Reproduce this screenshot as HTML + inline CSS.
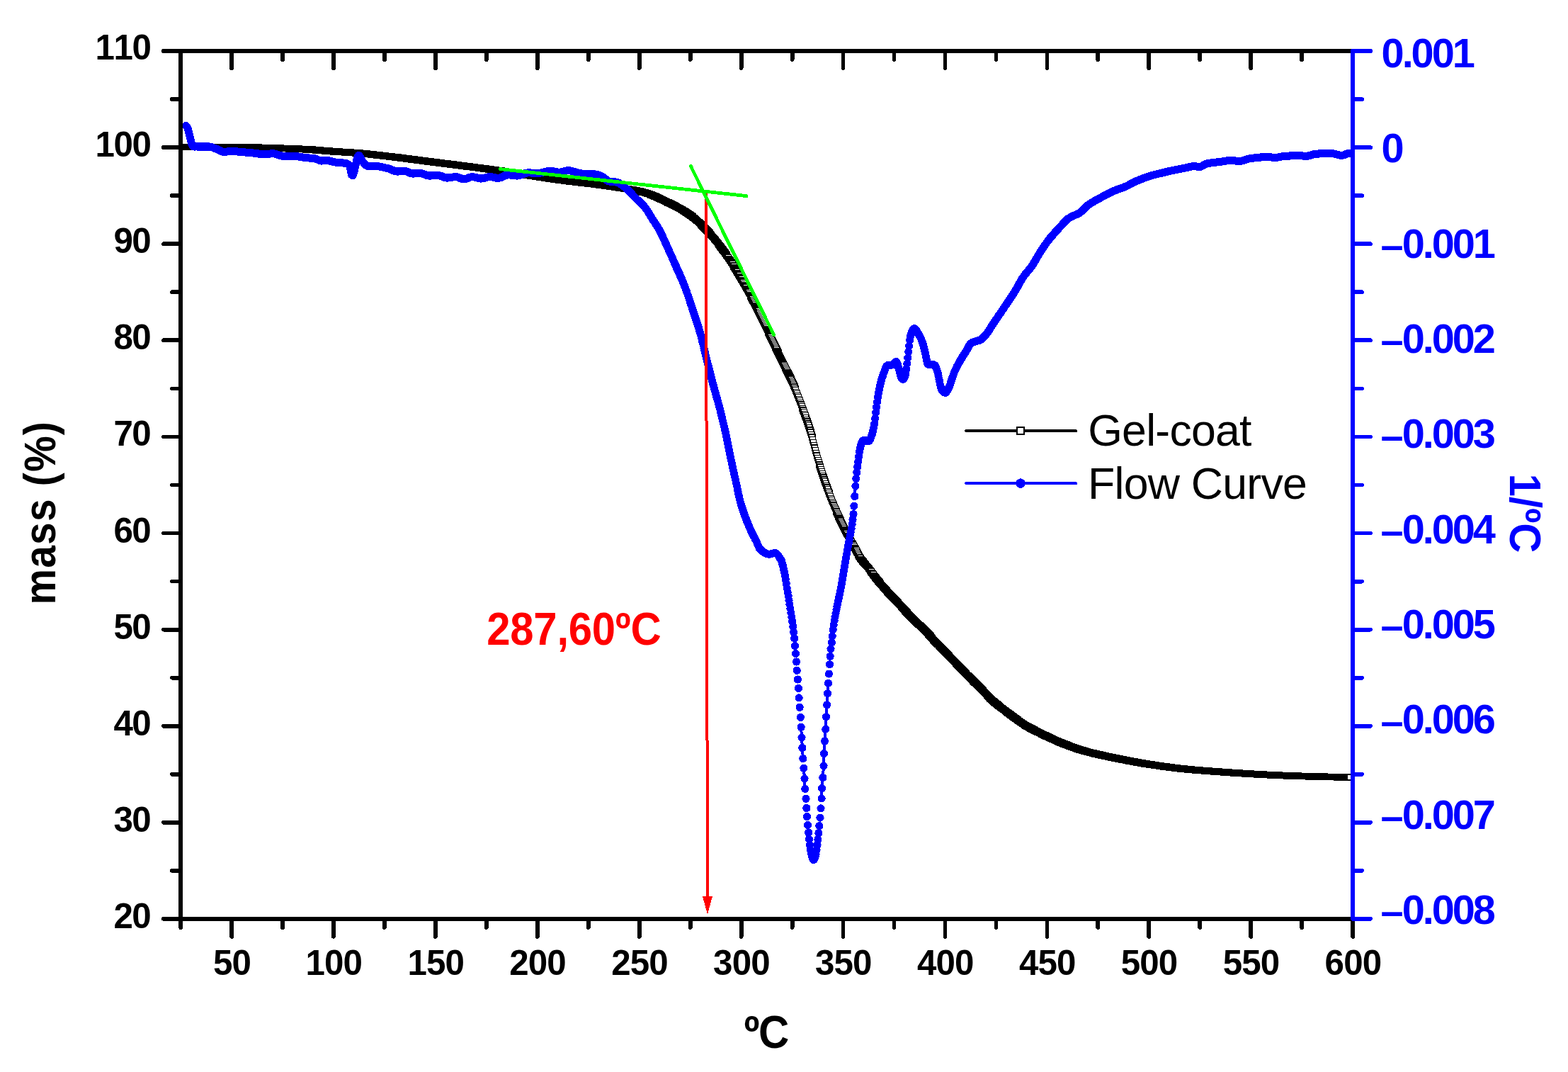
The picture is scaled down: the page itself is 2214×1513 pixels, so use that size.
<!DOCTYPE html>
<html lang="en"><head><meta charset="utf-8"><title>TGA / DTG - Gel-coat</title>
<style>html,body{margin:0;padding:0;background:#fff}svg{display:block}text{font-family:"Liberation Sans",sans-serif;font-kerning:none}.b{font-weight:bold}</style></head><body>
<svg width="2214" height="1513" viewBox="0 0 2214 1513" role="img" aria-label="TGA mass loss and DTG flow curve of gel-coat versus temperature">
<rect width="2214" height="1513" fill="#fff"/>
<g fill="#fff" stroke="#000000" stroke-width="1.4" shape-rendering="crispEdges">
<rect x="253.5" y="203.2" width="8.2" height="8.2"/><rect x="254.5" y="203.2" width="8.2" height="8.2"/><rect x="255.4" y="203.2" width="8.2" height="8.2"/><rect x="256.4" y="203.2" width="8.2" height="8.2"/><rect x="257.3" y="203.2" width="8.2" height="8.2"/><rect x="258.3" y="203.2" width="8.2" height="8.2"/><rect x="259.3" y="203.2" width="8.2" height="8.2"/><rect x="260.2" y="203.2" width="8.2" height="8.2"/><rect x="261.2" y="203.2" width="8.2" height="8.2"/><rect x="262.1" y="203.2" width="8.2" height="8.2"/><rect x="263.1" y="203.2" width="8.2" height="8.2"/><rect x="264.1" y="203.2" width="8.2" height="8.2"/><rect x="265" y="203.2" width="8.2" height="8.2"/><rect x="266" y="203.2" width="8.2" height="8.2"/><rect x="266.9" y="203.2" width="8.2" height="8.2"/><rect x="267.9" y="203.2" width="8.2" height="8.2"/><rect x="268.9" y="203.2" width="8.2" height="8.2"/><rect x="269.8" y="203.2" width="8.2" height="8.2"/><rect x="270.8" y="203.2" width="8.2" height="8.2"/><rect x="271.7" y="203.2" width="8.2" height="8.2"/><rect x="272.7" y="203.2" width="8.2" height="8.2"/><rect x="273.7" y="203.2" width="8.2" height="8.2"/><rect x="274.6" y="203.2" width="8.2" height="8.2"/><rect x="275.6" y="203.2" width="8.2" height="8.2"/><rect x="276.5" y="203.2" width="8.2" height="8.2"/><rect x="277.5" y="203.2" width="8.2" height="8.2"/><rect x="278.5" y="203.2" width="8.2" height="8.2"/><rect x="279.4" y="203.2" width="8.2" height="8.2"/><rect x="280.4" y="203.2" width="8.2" height="8.2"/><rect x="281.3" y="203.2" width="8.2" height="8.2"/><rect x="282.3" y="203.3" width="8.2" height="8.2"/><rect x="283.3" y="203.3" width="8.2" height="8.2"/><rect x="284.2" y="203.3" width="8.2" height="8.2"/><rect x="285.2" y="203.3" width="8.2" height="8.2"/><rect x="286.1" y="203.3" width="8.2" height="8.2"/><rect x="287.1" y="203.3" width="8.2" height="8.2"/><rect x="288.1" y="203.3" width="8.2" height="8.2"/><rect x="289" y="203.3" width="8.2" height="8.2"/><rect x="290" y="203.3" width="8.2" height="8.2"/><rect x="290.9" y="203.3" width="8.2" height="8.2"/><rect x="291.9" y="203.3" width="8.2" height="8.2"/><rect x="292.9" y="203.3" width="8.2" height="8.2"/><rect x="293.8" y="203.3" width="8.2" height="8.2"/><rect x="294.8" y="203.3" width="8.2" height="8.2"/><rect x="295.7" y="203.3" width="8.2" height="8.2"/><rect x="296.7" y="203.3" width="8.2" height="8.2"/><rect x="297.7" y="203.3" width="8.2" height="8.2"/><rect x="298.6" y="203.3" width="8.2" height="8.2"/><rect x="299.6" y="203.3" width="8.2" height="8.2"/><rect x="300.6" y="203.3" width="8.2" height="8.2"/><rect x="301.5" y="203.3" width="8.2" height="8.2"/><rect x="302.5" y="203.3" width="8.2" height="8.2"/><rect x="303.4" y="203.3" width="8.2" height="8.2"/><rect x="304.4" y="203.3" width="8.2" height="8.2"/><rect x="305.4" y="203.3" width="8.2" height="8.2"/><rect x="306.3" y="203.4" width="8.2" height="8.2"/><rect x="307.3" y="203.4" width="8.2" height="8.2"/><rect x="308.2" y="203.4" width="8.2" height="8.2"/><rect x="309.2" y="203.4" width="8.2" height="8.2"/><rect x="310.2" y="203.4" width="8.2" height="8.2"/><rect x="311.1" y="203.4" width="8.2" height="8.2"/><rect x="312.1" y="203.4" width="8.2" height="8.2"/><rect x="313" y="203.4" width="8.2" height="8.2"/><rect x="314" y="203.4" width="8.2" height="8.2"/><rect x="315" y="203.4" width="8.2" height="8.2"/><rect x="315.9" y="203.4" width="8.2" height="8.2"/><rect x="316.9" y="203.4" width="8.2" height="8.2"/><rect x="317.8" y="203.4" width="8.2" height="8.2"/><rect x="318.8" y="203.5" width="8.2" height="8.2"/><rect x="319.8" y="203.5" width="8.2" height="8.2"/><rect x="320.7" y="203.5" width="8.2" height="8.2"/><rect x="321.7" y="203.5" width="8.2" height="8.2"/><rect x="322.6" y="203.5" width="8.2" height="8.2"/><rect x="323.6" y="203.5" width="8.2" height="8.2"/><rect x="324.6" y="203.5" width="8.2" height="8.2"/><rect x="325.5" y="203.5" width="8.2" height="8.2"/><rect x="326.5" y="203.5" width="8.2" height="8.2"/><rect x="327.4" y="203.6" width="8.2" height="8.2"/><rect x="328.4" y="203.6" width="8.2" height="8.2"/><rect x="329.4" y="203.6" width="8.2" height="8.2"/><rect x="330.3" y="203.6" width="8.2" height="8.2"/><rect x="331.3" y="203.6" width="8.2" height="8.2"/><rect x="332.2" y="203.6" width="8.2" height="8.2"/><rect x="333.2" y="203.6" width="8.2" height="8.2"/><rect x="334.2" y="203.6" width="8.2" height="8.2"/><rect x="335.1" y="203.6" width="8.2" height="8.2"/><rect x="336.1" y="203.7" width="8.2" height="8.2"/><rect x="337" y="203.7" width="8.2" height="8.2"/><rect x="338" y="203.7" width="8.2" height="8.2"/><rect x="339" y="203.7" width="8.2" height="8.2"/><rect x="339.9" y="203.7" width="8.2" height="8.2"/><rect x="340.9" y="203.7" width="8.2" height="8.2"/><rect x="341.8" y="203.7" width="8.2" height="8.2"/><rect x="342.8" y="203.8" width="8.2" height="8.2"/><rect x="343.8" y="203.8" width="8.2" height="8.2"/><rect x="344.7" y="203.8" width="8.2" height="8.2"/><rect x="345.7" y="203.8" width="8.2" height="8.2"/><rect x="346.6" y="203.8" width="8.2" height="8.2"/><rect x="347.6" y="203.8" width="8.2" height="8.2"/><rect x="348.6" y="203.8" width="8.2" height="8.2"/><rect x="349.5" y="203.9" width="8.2" height="8.2"/><rect x="350.5" y="203.9" width="8.2" height="8.2"/><rect x="351.4" y="203.9" width="8.2" height="8.2"/><rect x="352.4" y="203.9" width="8.2" height="8.2"/><rect x="353.4" y="203.9" width="8.2" height="8.2"/><rect x="354.3" y="204" width="8.2" height="8.2"/><rect x="355.3" y="204" width="8.2" height="8.2"/><rect x="356.2" y="204" width="8.2" height="8.2"/><rect x="357.2" y="204" width="8.2" height="8.2"/><rect x="358.2" y="204.1" width="8.2" height="8.2"/><rect x="359.1" y="204.1" width="8.2" height="8.2"/><rect x="360.1" y="204.1" width="8.2" height="8.2"/><rect x="361" y="204.1" width="8.2" height="8.2"/><rect x="362" y="204.2" width="8.2" height="8.2"/><rect x="363" y="204.2" width="8.2" height="8.2"/><rect x="363.9" y="204.2" width="8.2" height="8.2"/><rect x="364.9" y="204.3" width="8.2" height="8.2"/><rect x="365.8" y="204.3" width="8.2" height="8.2"/><rect x="366.8" y="204.3" width="8.2" height="8.2"/><rect x="367.8" y="204.3" width="8.2" height="8.2"/><rect x="368.7" y="204.4" width="8.2" height="8.2"/><rect x="369.7" y="204.4" width="8.2" height="8.2"/><rect x="370.6" y="204.4" width="8.2" height="8.2"/><rect x="371.6" y="204.5" width="8.2" height="8.2"/><rect x="372.6" y="204.5" width="8.2" height="8.2"/><rect x="373.5" y="204.5" width="8.2" height="8.2"/><rect x="374.5" y="204.6" width="8.2" height="8.2"/><rect x="375.4" y="204.6" width="8.2" height="8.2"/><rect x="376.4" y="204.6" width="8.2" height="8.2"/><rect x="377.4" y="204.7" width="8.2" height="8.2"/><rect x="378.3" y="204.7" width="8.2" height="8.2"/><rect x="379.3" y="204.7" width="8.2" height="8.2"/><rect x="380.2" y="204.7" width="8.2" height="8.2"/><rect x="381.2" y="204.8" width="8.2" height="8.2"/><rect x="382.2" y="204.8" width="8.2" height="8.2"/><rect x="383.1" y="204.8" width="8.2" height="8.2"/><rect x="384.1" y="204.9" width="8.2" height="8.2"/><rect x="385.1" y="204.9" width="8.2" height="8.2"/><rect x="386" y="204.9" width="8.2" height="8.2"/><rect x="387" y="205" width="8.2" height="8.2"/><rect x="387.9" y="205" width="8.2" height="8.2"/><rect x="388.9" y="205" width="8.2" height="8.2"/><rect x="389.9" y="205.1" width="8.2" height="8.2"/><rect x="390.8" y="205.1" width="8.2" height="8.2"/><rect x="391.8" y="205.1" width="8.2" height="8.2"/><rect x="392.7" y="205.2" width="8.2" height="8.2"/><rect x="393.7" y="205.2" width="8.2" height="8.2"/><rect x="394.7" y="205.2" width="8.2" height="8.2"/><rect x="395.6" y="205.3" width="8.2" height="8.2"/><rect x="396.6" y="205.3" width="8.2" height="8.2"/><rect x="397.5" y="205.4" width="8.2" height="8.2"/><rect x="398.5" y="205.4" width="8.2" height="8.2"/><rect x="399.5" y="205.4" width="8.2" height="8.2"/><rect x="400.4" y="205.5" width="8.2" height="8.2"/><rect x="401.4" y="205.5" width="8.2" height="8.2"/><rect x="402.3" y="205.5" width="8.2" height="8.2"/><rect x="403.3" y="205.6" width="8.2" height="8.2"/><rect x="404.3" y="205.6" width="8.2" height="8.2"/><rect x="405.2" y="205.7" width="8.2" height="8.2"/><rect x="406.2" y="205.7" width="8.2" height="8.2"/><rect x="407.1" y="205.7" width="8.2" height="8.2"/><rect x="408.1" y="205.8" width="8.2" height="8.2"/><rect x="409.1" y="205.8" width="8.2" height="8.2"/><rect x="410" y="205.8" width="8.2" height="8.2"/><rect x="411" y="205.9" width="8.2" height="8.2"/><rect x="411.9" y="205.9" width="8.2" height="8.2"/><rect x="412.9" y="206" width="8.2" height="8.2"/><rect x="413.9" y="206" width="8.2" height="8.2"/><rect x="414.8" y="206" width="8.2" height="8.2"/><rect x="415.8" y="206.1" width="8.2" height="8.2"/><rect x="416.7" y="206.1" width="8.2" height="8.2"/><rect x="417.7" y="206.1" width="8.2" height="8.2"/><rect x="418.7" y="206.2" width="8.2" height="8.2"/><rect x="419.6" y="206.2" width="8.2" height="8.2"/><rect x="420.6" y="206.3" width="8.2" height="8.2"/><rect x="421.5" y="206.3" width="8.2" height="8.2"/><rect x="422.5" y="206.3" width="8.2" height="8.2"/><rect x="423.5" y="206.4" width="8.2" height="8.2"/><rect x="424.4" y="206.4" width="8.2" height="8.2"/><rect x="425.4" y="206.5" width="8.2" height="8.2"/><rect x="426.3" y="206.5" width="8.2" height="8.2"/><rect x="427.3" y="206.6" width="8.2" height="8.2"/><rect x="428.3" y="206.6" width="8.2" height="8.2"/><rect x="429.2" y="206.7" width="8.2" height="8.2"/><rect x="430.2" y="206.7" width="8.2" height="8.2"/><rect x="431.1" y="206.8" width="8.2" height="8.2"/><rect x="432.1" y="206.8" width="8.2" height="8.2"/><rect x="433.1" y="206.9" width="8.2" height="8.2"/><rect x="434" y="206.9" width="8.2" height="8.2"/><rect x="435" y="207" width="8.2" height="8.2"/><rect x="435.9" y="207.1" width="8.2" height="8.2"/><rect x="436.9" y="207.1" width="8.2" height="8.2"/><rect x="437.9" y="207.2" width="8.2" height="8.2"/><rect x="438.8" y="207.3" width="8.2" height="8.2"/><rect x="439.8" y="207.4" width="8.2" height="8.2"/><rect x="440.7" y="207.5" width="8.2" height="8.2"/><rect x="441.7" y="207.6" width="8.2" height="8.2"/><rect x="442.7" y="207.6" width="8.2" height="8.2"/><rect x="443.6" y="207.7" width="8.2" height="8.2"/><rect x="444.6" y="207.8" width="8.2" height="8.2"/><rect x="445.5" y="207.9" width="8.2" height="8.2"/><rect x="446.5" y="207.9" width="8.2" height="8.2"/><rect x="447.5" y="208" width="8.2" height="8.2"/><rect x="448.4" y="208.1" width="8.2" height="8.2"/><rect x="449.4" y="208.2" width="8.2" height="8.2"/><rect x="450.3" y="208.3" width="8.2" height="8.2"/><rect x="451.3" y="208.3" width="8.2" height="8.2"/><rect x="452.3" y="208.4" width="8.2" height="8.2"/><rect x="453.2" y="208.5" width="8.2" height="8.2"/><rect x="454.2" y="208.6" width="8.2" height="8.2"/><rect x="455.1" y="208.7" width="8.2" height="8.2"/><rect x="456.1" y="208.7" width="8.2" height="8.2"/><rect x="457.1" y="208.8" width="8.2" height="8.2"/><rect x="458" y="208.9" width="8.2" height="8.2"/><rect x="459" y="209" width="8.2" height="8.2"/><rect x="459.9" y="209" width="8.2" height="8.2"/><rect x="460.9" y="209.1" width="8.2" height="8.2"/><rect x="461.9" y="209.2" width="8.2" height="8.2"/><rect x="462.8" y="209.3" width="8.2" height="8.2"/><rect x="463.8" y="209.3" width="8.2" height="8.2"/><rect x="464.7" y="209.4" width="8.2" height="8.2"/><rect x="465.7" y="209.5" width="8.2" height="8.2"/><rect x="466.7" y="209.6" width="8.2" height="8.2"/><rect x="467.6" y="209.6" width="8.2" height="8.2"/><rect x="468.6" y="209.7" width="8.2" height="8.2"/><rect x="469.5" y="209.8" width="8.2" height="8.2"/><rect x="470.5" y="209.8" width="8.2" height="8.2"/><rect x="471.5" y="209.9" width="8.2" height="8.2"/><rect x="472.4" y="209.9" width="8.2" height="8.2"/><rect x="473.4" y="210" width="8.2" height="8.2"/><rect x="474.4" y="210.1" width="8.2" height="8.2"/><rect x="475.3" y="210.1" width="8.2" height="8.2"/><rect x="476.3" y="210.2" width="8.2" height="8.2"/><rect x="477.2" y="210.3" width="8.2" height="8.2"/><rect x="478.2" y="210.3" width="8.2" height="8.2"/><rect x="479.2" y="210.4" width="8.2" height="8.2"/><rect x="480.1" y="210.4" width="8.2" height="8.2"/><rect x="481.1" y="210.5" width="8.2" height="8.2"/><rect x="482" y="210.5" width="8.2" height="8.2"/><rect x="483" y="210.6" width="8.2" height="8.2"/><rect x="484" y="210.7" width="8.2" height="8.2"/><rect x="484.9" y="210.7" width="8.2" height="8.2"/><rect x="485.9" y="210.8" width="8.2" height="8.2"/><rect x="486.8" y="210.8" width="8.2" height="8.2"/><rect x="487.8" y="210.9" width="8.2" height="8.2"/><rect x="488.8" y="211" width="8.2" height="8.2"/><rect x="489.7" y="211" width="8.2" height="8.2"/><rect x="490.7" y="211.1" width="8.2" height="8.2"/><rect x="491.6" y="211.2" width="8.2" height="8.2"/><rect x="492.6" y="211.2" width="8.2" height="8.2"/><rect x="493.6" y="211.3" width="8.2" height="8.2"/><rect x="494.5" y="211.4" width="8.2" height="8.2"/><rect x="495.5" y="211.4" width="8.2" height="8.2"/><rect x="496.4" y="211.5" width="8.2" height="8.2"/><rect x="497.4" y="211.6" width="8.2" height="8.2"/><rect x="498.4" y="211.7" width="8.2" height="8.2"/><rect x="499.3" y="211.7" width="8.2" height="8.2"/><rect x="500.3" y="211.8" width="8.2" height="8.2"/><rect x="501.2" y="211.9" width="8.2" height="8.2"/><rect x="502.2" y="212" width="8.2" height="8.2"/><rect x="503.2" y="212.1" width="8.2" height="8.2"/><rect x="504.1" y="212.1" width="8.2" height="8.2"/><rect x="505.1" y="212.2" width="8.2" height="8.2"/><rect x="506" y="212.3" width="8.2" height="8.2"/><rect x="507" y="212.4" width="8.2" height="8.2"/><rect x="508" y="212.5" width="8.2" height="8.2"/><rect x="508.9" y="212.6" width="8.2" height="8.2"/><rect x="509.9" y="212.7" width="8.2" height="8.2"/><rect x="510.8" y="212.8" width="8.2" height="8.2"/><rect x="511.8" y="212.9" width="8.2" height="8.2"/><rect x="512.8" y="213" width="8.2" height="8.2"/><rect x="513.7" y="213.1" width="8.2" height="8.2"/><rect x="514.7" y="213.2" width="8.2" height="8.2"/><rect x="515.6" y="213.2" width="8.2" height="8.2"/><rect x="516.6" y="213.3" width="8.2" height="8.2"/><rect x="517.6" y="213.4" width="8.2" height="8.2"/><rect x="518.5" y="213.5" width="8.2" height="8.2"/><rect x="519.5" y="213.7" width="8.2" height="8.2"/><rect x="520.4" y="213.8" width="8.2" height="8.2"/><rect x="521.4" y="213.9" width="8.2" height="8.2"/><rect x="522.4" y="214" width="8.2" height="8.2"/><rect x="523.3" y="214.1" width="8.2" height="8.2"/><rect x="524.3" y="214.2" width="8.2" height="8.2"/><rect x="525.2" y="214.3" width="8.2" height="8.2"/><rect x="526.2" y="214.4" width="8.2" height="8.2"/><rect x="527.2" y="214.5" width="8.2" height="8.2"/><rect x="528.1" y="214.6" width="8.2" height="8.2"/><rect x="529.1" y="214.7" width="8.2" height="8.2"/><rect x="530" y="214.8" width="8.2" height="8.2"/><rect x="531" y="214.9" width="8.2" height="8.2"/><rect x="532" y="215" width="8.2" height="8.2"/><rect x="532.9" y="215.2" width="8.2" height="8.2"/><rect x="533.9" y="215.3" width="8.2" height="8.2"/><rect x="534.8" y="215.4" width="8.2" height="8.2"/><rect x="535.8" y="215.5" width="8.2" height="8.2"/><rect x="536.8" y="215.6" width="8.2" height="8.2"/><rect x="537.7" y="215.7" width="8.2" height="8.2"/><rect x="538.7" y="215.8" width="8.2" height="8.2"/><rect x="539.6" y="215.9" width="8.2" height="8.2"/><rect x="540.6" y="216" width="8.2" height="8.2"/><rect x="541.6" y="216.2" width="8.2" height="8.2"/><rect x="542.5" y="216.3" width="8.2" height="8.2"/><rect x="543.5" y="216.4" width="8.2" height="8.2"/><rect x="544.4" y="216.5" width="8.2" height="8.2"/><rect x="545.4" y="216.6" width="8.2" height="8.2"/><rect x="546.4" y="216.7" width="8.2" height="8.2"/><rect x="547.3" y="216.8" width="8.2" height="8.2"/><rect x="548.3" y="217" width="8.2" height="8.2"/><rect x="549.2" y="217.1" width="8.2" height="8.2"/><rect x="550.2" y="217.2" width="8.2" height="8.2"/><rect x="551.2" y="217.3" width="8.2" height="8.2"/><rect x="552.1" y="217.4" width="8.2" height="8.2"/><rect x="553.1" y="217.5" width="8.2" height="8.2"/><rect x="554" y="217.6" width="8.2" height="8.2"/><rect x="555" y="217.7" width="8.2" height="8.2"/><rect x="556" y="217.9" width="8.2" height="8.2"/><rect x="556.9" y="218" width="8.2" height="8.2"/><rect x="557.9" y="218.1" width="8.2" height="8.2"/><rect x="558.9" y="218.2" width="8.2" height="8.2"/><rect x="559.8" y="218.3" width="8.2" height="8.2"/><rect x="560.8" y="218.5" width="8.2" height="8.2"/><rect x="561.7" y="218.6" width="8.2" height="8.2"/><rect x="562.7" y="218.7" width="8.2" height="8.2"/><rect x="563.7" y="218.8" width="8.2" height="8.2"/><rect x="564.6" y="218.9" width="8.2" height="8.2"/><rect x="565.6" y="219.1" width="8.2" height="8.2"/><rect x="566.5" y="219.2" width="8.2" height="8.2"/><rect x="567.5" y="219.3" width="8.2" height="8.2"/><rect x="568.5" y="219.4" width="8.2" height="8.2"/><rect x="569.4" y="219.6" width="8.2" height="8.2"/><rect x="570.4" y="219.7" width="8.2" height="8.2"/><rect x="571.3" y="219.8" width="8.2" height="8.2"/><rect x="572.3" y="219.9" width="8.2" height="8.2"/><rect x="573.3" y="220.1" width="8.2" height="8.2"/><rect x="574.2" y="220.2" width="8.2" height="8.2"/><rect x="575.2" y="220.3" width="8.2" height="8.2"/><rect x="576.1" y="220.4" width="8.2" height="8.2"/><rect x="577.1" y="220.6" width="8.2" height="8.2"/><rect x="578.1" y="220.7" width="8.2" height="8.2"/><rect x="579" y="220.8" width="8.2" height="8.2"/><rect x="580" y="220.9" width="8.2" height="8.2"/><rect x="580.9" y="221.1" width="8.2" height="8.2"/><rect x="581.9" y="221.2" width="8.2" height="8.2"/><rect x="582.9" y="221.3" width="8.2" height="8.2"/><rect x="583.8" y="221.5" width="8.2" height="8.2"/><rect x="584.8" y="221.6" width="8.2" height="8.2"/><rect x="585.7" y="221.7" width="8.2" height="8.2"/><rect x="586.7" y="221.8" width="8.2" height="8.2"/><rect x="587.7" y="222" width="8.2" height="8.2"/><rect x="588.6" y="222.1" width="8.2" height="8.2"/><rect x="589.6" y="222.2" width="8.2" height="8.2"/><rect x="590.5" y="222.4" width="8.2" height="8.2"/><rect x="591.5" y="222.5" width="8.2" height="8.2"/><rect x="592.5" y="222.6" width="8.2" height="8.2"/><rect x="593.4" y="222.7" width="8.2" height="8.2"/><rect x="594.4" y="222.9" width="8.2" height="8.2"/><rect x="595.3" y="223" width="8.2" height="8.2"/><rect x="596.3" y="223.1" width="8.2" height="8.2"/><rect x="597.3" y="223.2" width="8.2" height="8.2"/><rect x="598.2" y="223.4" width="8.2" height="8.2"/><rect x="599.2" y="223.5" width="8.2" height="8.2"/><rect x="600.1" y="223.6" width="8.2" height="8.2"/><rect x="601.1" y="223.8" width="8.2" height="8.2"/><rect x="602.1" y="223.9" width="8.2" height="8.2"/><rect x="603" y="224" width="8.2" height="8.2"/><rect x="604" y="224.1" width="8.2" height="8.2"/><rect x="604.9" y="224.2" width="8.2" height="8.2"/><rect x="605.9" y="224.4" width="8.2" height="8.2"/><rect x="606.9" y="224.5" width="8.2" height="8.2"/><rect x="607.8" y="224.6" width="8.2" height="8.2"/><rect x="608.8" y="224.7" width="8.2" height="8.2"/><rect x="609.7" y="224.9" width="8.2" height="8.2"/><rect x="610.7" y="225" width="8.2" height="8.2"/><rect x="611.7" y="225.1" width="8.2" height="8.2"/><rect x="612.6" y="225.2" width="8.2" height="8.2"/><rect x="613.6" y="225.3" width="8.2" height="8.2"/><rect x="614.5" y="225.5" width="8.2" height="8.2"/><rect x="615.5" y="225.6" width="8.2" height="8.2"/><rect x="616.5" y="225.7" width="8.2" height="8.2"/><rect x="617.4" y="225.8" width="8.2" height="8.2"/><rect x="618.4" y="225.9" width="8.2" height="8.2"/><rect x="619.3" y="226.1" width="8.2" height="8.2"/><rect x="620.3" y="226.2" width="8.2" height="8.2"/><rect x="621.3" y="226.3" width="8.2" height="8.2"/><rect x="622.2" y="226.4" width="8.2" height="8.2"/><rect x="623.2" y="226.5" width="8.2" height="8.2"/><rect x="624.1" y="226.7" width="8.2" height="8.2"/><rect x="625.1" y="226.8" width="8.2" height="8.2"/><rect x="626.1" y="226.9" width="8.2" height="8.2"/><rect x="627" y="227" width="8.2" height="8.2"/><rect x="628" y="227.1" width="8.2" height="8.2"/><rect x="628.9" y="227.3" width="8.2" height="8.2"/><rect x="629.9" y="227.4" width="8.2" height="8.2"/><rect x="630.9" y="227.5" width="8.2" height="8.2"/><rect x="631.8" y="227.6" width="8.2" height="8.2"/><rect x="632.8" y="227.7" width="8.2" height="8.2"/><rect x="633.7" y="227.9" width="8.2" height="8.2"/><rect x="634.7" y="228" width="8.2" height="8.2"/><rect x="635.7" y="228.1" width="8.2" height="8.2"/><rect x="636.6" y="228.2" width="8.2" height="8.2"/><rect x="637.6" y="228.3" width="8.2" height="8.2"/><rect x="638.5" y="228.5" width="8.2" height="8.2"/><rect x="639.5" y="228.6" width="8.2" height="8.2"/><rect x="640.5" y="228.7" width="8.2" height="8.2"/><rect x="641.4" y="228.8" width="8.2" height="8.2"/><rect x="642.4" y="229" width="8.2" height="8.2"/><rect x="643.3" y="229.1" width="8.2" height="8.2"/><rect x="644.3" y="229.2" width="8.2" height="8.2"/><rect x="645.3" y="229.3" width="8.2" height="8.2"/><rect x="646.2" y="229.4" width="8.2" height="8.2"/><rect x="647.2" y="229.6" width="8.2" height="8.2"/><rect x="648.2" y="229.7" width="8.2" height="8.2"/><rect x="649.1" y="229.8" width="8.2" height="8.2"/><rect x="650.1" y="229.9" width="8.2" height="8.2"/><rect x="651" y="230.1" width="8.2" height="8.2"/><rect x="652" y="230.2" width="8.2" height="8.2"/><rect x="653" y="230.3" width="8.2" height="8.2"/><rect x="653.9" y="230.4" width="8.2" height="8.2"/><rect x="654.9" y="230.6" width="8.2" height="8.2"/><rect x="655.8" y="230.7" width="8.2" height="8.2"/><rect x="656.8" y="230.8" width="8.2" height="8.2"/><rect x="657.8" y="230.9" width="8.2" height="8.2"/><rect x="658.7" y="231" width="8.2" height="8.2"/><rect x="659.7" y="231.2" width="8.2" height="8.2"/><rect x="660.6" y="231.3" width="8.2" height="8.2"/><rect x="661.6" y="231.4" width="8.2" height="8.2"/><rect x="662.6" y="231.5" width="8.2" height="8.2"/><rect x="663.5" y="231.7" width="8.2" height="8.2"/><rect x="664.5" y="231.8" width="8.2" height="8.2"/><rect x="665.4" y="231.9" width="8.2" height="8.2"/><rect x="666.4" y="232" width="8.2" height="8.2"/><rect x="667.4" y="232.2" width="8.2" height="8.2"/><rect x="668.3" y="232.3" width="8.2" height="8.2"/><rect x="669.3" y="232.4" width="8.2" height="8.2"/><rect x="670.2" y="232.5" width="8.2" height="8.2"/><rect x="671.2" y="232.7" width="8.2" height="8.2"/><rect x="672.2" y="232.8" width="8.2" height="8.2"/><rect x="673.1" y="232.9" width="8.2" height="8.2"/><rect x="674.1" y="233" width="8.2" height="8.2"/><rect x="675" y="233.2" width="8.2" height="8.2"/><rect x="676" y="233.3" width="8.2" height="8.2"/><rect x="677" y="233.4" width="8.2" height="8.2"/><rect x="677.9" y="233.5" width="8.2" height="8.2"/><rect x="678.9" y="233.7" width="8.2" height="8.2"/><rect x="679.8" y="233.8" width="8.2" height="8.2"/><rect x="680.8" y="233.9" width="8.2" height="8.2"/><rect x="681.8" y="234.1" width="8.2" height="8.2"/><rect x="682.7" y="234.2" width="8.2" height="8.2"/><rect x="683.7" y="234.3" width="8.2" height="8.2"/><rect x="684.6" y="234.4" width="8.2" height="8.2"/><rect x="685.6" y="234.6" width="8.2" height="8.2"/><rect x="686.6" y="234.7" width="8.2" height="8.2"/><rect x="687.5" y="234.8" width="8.2" height="8.2"/><rect x="688.5" y="235" width="8.2" height="8.2"/><rect x="689.4" y="235.1" width="8.2" height="8.2"/><rect x="690.4" y="235.2" width="8.2" height="8.2"/><rect x="691.4" y="235.4" width="8.2" height="8.2"/><rect x="692.3" y="235.5" width="8.2" height="8.2"/><rect x="693.3" y="235.6" width="8.2" height="8.2"/><rect x="694.2" y="235.7" width="8.2" height="8.2"/><rect x="695.2" y="235.9" width="8.2" height="8.2"/><rect x="696.2" y="236" width="8.2" height="8.2"/><rect x="697.1" y="236.2" width="8.2" height="8.2"/><rect x="698.1" y="236.3" width="8.2" height="8.2"/><rect x="699" y="236.4" width="8.2" height="8.2"/><rect x="700" y="236.6" width="8.2" height="8.2"/><rect x="701" y="236.7" width="8.2" height="8.2"/><rect x="701.9" y="236.8" width="8.2" height="8.2"/><rect x="702.9" y="237" width="8.2" height="8.2"/><rect x="703.8" y="237.1" width="8.2" height="8.2"/><rect x="704.8" y="237.2" width="8.2" height="8.2"/><rect x="705.8" y="237.4" width="8.2" height="8.2"/><rect x="706.7" y="237.5" width="8.2" height="8.2"/><rect x="707.7" y="237.7" width="8.2" height="8.2"/><rect x="708.6" y="237.8" width="8.2" height="8.2"/><rect x="709.6" y="238" width="8.2" height="8.2"/><rect x="710.6" y="238.1" width="8.2" height="8.2"/><rect x="711.5" y="238.2" width="8.2" height="8.2"/><rect x="712.5" y="238.4" width="8.2" height="8.2"/><rect x="713.4" y="238.5" width="8.2" height="8.2"/><rect x="714.4" y="238.7" width="8.2" height="8.2"/><rect x="715.4" y="238.8" width="8.2" height="8.2"/><rect x="716.3" y="239" width="8.2" height="8.2"/><rect x="717.3" y="239.1" width="8.2" height="8.2"/><rect x="718.2" y="239.3" width="8.2" height="8.2"/><rect x="719.2" y="239.4" width="8.2" height="8.2"/><rect x="720.2" y="239.6" width="8.2" height="8.2"/><rect x="721.1" y="239.7" width="8.2" height="8.2"/><rect x="722.1" y="239.9" width="8.2" height="8.2"/><rect x="723" y="240" width="8.2" height="8.2"/><rect x="724" y="240.2" width="8.2" height="8.2"/><rect x="725" y="240.3" width="8.2" height="8.2"/><rect x="725.9" y="240.5" width="8.2" height="8.2"/><rect x="726.9" y="240.6" width="8.2" height="8.2"/><rect x="727.8" y="240.8" width="8.2" height="8.2"/><rect x="728.8" y="240.9" width="8.2" height="8.2"/><rect x="729.8" y="241.1" width="8.2" height="8.2"/><rect x="730.7" y="241.2" width="8.2" height="8.2"/><rect x="731.7" y="241.4" width="8.2" height="8.2"/><rect x="732.7" y="241.6" width="8.2" height="8.2"/><rect x="733.6" y="241.7" width="8.2" height="8.2"/><rect x="734.6" y="241.9" width="8.2" height="8.2"/><rect x="735.5" y="242" width="8.2" height="8.2"/><rect x="736.5" y="242.2" width="8.2" height="8.2"/><rect x="737.5" y="242.3" width="8.2" height="8.2"/><rect x="738.4" y="242.5" width="8.2" height="8.2"/><rect x="739.4" y="242.6" width="8.2" height="8.2"/><rect x="740.3" y="242.8" width="8.2" height="8.2"/><rect x="741.3" y="242.9" width="8.2" height="8.2"/><rect x="742.3" y="243.1" width="8.2" height="8.2"/><rect x="743.2" y="243.3" width="8.2" height="8.2"/><rect x="744.2" y="243.4" width="8.2" height="8.2"/><rect x="745.1" y="243.6" width="8.2" height="8.2"/><rect x="746.1" y="243.7" width="8.2" height="8.2"/><rect x="747.1" y="243.9" width="8.2" height="8.2"/><rect x="748" y="244" width="8.2" height="8.2"/><rect x="749" y="244.2" width="8.2" height="8.2"/><rect x="749.9" y="244.3" width="8.2" height="8.2"/><rect x="750.9" y="244.5" width="8.2" height="8.2"/><rect x="751.9" y="244.6" width="8.2" height="8.2"/><rect x="752.8" y="244.8" width="8.2" height="8.2"/><rect x="753.8" y="244.9" width="8.2" height="8.2"/><rect x="754.7" y="245.1" width="8.2" height="8.2"/><rect x="755.7" y="245.3" width="8.2" height="8.2"/><rect x="756.7" y="245.4" width="8.2" height="8.2"/><rect x="757.6" y="245.6" width="8.2" height="8.2"/><rect x="758.6" y="245.7" width="8.2" height="8.2"/><rect x="759.5" y="245.9" width="8.2" height="8.2"/><rect x="760.5" y="246" width="8.2" height="8.2"/><rect x="761.5" y="246.2" width="8.2" height="8.2"/><rect x="762.4" y="246.3" width="8.2" height="8.2"/><rect x="763.4" y="246.5" width="8.2" height="8.2"/><rect x="764.3" y="246.6" width="8.2" height="8.2"/><rect x="765.3" y="246.8" width="8.2" height="8.2"/><rect x="766.3" y="246.9" width="8.2" height="8.2"/><rect x="767.2" y="247.1" width="8.2" height="8.2"/><rect x="768.2" y="247.2" width="8.2" height="8.2"/><rect x="769.1" y="247.3" width="8.2" height="8.2"/><rect x="770.1" y="247.5" width="8.2" height="8.2"/><rect x="771.1" y="247.6" width="8.2" height="8.2"/><rect x="772" y="247.8" width="8.2" height="8.2"/><rect x="773" y="247.9" width="8.2" height="8.2"/><rect x="773.9" y="248.1" width="8.2" height="8.2"/><rect x="774.9" y="248.2" width="8.2" height="8.2"/><rect x="775.9" y="248.4" width="8.2" height="8.2"/><rect x="776.8" y="248.5" width="8.2" height="8.2"/><rect x="777.8" y="248.6" width="8.2" height="8.2"/><rect x="778.7" y="248.8" width="8.2" height="8.2"/><rect x="779.7" y="248.9" width="8.2" height="8.2"/><rect x="780.7" y="249.1" width="8.2" height="8.2"/><rect x="781.6" y="249.2" width="8.2" height="8.2"/><rect x="782.6" y="249.3" width="8.2" height="8.2"/><rect x="783.5" y="249.5" width="8.2" height="8.2"/><rect x="784.5" y="249.6" width="8.2" height="8.2"/><rect x="785.5" y="249.7" width="8.2" height="8.2"/><rect x="786.4" y="249.9" width="8.2" height="8.2"/><rect x="787.4" y="250" width="8.2" height="8.2"/><rect x="788.3" y="250.1" width="8.2" height="8.2"/><rect x="789.3" y="250.3" width="8.2" height="8.2"/><rect x="790.3" y="250.4" width="8.2" height="8.2"/><rect x="791.2" y="250.5" width="8.2" height="8.2"/><rect x="792.2" y="250.7" width="8.2" height="8.2"/><rect x="793.1" y="250.8" width="8.2" height="8.2"/><rect x="794.1" y="250.9" width="8.2" height="8.2"/><rect x="795.1" y="251" width="8.2" height="8.2"/><rect x="796" y="251.2" width="8.2" height="8.2"/><rect x="797" y="251.3" width="8.2" height="8.2"/><rect x="797.9" y="251.4" width="8.2" height="8.2"/><rect x="798.9" y="251.5" width="8.2" height="8.2"/><rect x="799.9" y="251.6" width="8.2" height="8.2"/><rect x="800.8" y="251.7" width="8.2" height="8.2"/><rect x="801.8" y="251.9" width="8.2" height="8.2"/><rect x="802.7" y="252" width="8.2" height="8.2"/><rect x="803.7" y="252.1" width="8.2" height="8.2"/><rect x="804.7" y="252.2" width="8.2" height="8.2"/><rect x="805.6" y="252.3" width="8.2" height="8.2"/><rect x="806.6" y="252.4" width="8.2" height="8.2"/><rect x="807.5" y="252.5" width="8.2" height="8.2"/><rect x="808.5" y="252.7" width="8.2" height="8.2"/><rect x="809.5" y="252.8" width="8.2" height="8.2"/><rect x="810.4" y="252.9" width="8.2" height="8.2"/><rect x="811.4" y="253" width="8.2" height="8.2"/><rect x="812.3" y="253.1" width="8.2" height="8.2"/><rect x="813.3" y="253.2" width="8.2" height="8.2"/><rect x="814.3" y="253.3" width="8.2" height="8.2"/><rect x="815.2" y="253.4" width="8.2" height="8.2"/><rect x="816.2" y="253.5" width="8.2" height="8.2"/><rect x="817.1" y="253.6" width="8.2" height="8.2"/><rect x="818.1" y="253.8" width="8.2" height="8.2"/><rect x="819.1" y="253.9" width="8.2" height="8.2"/><rect x="820" y="254" width="8.2" height="8.2"/><rect x="821" y="254.1" width="8.2" height="8.2"/><rect x="822" y="254.2" width="8.2" height="8.2"/><rect x="822.9" y="254.3" width="8.2" height="8.2"/><rect x="823.9" y="254.4" width="8.2" height="8.2"/><rect x="824.8" y="254.5" width="8.2" height="8.2"/><rect x="825.8" y="254.6" width="8.2" height="8.2"/><rect x="826.8" y="254.7" width="8.2" height="8.2"/><rect x="827.7" y="254.9" width="8.2" height="8.2"/><rect x="828.7" y="255" width="8.2" height="8.2"/><rect x="829.6" y="255.1" width="8.2" height="8.2"/><rect x="830.6" y="255.2" width="8.2" height="8.2"/><rect x="831.6" y="255.3" width="8.2" height="8.2"/><rect x="832.5" y="255.4" width="8.2" height="8.2"/><rect x="833.5" y="255.5" width="8.2" height="8.2"/><rect x="834.4" y="255.7" width="8.2" height="8.2"/><rect x="835.4" y="255.8" width="8.2" height="8.2"/><rect x="836.4" y="255.9" width="8.2" height="8.2"/><rect x="837.3" y="256" width="8.2" height="8.2"/><rect x="838.3" y="256.1" width="8.2" height="8.2"/><rect x="839.2" y="256.2" width="8.2" height="8.2"/><rect x="840.2" y="256.4" width="8.2" height="8.2"/><rect x="841.2" y="256.5" width="8.2" height="8.2"/><rect x="842.1" y="256.6" width="8.2" height="8.2"/><rect x="843.1" y="256.7" width="8.2" height="8.2"/><rect x="844" y="256.9" width="8.2" height="8.2"/><rect x="845" y="257" width="8.2" height="8.2"/><rect x="846" y="257.1" width="8.2" height="8.2"/><rect x="846.9" y="257.3" width="8.2" height="8.2"/><rect x="847.9" y="257.4" width="8.2" height="8.2"/><rect x="848.8" y="257.5" width="8.2" height="8.2"/><rect x="849.8" y="257.7" width="8.2" height="8.2"/><rect x="850.8" y="257.8" width="8.2" height="8.2"/><rect x="851.7" y="257.9" width="8.2" height="8.2"/><rect x="852.7" y="258.1" width="8.2" height="8.2"/><rect x="853.6" y="258.2" width="8.2" height="8.2"/><rect x="854.6" y="258.3" width="8.2" height="8.2"/><rect x="855.6" y="258.5" width="8.2" height="8.2"/><rect x="856.5" y="258.6" width="8.2" height="8.2"/><rect x="857.5" y="258.8" width="8.2" height="8.2"/><rect x="858.4" y="258.9" width="8.2" height="8.2"/><rect x="859.4" y="259.1" width="8.2" height="8.2"/><rect x="860.4" y="259.2" width="8.2" height="8.2"/><rect x="861.3" y="259.3" width="8.2" height="8.2"/><rect x="862.3" y="259.5" width="8.2" height="8.2"/><rect x="863.2" y="259.6" width="8.2" height="8.2"/><rect x="864.2" y="259.8" width="8.2" height="8.2"/><rect x="865.2" y="259.9" width="8.2" height="8.2"/><rect x="866.1" y="260" width="8.2" height="8.2"/><rect x="867.1" y="260.2" width="8.2" height="8.2"/><rect x="868" y="260.3" width="8.2" height="8.2"/><rect x="869" y="260.5" width="8.2" height="8.2"/><rect x="870" y="260.6" width="8.2" height="8.2"/><rect x="870.9" y="260.8" width="8.2" height="8.2"/><rect x="871.9" y="260.9" width="8.2" height="8.2"/><rect x="872.8" y="261.1" width="8.2" height="8.2"/><rect x="873.8" y="261.2" width="8.2" height="8.2"/><rect x="874.8" y="261.4" width="8.2" height="8.2"/><rect x="875.7" y="261.5" width="8.2" height="8.2"/><rect x="876.7" y="261.7" width="8.2" height="8.2"/><rect x="877.6" y="261.8" width="8.2" height="8.2"/><rect x="878.6" y="262" width="8.2" height="8.2"/><rect x="879.6" y="262.2" width="8.2" height="8.2"/><rect x="880.5" y="262.3" width="8.2" height="8.2"/><rect x="881.5" y="262.5" width="8.2" height="8.2"/><rect x="882.4" y="262.7" width="8.2" height="8.2"/><rect x="883.4" y="262.8" width="8.2" height="8.2"/><rect x="884.4" y="263" width="8.2" height="8.2"/><rect x="885.3" y="263.2" width="8.2" height="8.2"/><rect x="886.3" y="263.3" width="8.2" height="8.2"/><rect x="887.2" y="263.5" width="8.2" height="8.2"/><rect x="888.2" y="263.7" width="8.2" height="8.2"/><rect x="889.2" y="263.9" width="8.2" height="8.2"/><rect x="890.1" y="264.1" width="8.2" height="8.2"/><rect x="891.1" y="264.3" width="8.2" height="8.2"/><rect x="892" y="264.5" width="8.2" height="8.2"/><rect x="893" y="264.7" width="8.2" height="8.2"/><rect x="894" y="264.9" width="8.2" height="8.2"/><rect x="894.9" y="265.1" width="8.2" height="8.2"/><rect x="895.9" y="265.3" width="8.2" height="8.2"/><rect x="896.8" y="265.5" width="8.2" height="8.2"/><rect x="897.8" y="265.7" width="8.2" height="8.2"/><rect x="898.8" y="265.9" width="8.2" height="8.2"/><rect x="899.7" y="266.1" width="8.2" height="8.2"/><rect x="900.7" y="266.3" width="8.2" height="8.2"/><rect x="901.6" y="266.6" width="8.2" height="8.2"/><rect x="902.6" y="266.8" width="8.2" height="8.2"/><rect x="903.6" y="267" width="8.2" height="8.2"/><rect x="904.5" y="267.3" width="8.2" height="8.2"/><rect x="905.5" y="267.5" width="8.2" height="8.2"/><rect x="906.5" y="267.8" width="8.2" height="8.2"/><rect x="907.4" y="268" width="8.2" height="8.2"/><rect x="908.4" y="268.3" width="8.2" height="8.2"/><rect x="909.3" y="268.6" width="8.2" height="8.2"/><rect x="910.3" y="268.9" width="8.2" height="8.2"/><rect x="911.3" y="269.2" width="8.2" height="8.2"/><rect x="912.2" y="269.5" width="8.2" height="8.2"/><rect x="913.2" y="269.9" width="8.2" height="8.2"/><rect x="914.1" y="270.2" width="8.2" height="8.2"/><rect x="915.1" y="270.6" width="8.2" height="8.2"/><rect x="916.1" y="271" width="8.2" height="8.2"/><rect x="917" y="271.4" width="8.2" height="8.2"/><rect x="918" y="271.8" width="8.2" height="8.2"/><rect x="918.9" y="272.2" width="8.2" height="8.2"/><rect x="919.9" y="272.6" width="8.2" height="8.2"/><rect x="920.9" y="273" width="8.2" height="8.2"/><rect x="921.8" y="273.4" width="8.2" height="8.2"/><rect x="922.8" y="273.9" width="8.2" height="8.2"/><rect x="923.7" y="274.3" width="8.2" height="8.2"/><rect x="924.7" y="274.7" width="8.2" height="8.2"/><rect x="925.7" y="275.2" width="8.2" height="8.2"/><rect x="926.6" y="275.6" width="8.2" height="8.2"/><rect x="927.6" y="276.1" width="8.2" height="8.2"/><rect x="928.5" y="276.6" width="8.2" height="8.2"/><rect x="929.5" y="277" width="8.2" height="8.2"/><rect x="930.5" y="277.5" width="8.2" height="8.2"/><rect x="931.4" y="277.9" width="8.2" height="8.2"/><rect x="932.4" y="278.4" width="8.2" height="8.2"/><rect x="933.3" y="278.9" width="8.2" height="8.2"/><rect x="934.3" y="279.3" width="8.2" height="8.2"/><rect x="935.3" y="279.8" width="8.2" height="8.2"/><rect x="936.2" y="280.3" width="8.2" height="8.2"/><rect x="937.2" y="280.7" width="8.2" height="8.2"/><rect x="938.1" y="281.2" width="8.2" height="8.2"/><rect x="939.1" y="281.6" width="8.2" height="8.2"/><rect x="940.1" y="282.1" width="8.2" height="8.2"/><rect x="941" y="282.5" width="8.2" height="8.2"/><rect x="942" y="283" width="8.2" height="8.2"/><rect x="942.9" y="283.5" width="8.2" height="8.2"/><rect x="943.9" y="283.9" width="8.2" height="8.2"/><rect x="944.9" y="284.4" width="8.2" height="8.2"/><rect x="945.8" y="284.9" width="8.2" height="8.2"/><rect x="946.8" y="285.4" width="8.2" height="8.2"/><rect x="947.7" y="285.9" width="8.2" height="8.2"/><rect x="948.7" y="286.4" width="8.2" height="8.2"/><rect x="949.7" y="286.8" width="8.2" height="8.2"/><rect x="950.6" y="287.3" width="8.2" height="8.2"/><rect x="951.6" y="287.8" width="8.2" height="8.2"/><rect x="952.5" y="288.4" width="8.2" height="8.2"/><rect x="953.5" y="288.9" width="8.2" height="8.2"/><rect x="954.5" y="289.4" width="8.2" height="8.2"/><rect x="955.4" y="289.9" width="8.2" height="8.2"/><rect x="956.4" y="290.5" width="8.2" height="8.2"/><rect x="957.3" y="291" width="8.2" height="8.2"/><rect x="958.3" y="291.6" width="8.2" height="8.2"/><rect x="959.3" y="292.1" width="8.2" height="8.2"/><rect x="960.2" y="292.7" width="8.2" height="8.2"/><rect x="961.2" y="293.3" width="8.2" height="8.2"/><rect x="962.1" y="293.8" width="8.2" height="8.2"/><rect x="963.1" y="294.4" width="8.2" height="8.2"/><rect x="964.1" y="295" width="8.2" height="8.2"/><rect x="965" y="295.7" width="8.2" height="8.2"/><rect x="966" y="296.3" width="8.2" height="8.2"/><rect x="966.9" y="296.9" width="8.2" height="8.2"/><rect x="967.9" y="297.6" width="8.2" height="8.2"/><rect x="968.9" y="298.2" width="8.2" height="8.2"/><rect x="969.8" y="298.9" width="8.2" height="8.2"/><rect x="970.8" y="299.6" width="8.2" height="8.2"/><rect x="971.7" y="300.3" width="8.2" height="8.2"/><rect x="972.7" y="301" width="8.2" height="8.2"/><rect x="973.7" y="301.8" width="8.2" height="8.2"/><rect x="974.6" y="302.6" width="8.2" height="8.2"/><rect x="975.6" y="303.3" width="8.2" height="8.2"/><rect x="976.5" y="304.1" width="8.2" height="8.2"/><rect x="977.5" y="304.9" width="8.2" height="8.2"/><rect x="978.5" y="305.8" width="8.2" height="8.2"/><rect x="979.4" y="306.6" width="8.2" height="8.2"/><rect x="980.4" y="307.5" width="8.2" height="8.2"/><rect x="981.3" y="308.3" width="8.2" height="8.2"/><rect x="982.3" y="309.2" width="8.2" height="8.2"/><rect x="983.3" y="310.1" width="8.2" height="8.2"/><rect x="984.2" y="311" width="8.2" height="8.2"/><rect x="985.2" y="311.9" width="8.2" height="8.2"/><rect x="986.1" y="312.9" width="8.2" height="8.2"/><rect x="987.1" y="313.8" width="8.2" height="8.2"/><rect x="988.1" y="314.8" width="8.2" height="8.2"/><rect x="989" y="315.7" width="8.2" height="8.2"/><rect x="990" y="316.7" width="8.2" height="8.2"/><rect x="990.9" y="317.6" width="8.2" height="8.2"/><rect x="991.9" y="318.6" width="8.2" height="8.2"/><rect x="992.9" y="319.6" width="8.2" height="8.2"/><rect x="993.8" y="320.6" width="8.2" height="8.2"/><rect x="994.8" y="321.7" width="8.2" height="8.2"/><rect x="995.8" y="322.7" width="8.2" height="8.2"/><rect x="996.7" y="323.8" width="8.2" height="8.2"/><rect x="997.7" y="324.8" width="8.2" height="8.2"/><rect x="998.6" y="325.9" width="8.2" height="8.2"/><rect x="999.6" y="327" width="8.2" height="8.2"/><rect x="1000.6" y="328.1" width="8.2" height="8.2"/><rect x="1001.5" y="329.2" width="8.2" height="8.2"/><rect x="1002.5" y="330.4" width="8.2" height="8.2"/><rect x="1003.4" y="331.5" width="8.2" height="8.2"/><rect x="1004.4" y="332.7" width="8.2" height="8.2"/><rect x="1005.4" y="333.9" width="8.2" height="8.2"/><rect x="1006.3" y="335.1" width="8.2" height="8.2"/><rect x="1007.3" y="336.3" width="8.2" height="8.2"/><rect x="1008.2" y="337.5" width="8.2" height="8.2"/><rect x="1009.2" y="338.7" width="8.2" height="8.2"/><rect x="1010.2" y="339.9" width="8.2" height="8.2"/><rect x="1011.1" y="341.2" width="8.2" height="8.2"/><rect x="1012.1" y="342.4" width="8.2" height="8.2"/><rect x="1013" y="343.7" width="8.2" height="8.2"/><rect x="1014" y="345" width="8.2" height="8.2"/><rect x="1015" y="346.3" width="8.2" height="8.2"/><rect x="1015.9" y="347.6" width="8.2" height="8.2"/><rect x="1016.9" y="348.9" width="8.2" height="8.2"/><rect x="1017.8" y="350.2" width="8.2" height="8.2"/><rect x="1018.8" y="351.5" width="8.2" height="8.2"/><rect x="1019.8" y="352.9" width="8.2" height="8.2"/><rect x="1020.7" y="354.2" width="8.2" height="8.2"/><rect x="1021.7" y="355.6" width="8.2" height="8.2"/><rect x="1022.6" y="357" width="8.2" height="8.2"/><rect x="1023.6" y="358.3" width="8.2" height="8.2"/><rect x="1024.6" y="359.8" width="8.2" height="8.2"/><rect x="1025.5" y="361.2" width="8.2" height="8.2"/><rect x="1026.5" y="362.6" width="8.2" height="8.2"/><rect x="1027.4" y="364.1" width="8.2" height="8.2"/><rect x="1028.4" y="365.6" width="8.2" height="8.2"/><rect x="1029.4" y="367.1" width="8.2" height="8.2"/><rect x="1030.3" y="368.7" width="8.2" height="8.2"/><rect x="1031.3" y="370.2" width="8.2" height="8.2"/><rect x="1032.2" y="371.8" width="8.2" height="8.2"/><rect x="1033.2" y="373.3" width="8.2" height="8.2"/><rect x="1034.2" y="374.9" width="8.2" height="8.2"/><rect x="1035.1" y="376.5" width="8.2" height="8.2"/><rect x="1036.1" y="378.1" width="8.2" height="8.2"/><rect x="1037" y="379.8" width="8.2" height="8.2"/><rect x="1038" y="381.4" width="8.2" height="8.2"/><rect x="1039" y="383" width="8.2" height="8.2"/><rect x="1039.9" y="384.7" width="8.2" height="8.2"/><rect x="1040.9" y="386.4" width="8.2" height="8.2"/><rect x="1041.8" y="388" width="8.2" height="8.2"/><rect x="1042.8" y="389.7" width="8.2" height="8.2"/><rect x="1043.8" y="391.4" width="8.2" height="8.2"/><rect x="1044.7" y="393.1" width="8.2" height="8.2"/><rect x="1045.7" y="394.8" width="8.2" height="8.2"/><rect x="1046.6" y="396.5" width="8.2" height="8.2"/><rect x="1047.6" y="398.2" width="8.2" height="8.2"/><rect x="1048.6" y="399.9" width="8.2" height="8.2"/><rect x="1049.5" y="401.6" width="8.2" height="8.2"/><rect x="1050.5" y="403.4" width="8.2" height="8.2"/><rect x="1051.4" y="405.1" width="8.2" height="8.2"/><rect x="1052.4" y="406.9" width="8.2" height="8.2"/><rect x="1053.4" y="408.7" width="8.2" height="8.2"/><rect x="1054.3" y="410.5" width="8.2" height="8.2"/><rect x="1055.3" y="412.3" width="8.2" height="8.2"/><rect x="1056.2" y="414.1" width="8.2" height="8.2"/><rect x="1057.2" y="415.9" width="8.2" height="8.2"/><rect x="1058.2" y="417.8" width="8.2" height="8.2"/><rect x="1059.1" y="419.7" width="8.2" height="8.2"/><rect x="1060.1" y="421.5" width="8.2" height="8.2"/><rect x="1061" y="423.4" width="8.2" height="8.2"/><rect x="1062" y="425.3" width="8.2" height="8.2"/><rect x="1063" y="427.2" width="8.2" height="8.2"/><rect x="1063.9" y="429.1" width="8.2" height="8.2"/><rect x="1064.9" y="431" width="8.2" height="8.2"/><rect x="1065.8" y="432.9" width="8.2" height="8.2"/><rect x="1066.8" y="434.8" width="8.2" height="8.2"/><rect x="1067.8" y="436.8" width="8.2" height="8.2"/><rect x="1068.7" y="438.7" width="8.2" height="8.2"/><rect x="1069.7" y="440.7" width="8.2" height="8.2"/><rect x="1070.6" y="442.7" width="8.2" height="8.2"/><rect x="1071.6" y="444.7" width="8.2" height="8.2"/><rect x="1072.6" y="446.7" width="8.2" height="8.2"/><rect x="1073.5" y="448.7" width="8.2" height="8.2"/><rect x="1074.5" y="450.7" width="8.2" height="8.2"/><rect x="1075.4" y="452.7" width="8.2" height="8.2"/><rect x="1076.4" y="454.8" width="8.2" height="8.2"/><rect x="1077.4" y="456.8" width="8.2" height="8.2"/><rect x="1078.3" y="458.8" width="8.2" height="8.2"/><rect x="1079.3" y="460.9" width="8.2" height="8.2"/><rect x="1080.3" y="462.9" width="8.2" height="8.2"/><rect x="1081.2" y="465" width="8.2" height="8.2"/><rect x="1082.2" y="467" width="8.2" height="8.2"/><rect x="1083.1" y="469" width="8.2" height="8.2"/><rect x="1084.1" y="471.1" width="8.2" height="8.2"/><rect x="1085.1" y="473.2" width="8.2" height="8.2"/><rect x="1086" y="475.2" width="8.2" height="8.2"/><rect x="1087" y="477.3" width="8.2" height="8.2"/><rect x="1087.9" y="479.4" width="8.2" height="8.2"/><rect x="1088.9" y="481.5" width="8.2" height="8.2"/><rect x="1089.9" y="483.5" width="8.2" height="8.2"/><rect x="1090.8" y="485.6" width="8.2" height="8.2"/><rect x="1091.8" y="487.7" width="8.2" height="8.2"/><rect x="1092.7" y="489.8" width="8.2" height="8.2"/><rect x="1093.7" y="491.9" width="8.2" height="8.2"/><rect x="1094.7" y="493.9" width="8.2" height="8.2"/><rect x="1095.6" y="496" width="8.2" height="8.2"/><rect x="1096.6" y="498" width="8.2" height="8.2"/><rect x="1097.5" y="500.1" width="8.2" height="8.2"/><rect x="1098.5" y="502.1" width="8.2" height="8.2"/><rect x="1099.5" y="504.1" width="8.2" height="8.2"/><rect x="1100.4" y="506" width="8.2" height="8.2"/><rect x="1101.4" y="508" width="8.2" height="8.2"/><rect x="1102.3" y="509.9" width="8.2" height="8.2"/><rect x="1103.3" y="511.8" width="8.2" height="8.2"/><rect x="1104.3" y="513.7" width="8.2" height="8.2"/><rect x="1105.2" y="515.5" width="8.2" height="8.2"/><rect x="1106.2" y="517.4" width="8.2" height="8.2"/><rect x="1107.1" y="519.3" width="8.2" height="8.2"/><rect x="1108.1" y="521.2" width="8.2" height="8.2"/><rect x="1109.1" y="523.1" width="8.2" height="8.2"/><rect x="1110" y="525.1" width="8.2" height="8.2"/><rect x="1111" y="527" width="8.2" height="8.2"/><rect x="1111.9" y="529" width="8.2" height="8.2"/><rect x="1112.9" y="531.1" width="8.2" height="8.2"/><rect x="1113.9" y="533.2" width="8.2" height="8.2"/><rect x="1114.8" y="535.3" width="8.2" height="8.2"/><rect x="1115.8" y="537.5" width="8.2" height="8.2"/><rect x="1116.7" y="539.7" width="8.2" height="8.2"/><rect x="1117.7" y="542" width="8.2" height="8.2"/><rect x="1118.7" y="544.4" width="8.2" height="8.2"/><rect x="1119.6" y="546.8" width="8.2" height="8.2"/><rect x="1120.6" y="549.2" width="8.2" height="8.2"/><rect x="1121.5" y="551.7" width="8.2" height="8.2"/><rect x="1122.5" y="554.2" width="8.2" height="8.2"/><rect x="1123.5" y="556.7" width="8.2" height="8.2"/><rect x="1124.4" y="559.3" width="8.2" height="8.2"/><rect x="1125.4" y="561.8" width="8.2" height="8.2"/><rect x="1126.3" y="564.4" width="8.2" height="8.2"/><rect x="1127.3" y="567" width="8.2" height="8.2"/><rect x="1128.3" y="569.6" width="8.2" height="8.2"/><rect x="1129.2" y="572.3" width="8.2" height="8.2"/><rect x="1130.2" y="574.9" width="8.2" height="8.2"/><rect x="1131.1" y="577.5" width="8.2" height="8.2"/><rect x="1132.1" y="580.2" width="8.2" height="8.2"/><rect x="1133.1" y="582.8" width="8.2" height="8.2"/><rect x="1134" y="585.5" width="8.2" height="8.2"/><rect x="1135" y="588.3" width="8.2" height="8.2"/><rect x="1135.9" y="591.1" width="8.2" height="8.2"/><rect x="1136.9" y="593.9" width="8.2" height="8.2"/><rect x="1137.9" y="596.8" width="8.2" height="8.2"/><rect x="1138.8" y="599.8" width="8.2" height="8.2"/><rect x="1139.8" y="602.9" width="8.2" height="8.2"/><rect x="1140.7" y="606.1" width="8.2" height="8.2"/><rect x="1141.7" y="609.5" width="8.2" height="8.2"/><rect x="1142.7" y="613" width="8.2" height="8.2"/><rect x="1143.6" y="616.7" width="8.2" height="8.2"/><rect x="1144.6" y="620.5" width="8.2" height="8.2"/><rect x="1145.5" y="624.3" width="8.2" height="8.2"/><rect x="1146.5" y="628.1" width="8.2" height="8.2"/><rect x="1147.5" y="631.8" width="8.2" height="8.2"/><rect x="1148.4" y="635.4" width="8.2" height="8.2"/><rect x="1149.4" y="638.9" width="8.2" height="8.2"/><rect x="1150.3" y="642.2" width="8.2" height="8.2"/><rect x="1151.3" y="645.5" width="8.2" height="8.2"/><rect x="1152.3" y="648.7" width="8.2" height="8.2"/><rect x="1153.2" y="651.9" width="8.2" height="8.2"/><rect x="1154.2" y="655.1" width="8.2" height="8.2"/><rect x="1155.1" y="658.2" width="8.2" height="8.2"/><rect x="1156.1" y="661.2" width="8.2" height="8.2"/><rect x="1157.1" y="664.2" width="8.2" height="8.2"/><rect x="1158" y="667.2" width="8.2" height="8.2"/><rect x="1159" y="670.1" width="8.2" height="8.2"/><rect x="1159.9" y="673" width="8.2" height="8.2"/><rect x="1160.9" y="675.8" width="8.2" height="8.2"/><rect x="1161.9" y="678.5" width="8.2" height="8.2"/><rect x="1162.8" y="681.2" width="8.2" height="8.2"/><rect x="1163.8" y="683.9" width="8.2" height="8.2"/><rect x="1164.8" y="686.6" width="8.2" height="8.2"/><rect x="1165.7" y="689.2" width="8.2" height="8.2"/><rect x="1166.7" y="691.8" width="8.2" height="8.2"/><rect x="1167.6" y="694.3" width="8.2" height="8.2"/><rect x="1168.6" y="696.8" width="8.2" height="8.2"/><rect x="1169.6" y="699.3" width="8.2" height="8.2"/><rect x="1170.5" y="701.8" width="8.2" height="8.2"/><rect x="1171.5" y="704.2" width="8.2" height="8.2"/><rect x="1172.4" y="706.5" width="8.2" height="8.2"/><rect x="1173.4" y="708.9" width="8.2" height="8.2"/><rect x="1174.4" y="711.2" width="8.2" height="8.2"/><rect x="1175.3" y="713.5" width="8.2" height="8.2"/><rect x="1176.3" y="715.8" width="8.2" height="8.2"/><rect x="1177.2" y="718.1" width="8.2" height="8.2"/><rect x="1178.2" y="720.3" width="8.2" height="8.2"/><rect x="1179.2" y="722.5" width="8.2" height="8.2"/><rect x="1180.1" y="724.7" width="8.2" height="8.2"/><rect x="1181.1" y="726.9" width="8.2" height="8.2"/><rect x="1182" y="729" width="8.2" height="8.2"/><rect x="1183" y="731.1" width="8.2" height="8.2"/><rect x="1184" y="733.2" width="8.2" height="8.2"/><rect x="1184.9" y="735.3" width="8.2" height="8.2"/><rect x="1185.9" y="737.3" width="8.2" height="8.2"/><rect x="1186.8" y="739.3" width="8.2" height="8.2"/><rect x="1187.8" y="741.3" width="8.2" height="8.2"/><rect x="1188.8" y="743.2" width="8.2" height="8.2"/><rect x="1189.7" y="745.1" width="8.2" height="8.2"/><rect x="1190.7" y="746.9" width="8.2" height="8.2"/><rect x="1191.6" y="748.7" width="8.2" height="8.2"/><rect x="1192.6" y="750.5" width="8.2" height="8.2"/><rect x="1193.6" y="752.2" width="8.2" height="8.2"/><rect x="1194.5" y="754" width="8.2" height="8.2"/><rect x="1195.5" y="755.6" width="8.2" height="8.2"/><rect x="1196.4" y="757.3" width="8.2" height="8.2"/><rect x="1197.4" y="759" width="8.2" height="8.2"/><rect x="1198.4" y="760.7" width="8.2" height="8.2"/><rect x="1199.3" y="762.4" width="8.2" height="8.2"/><rect x="1200.3" y="764" width="8.2" height="8.2"/><rect x="1201.2" y="765.7" width="8.2" height="8.2"/><rect x="1202.2" y="767.5" width="8.2" height="8.2"/><rect x="1203.2" y="769.2" width="8.2" height="8.2"/><rect x="1204.1" y="771" width="8.2" height="8.2"/><rect x="1205.1" y="772.8" width="8.2" height="8.2"/><rect x="1206" y="774.7" width="8.2" height="8.2"/><rect x="1207" y="776.6" width="8.2" height="8.2"/><rect x="1208" y="778.8" width="8.2" height="8.2"/><rect x="1208.9" y="780.8" width="8.2" height="8.2"/><rect x="1209.9" y="782.4" width="8.2" height="8.2"/><rect x="1210.8" y="783.8" width="8.2" height="8.2"/><rect x="1211.8" y="785.2" width="8.2" height="8.2"/><rect x="1212.8" y="786.5" width="8.2" height="8.2"/><rect x="1213.7" y="787.7" width="8.2" height="8.2"/><rect x="1214.7" y="788.8" width="8.2" height="8.2"/><rect x="1215.6" y="789.9" width="8.2" height="8.2"/><rect x="1216.6" y="791" width="8.2" height="8.2"/><rect x="1217.6" y="792.1" width="8.2" height="8.2"/><rect x="1218.5" y="793.1" width="8.2" height="8.2"/><rect x="1219.5" y="794.2" width="8.2" height="8.2"/><rect x="1220.4" y="795.3" width="8.2" height="8.2"/><rect x="1221.4" y="796.5" width="8.2" height="8.2"/><rect x="1222.4" y="797.7" width="8.2" height="8.2"/><rect x="1223.3" y="798.9" width="8.2" height="8.2"/><rect x="1224.3" y="800.2" width="8.2" height="8.2"/><rect x="1225.2" y="801.5" width="8.2" height="8.2"/><rect x="1226.2" y="802.8" width="8.2" height="8.2"/><rect x="1227.2" y="804.2" width="8.2" height="8.2"/><rect x="1228.1" y="805.5" width="8.2" height="8.2"/><rect x="1229.1" y="806.8" width="8.2" height="8.2"/><rect x="1230" y="808.2" width="8.2" height="8.2"/><rect x="1231" y="809.5" width="8.2" height="8.2"/><rect x="1232" y="810.8" width="8.2" height="8.2"/><rect x="1232.9" y="812.1" width="8.2" height="8.2"/><rect x="1233.9" y="813.3" width="8.2" height="8.2"/><rect x="1234.8" y="814.6" width="8.2" height="8.2"/><rect x="1235.8" y="815.8" width="8.2" height="8.2"/><rect x="1236.8" y="816.9" width="8.2" height="8.2"/><rect x="1237.7" y="818.1" width="8.2" height="8.2"/><rect x="1238.7" y="819.2" width="8.2" height="8.2"/><rect x="1239.6" y="820.4" width="8.2" height="8.2"/><rect x="1240.6" y="821.5" width="8.2" height="8.2"/><rect x="1241.6" y="822.6" width="8.2" height="8.2"/><rect x="1242.5" y="823.7" width="8.2" height="8.2"/><rect x="1243.5" y="824.8" width="8.2" height="8.2"/><rect x="1244.4" y="825.9" width="8.2" height="8.2"/><rect x="1245.4" y="826.9" width="8.2" height="8.2"/><rect x="1246.4" y="828" width="8.2" height="8.2"/><rect x="1247.3" y="829.1" width="8.2" height="8.2"/><rect x="1248.3" y="830.1" width="8.2" height="8.2"/><rect x="1249.2" y="831.2" width="8.2" height="8.2"/><rect x="1250.2" y="832.2" width="8.2" height="8.2"/><rect x="1251.2" y="833.3" width="8.2" height="8.2"/><rect x="1252.1" y="834.3" width="8.2" height="8.2"/><rect x="1253.1" y="835.3" width="8.2" height="8.2"/><rect x="1254.1" y="836.3" width="8.2" height="8.2"/><rect x="1255" y="837.3" width="8.2" height="8.2"/><rect x="1256" y="838.3" width="8.2" height="8.2"/><rect x="1256.9" y="839.3" width="8.2" height="8.2"/><rect x="1257.9" y="840.3" width="8.2" height="8.2"/><rect x="1258.9" y="841.3" width="8.2" height="8.2"/><rect x="1259.8" y="842.3" width="8.2" height="8.2"/><rect x="1260.8" y="843.3" width="8.2" height="8.2"/><rect x="1261.7" y="844.3" width="8.2" height="8.2"/><rect x="1262.7" y="845.3" width="8.2" height="8.2"/><rect x="1263.7" y="846.4" width="8.2" height="8.2"/><rect x="1264.6" y="847.4" width="8.2" height="8.2"/><rect x="1265.6" y="848.5" width="8.2" height="8.2"/><rect x="1266.5" y="849.6" width="8.2" height="8.2"/><rect x="1267.5" y="850.6" width="8.2" height="8.2"/><rect x="1268.5" y="851.7" width="8.2" height="8.2"/><rect x="1269.4" y="852.8" width="8.2" height="8.2"/><rect x="1270.4" y="853.8" width="8.2" height="8.2"/><rect x="1271.3" y="854.9" width="8.2" height="8.2"/><rect x="1272.3" y="855.9" width="8.2" height="8.2"/><rect x="1273.3" y="857" width="8.2" height="8.2"/><rect x="1274.2" y="858" width="8.2" height="8.2"/><rect x="1275.2" y="859.1" width="8.2" height="8.2"/><rect x="1276.1" y="860.1" width="8.2" height="8.2"/><rect x="1277.1" y="861.1" width="8.2" height="8.2"/><rect x="1278.1" y="862.2" width="8.2" height="8.2"/><rect x="1279" y="863.2" width="8.2" height="8.2"/><rect x="1280" y="864.3" width="8.2" height="8.2"/><rect x="1280.9" y="865.3" width="8.2" height="8.2"/><rect x="1281.9" y="866.3" width="8.2" height="8.2"/><rect x="1282.9" y="867.4" width="8.2" height="8.2"/><rect x="1283.8" y="868.4" width="8.2" height="8.2"/><rect x="1284.8" y="869.4" width="8.2" height="8.2"/><rect x="1285.7" y="870.4" width="8.2" height="8.2"/><rect x="1286.7" y="871.3" width="8.2" height="8.2"/><rect x="1287.7" y="872.3" width="8.2" height="8.2"/><rect x="1288.6" y="873.2" width="8.2" height="8.2"/><rect x="1289.6" y="874.1" width="8.2" height="8.2"/><rect x="1290.5" y="875" width="8.2" height="8.2"/><rect x="1291.5" y="875.8" width="8.2" height="8.2"/><rect x="1292.5" y="876.7" width="8.2" height="8.2"/><rect x="1293.4" y="877.5" width="8.2" height="8.2"/><rect x="1294.4" y="878.3" width="8.2" height="8.2"/><rect x="1295.3" y="879.1" width="8.2" height="8.2"/><rect x="1296.3" y="879.9" width="8.2" height="8.2"/><rect x="1297.3" y="880.8" width="8.2" height="8.2"/><rect x="1298.2" y="881.6" width="8.2" height="8.2"/><rect x="1299.2" y="882.5" width="8.2" height="8.2"/><rect x="1300.1" y="883.4" width="8.2" height="8.2"/><rect x="1301.1" y="884.3" width="8.2" height="8.2"/><rect x="1302.1" y="885.3" width="8.2" height="8.2"/><rect x="1303" y="886.3" width="8.2" height="8.2"/><rect x="1304" y="887.3" width="8.2" height="8.2"/><rect x="1304.9" y="888.4" width="8.2" height="8.2"/><rect x="1305.9" y="889.5" width="8.2" height="8.2"/><rect x="1306.9" y="890.7" width="8.2" height="8.2"/><rect x="1307.8" y="891.8" width="8.2" height="8.2"/><rect x="1308.8" y="893" width="8.2" height="8.2"/><rect x="1309.7" y="894.1" width="8.2" height="8.2"/><rect x="1310.7" y="895.3" width="8.2" height="8.2"/><rect x="1311.7" y="896.4" width="8.2" height="8.2"/><rect x="1312.6" y="897.6" width="8.2" height="8.2"/><rect x="1313.6" y="898.7" width="8.2" height="8.2"/><rect x="1314.5" y="899.7" width="8.2" height="8.2"/><rect x="1315.5" y="900.7" width="8.2" height="8.2"/><rect x="1316.5" y="901.7" width="8.2" height="8.2"/><rect x="1317.4" y="902.7" width="8.2" height="8.2"/><rect x="1318.4" y="903.7" width="8.2" height="8.2"/><rect x="1319.3" y="904.7" width="8.2" height="8.2"/><rect x="1320.3" y="905.6" width="8.2" height="8.2"/><rect x="1321.3" y="906.5" width="8.2" height="8.2"/><rect x="1322.2" y="907.5" width="8.2" height="8.2"/><rect x="1323.2" y="908.4" width="8.2" height="8.2"/><rect x="1324.1" y="909.4" width="8.2" height="8.2"/><rect x="1325.1" y="910.3" width="8.2" height="8.2"/><rect x="1326.1" y="911.2" width="8.2" height="8.2"/><rect x="1327" y="912.2" width="8.2" height="8.2"/><rect x="1328" y="913.2" width="8.2" height="8.2"/><rect x="1328.9" y="914.2" width="8.2" height="8.2"/><rect x="1329.9" y="915.2" width="8.2" height="8.2"/><rect x="1330.9" y="916.2" width="8.2" height="8.2"/><rect x="1331.8" y="917.2" width="8.2" height="8.2"/><rect x="1332.8" y="918.2" width="8.2" height="8.2"/><rect x="1333.7" y="919.2" width="8.2" height="8.2"/><rect x="1334.7" y="920.2" width="8.2" height="8.2"/><rect x="1335.7" y="921.2" width="8.2" height="8.2"/><rect x="1336.6" y="922.3" width="8.2" height="8.2"/><rect x="1337.6" y="923.3" width="8.2" height="8.2"/><rect x="1338.6" y="924.3" width="8.2" height="8.2"/><rect x="1339.5" y="925.3" width="8.2" height="8.2"/><rect x="1340.5" y="926.3" width="8.2" height="8.2"/><rect x="1341.4" y="927.3" width="8.2" height="8.2"/><rect x="1342.4" y="928.4" width="8.2" height="8.2"/><rect x="1343.4" y="929.4" width="8.2" height="8.2"/><rect x="1344.3" y="930.4" width="8.2" height="8.2"/><rect x="1345.3" y="931.4" width="8.2" height="8.2"/><rect x="1346.2" y="932.4" width="8.2" height="8.2"/><rect x="1347.2" y="933.4" width="8.2" height="8.2"/><rect x="1348.2" y="934.5" width="8.2" height="8.2"/><rect x="1349.1" y="935.5" width="8.2" height="8.2"/><rect x="1350.1" y="936.5" width="8.2" height="8.2"/><rect x="1351" y="937.5" width="8.2" height="8.2"/><rect x="1352" y="938.5" width="8.2" height="8.2"/><rect x="1353" y="939.5" width="8.2" height="8.2"/><rect x="1353.9" y="940.5" width="8.2" height="8.2"/><rect x="1354.9" y="941.5" width="8.2" height="8.2"/><rect x="1355.8" y="942.5" width="8.2" height="8.2"/><rect x="1356.8" y="943.4" width="8.2" height="8.2"/><rect x="1357.8" y="944.4" width="8.2" height="8.2"/><rect x="1358.7" y="945.4" width="8.2" height="8.2"/><rect x="1359.7" y="946.3" width="8.2" height="8.2"/><rect x="1360.6" y="947.3" width="8.2" height="8.2"/><rect x="1361.6" y="948.2" width="8.2" height="8.2"/><rect x="1362.6" y="949.2" width="8.2" height="8.2"/><rect x="1363.5" y="950.1" width="8.2" height="8.2"/><rect x="1364.5" y="951.1" width="8.2" height="8.2"/><rect x="1365.4" y="952.1" width="8.2" height="8.2"/><rect x="1366.4" y="953" width="8.2" height="8.2"/><rect x="1367.4" y="954" width="8.2" height="8.2"/><rect x="1368.3" y="954.9" width="8.2" height="8.2"/><rect x="1369.3" y="955.9" width="8.2" height="8.2"/><rect x="1370.2" y="956.8" width="8.2" height="8.2"/><rect x="1371.2" y="957.8" width="8.2" height="8.2"/><rect x="1372.2" y="958.7" width="8.2" height="8.2"/><rect x="1373.1" y="959.6" width="8.2" height="8.2"/><rect x="1374.1" y="960.6" width="8.2" height="8.2"/><rect x="1375" y="961.5" width="8.2" height="8.2"/><rect x="1376" y="962.5" width="8.2" height="8.2"/><rect x="1377" y="963.4" width="8.2" height="8.2"/><rect x="1377.9" y="964.4" width="8.2" height="8.2"/><rect x="1378.9" y="965.3" width="8.2" height="8.2"/><rect x="1379.8" y="966.3" width="8.2" height="8.2"/><rect x="1380.8" y="967.3" width="8.2" height="8.2"/><rect x="1381.8" y="968.3" width="8.2" height="8.2"/><rect x="1382.7" y="969.3" width="8.2" height="8.2"/><rect x="1383.7" y="970.3" width="8.2" height="8.2"/><rect x="1384.6" y="971.4" width="8.2" height="8.2"/><rect x="1385.6" y="972.4" width="8.2" height="8.2"/><rect x="1386.6" y="973.5" width="8.2" height="8.2"/><rect x="1387.5" y="974.6" width="8.2" height="8.2"/><rect x="1388.5" y="975.6" width="8.2" height="8.2"/><rect x="1389.4" y="976.7" width="8.2" height="8.2"/><rect x="1390.4" y="977.7" width="8.2" height="8.2"/><rect x="1391.4" y="978.8" width="8.2" height="8.2"/><rect x="1392.3" y="979.8" width="8.2" height="8.2"/><rect x="1393.3" y="980.8" width="8.2" height="8.2"/><rect x="1394.2" y="981.7" width="8.2" height="8.2"/><rect x="1395.2" y="982.6" width="8.2" height="8.2"/><rect x="1396.2" y="983.5" width="8.2" height="8.2"/><rect x="1397.1" y="984.4" width="8.2" height="8.2"/><rect x="1398.1" y="985.3" width="8.2" height="8.2"/><rect x="1399" y="986.1" width="8.2" height="8.2"/><rect x="1400" y="986.9" width="8.2" height="8.2"/><rect x="1401" y="987.8" width="8.2" height="8.2"/><rect x="1401.9" y="988.6" width="8.2" height="8.2"/><rect x="1402.9" y="989.4" width="8.2" height="8.2"/><rect x="1403.8" y="990.1" width="8.2" height="8.2"/><rect x="1404.8" y="990.9" width="8.2" height="8.2"/><rect x="1405.8" y="991.7" width="8.2" height="8.2"/><rect x="1406.7" y="992.4" width="8.2" height="8.2"/><rect x="1407.7" y="993.2" width="8.2" height="8.2"/><rect x="1408.6" y="993.9" width="8.2" height="8.2"/><rect x="1409.6" y="994.7" width="8.2" height="8.2"/><rect x="1410.6" y="995.4" width="8.2" height="8.2"/><rect x="1411.5" y="996.1" width="8.2" height="8.2"/><rect x="1412.5" y="996.9" width="8.2" height="8.2"/><rect x="1413.4" y="997.6" width="8.2" height="8.2"/><rect x="1414.4" y="998.3" width="8.2" height="8.2"/><rect x="1415.4" y="999" width="8.2" height="8.2"/><rect x="1416.3" y="999.7" width="8.2" height="8.2"/><rect x="1417.3" y="1000.5" width="8.2" height="8.2"/><rect x="1418.2" y="1001.2" width="8.2" height="8.2"/><rect x="1419.2" y="1001.9" width="8.2" height="8.2"/><rect x="1420.2" y="1002.6" width="8.2" height="8.2"/><rect x="1421.1" y="1003.4" width="8.2" height="8.2"/><rect x="1422.1" y="1004.1" width="8.2" height="8.2"/><rect x="1423" y="1004.8" width="8.2" height="8.2"/><rect x="1424" y="1005.5" width="8.2" height="8.2"/><rect x="1425" y="1006.3" width="8.2" height="8.2"/><rect x="1425.9" y="1007" width="8.2" height="8.2"/><rect x="1426.9" y="1007.7" width="8.2" height="8.2"/><rect x="1427.9" y="1008.4" width="8.2" height="8.2"/><rect x="1428.8" y="1009.2" width="8.2" height="8.2"/><rect x="1429.8" y="1009.9" width="8.2" height="8.2"/><rect x="1430.7" y="1010.6" width="8.2" height="8.2"/><rect x="1431.7" y="1011.3" width="8.2" height="8.2"/><rect x="1432.7" y="1012" width="8.2" height="8.2"/><rect x="1433.6" y="1012.7" width="8.2" height="8.2"/><rect x="1434.6" y="1013.3" width="8.2" height="8.2"/><rect x="1435.5" y="1014" width="8.2" height="8.2"/><rect x="1436.5" y="1014.7" width="8.2" height="8.2"/><rect x="1437.5" y="1015.4" width="8.2" height="8.2"/><rect x="1438.4" y="1016" width="8.2" height="8.2"/><rect x="1439.4" y="1016.7" width="8.2" height="8.2"/><rect x="1440.3" y="1017.3" width="8.2" height="8.2"/><rect x="1441.3" y="1017.9" width="8.2" height="8.2"/><rect x="1442.3" y="1018.5" width="8.2" height="8.2"/><rect x="1443.2" y="1019.2" width="8.2" height="8.2"/><rect x="1444.2" y="1019.8" width="8.2" height="8.2"/><rect x="1445.1" y="1020.3" width="8.2" height="8.2"/><rect x="1446.1" y="1020.9" width="8.2" height="8.2"/><rect x="1447.1" y="1021.5" width="8.2" height="8.2"/><rect x="1448" y="1022" width="8.2" height="8.2"/><rect x="1449" y="1022.6" width="8.2" height="8.2"/><rect x="1449.9" y="1023.1" width="8.2" height="8.2"/><rect x="1450.9" y="1023.7" width="8.2" height="8.2"/><rect x="1451.9" y="1024.2" width="8.2" height="8.2"/><rect x="1452.8" y="1024.7" width="8.2" height="8.2"/><rect x="1453.8" y="1025.2" width="8.2" height="8.2"/><rect x="1454.7" y="1025.7" width="8.2" height="8.2"/><rect x="1455.7" y="1026.2" width="8.2" height="8.2"/><rect x="1456.7" y="1026.7" width="8.2" height="8.2"/><rect x="1457.6" y="1027.2" width="8.2" height="8.2"/><rect x="1458.6" y="1027.7" width="8.2" height="8.2"/><rect x="1459.5" y="1028.2" width="8.2" height="8.2"/><rect x="1460.5" y="1028.7" width="8.2" height="8.2"/><rect x="1461.5" y="1029.1" width="8.2" height="8.2"/><rect x="1462.4" y="1029.6" width="8.2" height="8.2"/><rect x="1463.4" y="1030.1" width="8.2" height="8.2"/><rect x="1464.3" y="1030.5" width="8.2" height="8.2"/><rect x="1465.3" y="1031" width="8.2" height="8.2"/><rect x="1466.3" y="1031.5" width="8.2" height="8.2"/><rect x="1467.2" y="1031.9" width="8.2" height="8.2"/><rect x="1468.2" y="1032.4" width="8.2" height="8.2"/><rect x="1469.1" y="1032.8" width="8.2" height="8.2"/><rect x="1470.1" y="1033.3" width="8.2" height="8.2"/><rect x="1471.1" y="1033.7" width="8.2" height="8.2"/><rect x="1472" y="1034.2" width="8.2" height="8.2"/><rect x="1473" y="1034.7" width="8.2" height="8.2"/><rect x="1473.9" y="1035.1" width="8.2" height="8.2"/><rect x="1474.9" y="1035.6" width="8.2" height="8.2"/><rect x="1475.9" y="1036" width="8.2" height="8.2"/><rect x="1476.8" y="1036.5" width="8.2" height="8.2"/><rect x="1477.8" y="1036.9" width="8.2" height="8.2"/><rect x="1478.7" y="1037.4" width="8.2" height="8.2"/><rect x="1479.7" y="1037.8" width="8.2" height="8.2"/><rect x="1480.7" y="1038.3" width="8.2" height="8.2"/><rect x="1481.6" y="1038.7" width="8.2" height="8.2"/><rect x="1482.6" y="1039.2" width="8.2" height="8.2"/><rect x="1483.5" y="1039.6" width="8.2" height="8.2"/><rect x="1484.5" y="1040" width="8.2" height="8.2"/><rect x="1485.5" y="1040.5" width="8.2" height="8.2"/><rect x="1486.4" y="1040.9" width="8.2" height="8.2"/><rect x="1487.4" y="1041.3" width="8.2" height="8.2"/><rect x="1488.3" y="1041.7" width="8.2" height="8.2"/><rect x="1489.3" y="1042.2" width="8.2" height="8.2"/><rect x="1490.3" y="1042.6" width="8.2" height="8.2"/><rect x="1491.2" y="1043" width="8.2" height="8.2"/><rect x="1492.2" y="1043.4" width="8.2" height="8.2"/><rect x="1493.1" y="1043.8" width="8.2" height="8.2"/><rect x="1494.1" y="1044.2" width="8.2" height="8.2"/><rect x="1495.1" y="1044.6" width="8.2" height="8.2"/><rect x="1496" y="1045" width="8.2" height="8.2"/><rect x="1497" y="1045.3" width="8.2" height="8.2"/><rect x="1497.9" y="1045.7" width="8.2" height="8.2"/><rect x="1498.9" y="1046.1" width="8.2" height="8.2"/><rect x="1499.9" y="1046.5" width="8.2" height="8.2"/><rect x="1500.8" y="1046.8" width="8.2" height="8.2"/><rect x="1501.8" y="1047.2" width="8.2" height="8.2"/><rect x="1502.7" y="1047.6" width="8.2" height="8.2"/><rect x="1503.7" y="1047.9" width="8.2" height="8.2"/><rect x="1504.7" y="1048.3" width="8.2" height="8.2"/><rect x="1505.6" y="1048.7" width="8.2" height="8.2"/><rect x="1506.6" y="1049" width="8.2" height="8.2"/><rect x="1507.5" y="1049.4" width="8.2" height="8.2"/><rect x="1508.5" y="1049.7" width="8.2" height="8.2"/><rect x="1509.5" y="1050.1" width="8.2" height="8.2"/><rect x="1510.4" y="1050.4" width="8.2" height="8.2"/><rect x="1511.4" y="1050.8" width="8.2" height="8.2"/><rect x="1512.4" y="1051.1" width="8.2" height="8.2"/><rect x="1513.3" y="1051.5" width="8.2" height="8.2"/><rect x="1514.3" y="1051.8" width="8.2" height="8.2"/><rect x="1515.2" y="1052.1" width="8.2" height="8.2"/><rect x="1516.2" y="1052.4" width="8.2" height="8.2"/><rect x="1517.2" y="1052.8" width="8.2" height="8.2"/><rect x="1518.1" y="1053.1" width="8.2" height="8.2"/><rect x="1519.1" y="1053.4" width="8.2" height="8.2"/><rect x="1520" y="1053.7" width="8.2" height="8.2"/><rect x="1521" y="1054" width="8.2" height="8.2"/><rect x="1522" y="1054.3" width="8.2" height="8.2"/><rect x="1522.9" y="1054.6" width="8.2" height="8.2"/><rect x="1523.9" y="1054.9" width="8.2" height="8.2"/><rect x="1524.8" y="1055.2" width="8.2" height="8.2"/><rect x="1525.8" y="1055.5" width="8.2" height="8.2"/><rect x="1526.8" y="1055.7" width="8.2" height="8.2"/><rect x="1527.7" y="1056" width="8.2" height="8.2"/><rect x="1528.7" y="1056.3" width="8.2" height="8.2"/><rect x="1529.6" y="1056.5" width="8.2" height="8.2"/><rect x="1530.6" y="1056.8" width="8.2" height="8.2"/><rect x="1531.6" y="1057.1" width="8.2" height="8.2"/><rect x="1532.5" y="1057.3" width="8.2" height="8.2"/><rect x="1533.5" y="1057.6" width="8.2" height="8.2"/><rect x="1534.4" y="1057.8" width="8.2" height="8.2"/><rect x="1535.4" y="1058.1" width="8.2" height="8.2"/><rect x="1536.4" y="1058.3" width="8.2" height="8.2"/><rect x="1537.3" y="1058.5" width="8.2" height="8.2"/><rect x="1538.3" y="1058.8" width="8.2" height="8.2"/><rect x="1539.2" y="1059" width="8.2" height="8.2"/><rect x="1540.2" y="1059.2" width="8.2" height="8.2"/><rect x="1541.2" y="1059.5" width="8.2" height="8.2"/><rect x="1542.1" y="1059.7" width="8.2" height="8.2"/><rect x="1543.1" y="1059.9" width="8.2" height="8.2"/><rect x="1544" y="1060.1" width="8.2" height="8.2"/><rect x="1545" y="1060.4" width="8.2" height="8.2"/><rect x="1546" y="1060.6" width="8.2" height="8.2"/><rect x="1546.9" y="1060.8" width="8.2" height="8.2"/><rect x="1547.9" y="1061" width="8.2" height="8.2"/><rect x="1548.8" y="1061.2" width="8.2" height="8.2"/><rect x="1549.8" y="1061.5" width="8.2" height="8.2"/><rect x="1550.8" y="1061.7" width="8.2" height="8.2"/><rect x="1551.7" y="1061.9" width="8.2" height="8.2"/><rect x="1552.7" y="1062.1" width="8.2" height="8.2"/><rect x="1553.6" y="1062.3" width="8.2" height="8.2"/><rect x="1554.6" y="1062.5" width="8.2" height="8.2"/><rect x="1555.6" y="1062.7" width="8.2" height="8.2"/><rect x="1556.5" y="1062.9" width="8.2" height="8.2"/><rect x="1557.5" y="1063.2" width="8.2" height="8.2"/><rect x="1558.4" y="1063.4" width="8.2" height="8.2"/><rect x="1559.4" y="1063.6" width="8.2" height="8.2"/><rect x="1560.4" y="1063.8" width="8.2" height="8.2"/><rect x="1561.3" y="1064" width="8.2" height="8.2"/><rect x="1562.3" y="1064.2" width="8.2" height="8.2"/><rect x="1563.2" y="1064.4" width="8.2" height="8.2"/><rect x="1564.2" y="1064.6" width="8.2" height="8.2"/><rect x="1565.2" y="1064.8" width="8.2" height="8.2"/><rect x="1566.1" y="1065" width="8.2" height="8.2"/><rect x="1567.1" y="1065.2" width="8.2" height="8.2"/><rect x="1568" y="1065.4" width="8.2" height="8.2"/><rect x="1569" y="1065.6" width="8.2" height="8.2"/><rect x="1570" y="1065.8" width="8.2" height="8.2"/><rect x="1570.9" y="1066" width="8.2" height="8.2"/><rect x="1571.9" y="1066.2" width="8.2" height="8.2"/><rect x="1572.8" y="1066.4" width="8.2" height="8.2"/><rect x="1573.8" y="1066.5" width="8.2" height="8.2"/><rect x="1574.8" y="1066.7" width="8.2" height="8.2"/><rect x="1575.7" y="1066.9" width="8.2" height="8.2"/><rect x="1576.7" y="1067.1" width="8.2" height="8.2"/><rect x="1577.6" y="1067.3" width="8.2" height="8.2"/><rect x="1578.6" y="1067.5" width="8.2" height="8.2"/><rect x="1579.6" y="1067.7" width="8.2" height="8.2"/><rect x="1580.5" y="1067.9" width="8.2" height="8.2"/><rect x="1581.5" y="1068.1" width="8.2" height="8.2"/><rect x="1582.4" y="1068.2" width="8.2" height="8.2"/><rect x="1583.4" y="1068.4" width="8.2" height="8.2"/><rect x="1584.4" y="1068.6" width="8.2" height="8.2"/><rect x="1585.3" y="1068.8" width="8.2" height="8.2"/><rect x="1586.3" y="1069" width="8.2" height="8.2"/><rect x="1587.2" y="1069.2" width="8.2" height="8.2"/><rect x="1588.2" y="1069.3" width="8.2" height="8.2"/><rect x="1589.2" y="1069.5" width="8.2" height="8.2"/><rect x="1590.1" y="1069.7" width="8.2" height="8.2"/><rect x="1591.1" y="1069.9" width="8.2" height="8.2"/><rect x="1592" y="1070.1" width="8.2" height="8.2"/><rect x="1593" y="1070.3" width="8.2" height="8.2"/><rect x="1594" y="1070.4" width="8.2" height="8.2"/><rect x="1594.9" y="1070.6" width="8.2" height="8.2"/><rect x="1595.9" y="1070.8" width="8.2" height="8.2"/><rect x="1596.8" y="1071" width="8.2" height="8.2"/><rect x="1597.8" y="1071.2" width="8.2" height="8.2"/><rect x="1598.8" y="1071.3" width="8.2" height="8.2"/><rect x="1599.7" y="1071.5" width="8.2" height="8.2"/><rect x="1600.7" y="1071.7" width="8.2" height="8.2"/><rect x="1601.7" y="1071.9" width="8.2" height="8.2"/><rect x="1602.6" y="1072" width="8.2" height="8.2"/><rect x="1603.6" y="1072.2" width="8.2" height="8.2"/><rect x="1604.5" y="1072.4" width="8.2" height="8.2"/><rect x="1605.5" y="1072.6" width="8.2" height="8.2"/><rect x="1606.5" y="1072.7" width="8.2" height="8.2"/><rect x="1607.4" y="1072.9" width="8.2" height="8.2"/><rect x="1608.4" y="1073.1" width="8.2" height="8.2"/><rect x="1609.3" y="1073.2" width="8.2" height="8.2"/><rect x="1610.3" y="1073.4" width="8.2" height="8.2"/><rect x="1611.3" y="1073.6" width="8.2" height="8.2"/><rect x="1612.2" y="1073.7" width="8.2" height="8.2"/><rect x="1613.2" y="1073.9" width="8.2" height="8.2"/><rect x="1614.1" y="1074" width="8.2" height="8.2"/><rect x="1615.1" y="1074.2" width="8.2" height="8.2"/><rect x="1616.1" y="1074.3" width="8.2" height="8.2"/><rect x="1617" y="1074.5" width="8.2" height="8.2"/><rect x="1618" y="1074.6" width="8.2" height="8.2"/><rect x="1618.9" y="1074.8" width="8.2" height="8.2"/><rect x="1619.9" y="1074.9" width="8.2" height="8.2"/><rect x="1620.9" y="1075.1" width="8.2" height="8.2"/><rect x="1621.8" y="1075.2" width="8.2" height="8.2"/><rect x="1622.8" y="1075.4" width="8.2" height="8.2"/><rect x="1623.7" y="1075.5" width="8.2" height="8.2"/><rect x="1624.7" y="1075.6" width="8.2" height="8.2"/><rect x="1625.7" y="1075.8" width="8.2" height="8.2"/><rect x="1626.6" y="1075.9" width="8.2" height="8.2"/><rect x="1627.6" y="1076.1" width="8.2" height="8.2"/><rect x="1628.5" y="1076.2" width="8.2" height="8.2"/><rect x="1629.5" y="1076.4" width="8.2" height="8.2"/><rect x="1630.5" y="1076.5" width="8.2" height="8.2"/><rect x="1631.4" y="1076.6" width="8.2" height="8.2"/><rect x="1632.4" y="1076.8" width="8.2" height="8.2"/><rect x="1633.3" y="1076.9" width="8.2" height="8.2"/><rect x="1634.3" y="1077" width="8.2" height="8.2"/><rect x="1635.3" y="1077.2" width="8.2" height="8.2"/><rect x="1636.2" y="1077.3" width="8.2" height="8.2"/><rect x="1637.2" y="1077.5" width="8.2" height="8.2"/><rect x="1638.1" y="1077.6" width="8.2" height="8.2"/><rect x="1639.1" y="1077.7" width="8.2" height="8.2"/><rect x="1640.1" y="1077.8" width="8.2" height="8.2"/><rect x="1641" y="1078" width="8.2" height="8.2"/><rect x="1642" y="1078.1" width="8.2" height="8.2"/><rect x="1642.9" y="1078.2" width="8.2" height="8.2"/><rect x="1643.9" y="1078.4" width="8.2" height="8.2"/><rect x="1644.9" y="1078.5" width="8.2" height="8.2"/><rect x="1645.8" y="1078.6" width="8.2" height="8.2"/><rect x="1646.8" y="1078.7" width="8.2" height="8.2"/><rect x="1647.7" y="1078.9" width="8.2" height="8.2"/><rect x="1648.7" y="1079" width="8.2" height="8.2"/><rect x="1649.7" y="1079.1" width="8.2" height="8.2"/><rect x="1650.6" y="1079.2" width="8.2" height="8.2"/><rect x="1651.6" y="1079.4" width="8.2" height="8.2"/><rect x="1652.5" y="1079.5" width="8.2" height="8.2"/><rect x="1653.5" y="1079.6" width="8.2" height="8.2"/><rect x="1654.5" y="1079.7" width="8.2" height="8.2"/><rect x="1655.4" y="1079.8" width="8.2" height="8.2"/><rect x="1656.4" y="1079.9" width="8.2" height="8.2"/><rect x="1657.3" y="1080" width="8.2" height="8.2"/><rect x="1658.3" y="1080.2" width="8.2" height="8.2"/><rect x="1659.3" y="1080.3" width="8.2" height="8.2"/><rect x="1660.2" y="1080.4" width="8.2" height="8.2"/><rect x="1661.2" y="1080.5" width="8.2" height="8.2"/><rect x="1662.1" y="1080.6" width="8.2" height="8.2"/><rect x="1663.1" y="1080.7" width="8.2" height="8.2"/><rect x="1664.1" y="1080.8" width="8.2" height="8.2"/><rect x="1665" y="1080.9" width="8.2" height="8.2"/><rect x="1666" y="1081" width="8.2" height="8.2"/><rect x="1666.9" y="1081.1" width="8.2" height="8.2"/><rect x="1667.9" y="1081.2" width="8.2" height="8.2"/><rect x="1668.9" y="1081.3" width="8.2" height="8.2"/><rect x="1669.8" y="1081.4" width="8.2" height="8.2"/><rect x="1670.8" y="1081.5" width="8.2" height="8.2"/><rect x="1671.7" y="1081.6" width="8.2" height="8.2"/><rect x="1672.7" y="1081.7" width="8.2" height="8.2"/><rect x="1673.7" y="1081.8" width="8.2" height="8.2"/><rect x="1674.6" y="1081.9" width="8.2" height="8.2"/><rect x="1675.6" y="1081.9" width="8.2" height="8.2"/><rect x="1676.5" y="1082" width="8.2" height="8.2"/><rect x="1677.5" y="1082.1" width="8.2" height="8.2"/><rect x="1678.5" y="1082.2" width="8.2" height="8.2"/><rect x="1679.4" y="1082.3" width="8.2" height="8.2"/><rect x="1680.4" y="1082.4" width="8.2" height="8.2"/><rect x="1681.3" y="1082.5" width="8.2" height="8.2"/><rect x="1682.3" y="1082.5" width="8.2" height="8.2"/><rect x="1683.3" y="1082.6" width="8.2" height="8.2"/><rect x="1684.2" y="1082.7" width="8.2" height="8.2"/><rect x="1685.2" y="1082.8" width="8.2" height="8.2"/><rect x="1686.2" y="1082.9" width="8.2" height="8.2"/><rect x="1687.1" y="1082.9" width="8.2" height="8.2"/><rect x="1688.1" y="1083" width="8.2" height="8.2"/><rect x="1689" y="1083.1" width="8.2" height="8.2"/><rect x="1690" y="1083.2" width="8.2" height="8.2"/><rect x="1691" y="1083.3" width="8.2" height="8.2"/><rect x="1691.9" y="1083.3" width="8.2" height="8.2"/><rect x="1692.9" y="1083.4" width="8.2" height="8.2"/><rect x="1693.8" y="1083.5" width="8.2" height="8.2"/><rect x="1694.8" y="1083.6" width="8.2" height="8.2"/><rect x="1695.8" y="1083.6" width="8.2" height="8.2"/><rect x="1696.7" y="1083.7" width="8.2" height="8.2"/><rect x="1697.7" y="1083.8" width="8.2" height="8.2"/><rect x="1698.6" y="1083.8" width="8.2" height="8.2"/><rect x="1699.6" y="1083.9" width="8.2" height="8.2"/><rect x="1700.6" y="1084" width="8.2" height="8.2"/><rect x="1701.5" y="1084.1" width="8.2" height="8.2"/><rect x="1702.5" y="1084.1" width="8.2" height="8.2"/><rect x="1703.4" y="1084.2" width="8.2" height="8.2"/><rect x="1704.4" y="1084.3" width="8.2" height="8.2"/><rect x="1705.4" y="1084.4" width="8.2" height="8.2"/><rect x="1706.3" y="1084.4" width="8.2" height="8.2"/><rect x="1707.3" y="1084.5" width="8.2" height="8.2"/><rect x="1708.2" y="1084.6" width="8.2" height="8.2"/><rect x="1709.2" y="1084.6" width="8.2" height="8.2"/><rect x="1710.2" y="1084.7" width="8.2" height="8.2"/><rect x="1711.1" y="1084.8" width="8.2" height="8.2"/><rect x="1712.1" y="1084.9" width="8.2" height="8.2"/><rect x="1713" y="1084.9" width="8.2" height="8.2"/><rect x="1714" y="1085" width="8.2" height="8.2"/><rect x="1715" y="1085.1" width="8.2" height="8.2"/><rect x="1715.9" y="1085.1" width="8.2" height="8.2"/><rect x="1716.9" y="1085.2" width="8.2" height="8.2"/><rect x="1717.8" y="1085.3" width="8.2" height="8.2"/><rect x="1718.8" y="1085.3" width="8.2" height="8.2"/><rect x="1719.8" y="1085.4" width="8.2" height="8.2"/><rect x="1720.7" y="1085.5" width="8.2" height="8.2"/><rect x="1721.7" y="1085.6" width="8.2" height="8.2"/><rect x="1722.6" y="1085.6" width="8.2" height="8.2"/><rect x="1723.6" y="1085.7" width="8.2" height="8.2"/><rect x="1724.6" y="1085.8" width="8.2" height="8.2"/><rect x="1725.5" y="1085.8" width="8.2" height="8.2"/><rect x="1726.5" y="1085.9" width="8.2" height="8.2"/><rect x="1727.4" y="1086" width="8.2" height="8.2"/><rect x="1728.4" y="1086" width="8.2" height="8.2"/><rect x="1729.4" y="1086.1" width="8.2" height="8.2"/><rect x="1730.3" y="1086.2" width="8.2" height="8.2"/><rect x="1731.3" y="1086.2" width="8.2" height="8.2"/><rect x="1732.2" y="1086.3" width="8.2" height="8.2"/><rect x="1733.2" y="1086.4" width="8.2" height="8.2"/><rect x="1734.2" y="1086.4" width="8.2" height="8.2"/><rect x="1735.1" y="1086.5" width="8.2" height="8.2"/><rect x="1736.1" y="1086.6" width="8.2" height="8.2"/><rect x="1737" y="1086.6" width="8.2" height="8.2"/><rect x="1738" y="1086.7" width="8.2" height="8.2"/><rect x="1739" y="1086.8" width="8.2" height="8.2"/><rect x="1739.9" y="1086.8" width="8.2" height="8.2"/><rect x="1740.9" y="1086.9" width="8.2" height="8.2"/><rect x="1741.8" y="1087" width="8.2" height="8.2"/><rect x="1742.8" y="1087" width="8.2" height="8.2"/><rect x="1743.8" y="1087.1" width="8.2" height="8.2"/><rect x="1744.7" y="1087.2" width="8.2" height="8.2"/><rect x="1745.7" y="1087.2" width="8.2" height="8.2"/><rect x="1746.6" y="1087.3" width="8.2" height="8.2"/><rect x="1747.6" y="1087.3" width="8.2" height="8.2"/><rect x="1748.6" y="1087.4" width="8.2" height="8.2"/><rect x="1749.5" y="1087.5" width="8.2" height="8.2"/><rect x="1750.5" y="1087.5" width="8.2" height="8.2"/><rect x="1751.4" y="1087.6" width="8.2" height="8.2"/><rect x="1752.4" y="1087.6" width="8.2" height="8.2"/><rect x="1753.4" y="1087.7" width="8.2" height="8.2"/><rect x="1754.3" y="1087.8" width="8.2" height="8.2"/><rect x="1755.3" y="1087.8" width="8.2" height="8.2"/><rect x="1756.2" y="1087.9" width="8.2" height="8.2"/><rect x="1757.2" y="1087.9" width="8.2" height="8.2"/><rect x="1758.2" y="1088" width="8.2" height="8.2"/><rect x="1759.1" y="1088" width="8.2" height="8.2"/><rect x="1760.1" y="1088.1" width="8.2" height="8.2"/><rect x="1761" y="1088.1" width="8.2" height="8.2"/><rect x="1762" y="1088.2" width="8.2" height="8.2"/><rect x="1763" y="1088.3" width="8.2" height="8.2"/><rect x="1763.9" y="1088.3" width="8.2" height="8.2"/><rect x="1764.9" y="1088.4" width="8.2" height="8.2"/><rect x="1765.8" y="1088.4" width="8.2" height="8.2"/><rect x="1766.8" y="1088.5" width="8.2" height="8.2"/><rect x="1767.8" y="1088.5" width="8.2" height="8.2"/><rect x="1768.7" y="1088.6" width="8.2" height="8.2"/><rect x="1769.7" y="1088.6" width="8.2" height="8.2"/><rect x="1770.6" y="1088.7" width="8.2" height="8.2"/><rect x="1771.6" y="1088.7" width="8.2" height="8.2"/><rect x="1772.6" y="1088.8" width="8.2" height="8.2"/><rect x="1773.5" y="1088.8" width="8.2" height="8.2"/><rect x="1774.5" y="1088.9" width="8.2" height="8.2"/><rect x="1775.5" y="1088.9" width="8.2" height="8.2"/><rect x="1776.4" y="1089" width="8.2" height="8.2"/><rect x="1777.4" y="1089.1" width="8.2" height="8.2"/><rect x="1778.3" y="1089.1" width="8.2" height="8.2"/><rect x="1779.3" y="1089.2" width="8.2" height="8.2"/><rect x="1780.3" y="1089.2" width="8.2" height="8.2"/><rect x="1781.2" y="1089.3" width="8.2" height="8.2"/><rect x="1782.2" y="1089.3" width="8.2" height="8.2"/><rect x="1783.1" y="1089.3" width="8.2" height="8.2"/><rect x="1784.1" y="1089.4" width="8.2" height="8.2"/><rect x="1785.1" y="1089.4" width="8.2" height="8.2"/><rect x="1786" y="1089.5" width="8.2" height="8.2"/><rect x="1787" y="1089.5" width="8.2" height="8.2"/><rect x="1787.9" y="1089.6" width="8.2" height="8.2"/><rect x="1788.9" y="1089.6" width="8.2" height="8.2"/><rect x="1789.9" y="1089.7" width="8.2" height="8.2"/><rect x="1790.8" y="1089.7" width="8.2" height="8.2"/><rect x="1791.8" y="1089.8" width="8.2" height="8.2"/><rect x="1792.7" y="1089.8" width="8.2" height="8.2"/><rect x="1793.7" y="1089.9" width="8.2" height="8.2"/><rect x="1794.7" y="1089.9" width="8.2" height="8.2"/><rect x="1795.6" y="1090" width="8.2" height="8.2"/><rect x="1796.6" y="1090" width="8.2" height="8.2"/><rect x="1797.5" y="1090" width="8.2" height="8.2"/><rect x="1798.5" y="1090.1" width="8.2" height="8.2"/><rect x="1799.5" y="1090.1" width="8.2" height="8.2"/><rect x="1800.4" y="1090.2" width="8.2" height="8.2"/><rect x="1801.4" y="1090.2" width="8.2" height="8.2"/><rect x="1802.3" y="1090.2" width="8.2" height="8.2"/><rect x="1803.3" y="1090.3" width="8.2" height="8.2"/><rect x="1804.3" y="1090.3" width="8.2" height="8.2"/><rect x="1805.2" y="1090.4" width="8.2" height="8.2"/><rect x="1806.2" y="1090.4" width="8.2" height="8.2"/><rect x="1807.1" y="1090.4" width="8.2" height="8.2"/><rect x="1808.1" y="1090.5" width="8.2" height="8.2"/><rect x="1809.1" y="1090.5" width="8.2" height="8.2"/><rect x="1810" y="1090.5" width="8.2" height="8.2"/><rect x="1811" y="1090.6" width="8.2" height="8.2"/><rect x="1811.9" y="1090.6" width="8.2" height="8.2"/><rect x="1812.9" y="1090.7" width="8.2" height="8.2"/><rect x="1813.9" y="1090.7" width="8.2" height="8.2"/><rect x="1814.8" y="1090.7" width="8.2" height="8.2"/><rect x="1815.8" y="1090.8" width="8.2" height="8.2"/><rect x="1816.7" y="1090.8" width="8.2" height="8.2"/><rect x="1817.7" y="1090.8" width="8.2" height="8.2"/><rect x="1818.7" y="1090.9" width="8.2" height="8.2"/><rect x="1819.6" y="1090.9" width="8.2" height="8.2"/><rect x="1820.6" y="1090.9" width="8.2" height="8.2"/><rect x="1821.5" y="1091" width="8.2" height="8.2"/><rect x="1822.5" y="1091" width="8.2" height="8.2"/><rect x="1823.5" y="1091" width="8.2" height="8.2"/><rect x="1824.4" y="1091.1" width="8.2" height="8.2"/><rect x="1825.4" y="1091.1" width="8.2" height="8.2"/><rect x="1826.3" y="1091.1" width="8.2" height="8.2"/><rect x="1827.3" y="1091.2" width="8.2" height="8.2"/><rect x="1828.3" y="1091.2" width="8.2" height="8.2"/><rect x="1829.2" y="1091.2" width="8.2" height="8.2"/><rect x="1830.2" y="1091.3" width="8.2" height="8.2"/><rect x="1831.1" y="1091.3" width="8.2" height="8.2"/><rect x="1832.1" y="1091.3" width="8.2" height="8.2"/><rect x="1833.1" y="1091.3" width="8.2" height="8.2"/><rect x="1834" y="1091.4" width="8.2" height="8.2"/><rect x="1835" y="1091.4" width="8.2" height="8.2"/><rect x="1835.9" y="1091.4" width="8.2" height="8.2"/><rect x="1836.9" y="1091.5" width="8.2" height="8.2"/><rect x="1837.9" y="1091.5" width="8.2" height="8.2"/><rect x="1838.8" y="1091.5" width="8.2" height="8.2"/><rect x="1839.8" y="1091.6" width="8.2" height="8.2"/><rect x="1840.7" y="1091.6" width="8.2" height="8.2"/><rect x="1841.7" y="1091.6" width="8.2" height="8.2"/><rect x="1842.7" y="1091.6" width="8.2" height="8.2"/><rect x="1843.6" y="1091.7" width="8.2" height="8.2"/><rect x="1844.6" y="1091.7" width="8.2" height="8.2"/><rect x="1845.5" y="1091.7" width="8.2" height="8.2"/><rect x="1846.5" y="1091.7" width="8.2" height="8.2"/><rect x="1847.5" y="1091.8" width="8.2" height="8.2"/><rect x="1848.4" y="1091.8" width="8.2" height="8.2"/><rect x="1849.4" y="1091.8" width="8.2" height="8.2"/><rect x="1850.3" y="1091.8" width="8.2" height="8.2"/><rect x="1851.3" y="1091.9" width="8.2" height="8.2"/><rect x="1852.3" y="1091.9" width="8.2" height="8.2"/><rect x="1853.2" y="1091.9" width="8.2" height="8.2"/><rect x="1854.2" y="1091.9" width="8.2" height="8.2"/><rect x="1855.1" y="1092" width="8.2" height="8.2"/><rect x="1856.1" y="1092" width="8.2" height="8.2"/><rect x="1857.1" y="1092" width="8.2" height="8.2"/><rect x="1858" y="1092" width="8.2" height="8.2"/><rect x="1859" y="1092.1" width="8.2" height="8.2"/><rect x="1860" y="1092.1" width="8.2" height="8.2"/><rect x="1860.9" y="1092.1" width="8.2" height="8.2"/><rect x="1861.9" y="1092.1" width="8.2" height="8.2"/><rect x="1862.8" y="1092.2" width="8.2" height="8.2"/><rect x="1863.8" y="1092.2" width="8.2" height="8.2"/><rect x="1864.8" y="1092.2" width="8.2" height="8.2"/><rect x="1865.7" y="1092.2" width="8.2" height="8.2"/><rect x="1866.7" y="1092.3" width="8.2" height="8.2"/><rect x="1867.6" y="1092.3" width="8.2" height="8.2"/><rect x="1868.6" y="1092.3" width="8.2" height="8.2"/><rect x="1869.6" y="1092.3" width="8.2" height="8.2"/><rect x="1870.5" y="1092.4" width="8.2" height="8.2"/><rect x="1871.5" y="1092.4" width="8.2" height="8.2"/><rect x="1872.4" y="1092.4" width="8.2" height="8.2"/><rect x="1873.4" y="1092.4" width="8.2" height="8.2"/><rect x="1874.4" y="1092.4" width="8.2" height="8.2"/><rect x="1875.3" y="1092.5" width="8.2" height="8.2"/><rect x="1876.3" y="1092.5" width="8.2" height="8.2"/><rect x="1877.2" y="1092.5" width="8.2" height="8.2"/><rect x="1878.2" y="1092.5" width="8.2" height="8.2"/><rect x="1879.2" y="1092.6" width="8.2" height="8.2"/><rect x="1880.1" y="1092.6" width="8.2" height="8.2"/><rect x="1881.1" y="1092.6" width="8.2" height="8.2"/><rect x="1882" y="1092.6" width="8.2" height="8.2"/><rect x="1883" y="1092.6" width="8.2" height="8.2"/><rect x="1884" y="1092.7" width="8.2" height="8.2"/><rect x="1884.9" y="1092.7" width="8.2" height="8.2"/><rect x="1885.9" y="1092.7" width="8.2" height="8.2"/><rect x="1886.8" y="1092.7" width="8.2" height="8.2"/><rect x="1887.8" y="1092.7" width="8.2" height="8.2"/><rect x="1888.8" y="1092.8" width="8.2" height="8.2"/><rect x="1889.7" y="1092.8" width="8.2" height="8.2"/><rect x="1890.7" y="1092.8" width="8.2" height="8.2"/><rect x="1891.6" y="1092.8" width="8.2" height="8.2"/><rect x="1892.6" y="1092.8" width="8.2" height="8.2"/><rect x="1893.6" y="1092.8" width="8.2" height="8.2"/><rect x="1894.5" y="1092.9" width="8.2" height="8.2"/><rect x="1895.5" y="1092.9" width="8.2" height="8.2"/><rect x="1896.4" y="1092.9" width="8.2" height="8.2"/><rect x="1897.4" y="1092.9" width="8.2" height="8.2"/><rect x="1898.4" y="1092.9" width="8.2" height="8.2"/><rect x="1899.3" y="1093" width="8.2" height="8.2"/><rect x="1900.3" y="1093" width="8.2" height="8.2"/><rect x="1901.2" y="1093" width="8.2" height="8.2"/><rect x="1902.2" y="1093" width="8.2" height="8.2"/>
</g>
<g fill="none" stroke="#0000ff" shape-rendering="crispEdges">
<path stroke-width="4" d="M1131.1,1026.3L1132,1040.8M1132,1040.8L1132.9,1055.5M1132.9,1055.5L1133.9,1070.6M1134.9,1084.2L1136,1098.8M1136,1098.8L1136.8,1113.4M1160.1,1126.9L1160.7,1112.6M1160.7,1112.6L1161.9,1097.5M1161.9,1097.5L1163,1080.8M1163,1080.8L1163.5,1063.6M1163.5,1063.6L1164.5,1046M1164.5,1046L1165.8,1029.2M1165.8,1029.2L1166.6,1011.8M1166.6,1011.8L1167.6,994.9M1167.6,994.9L1168.5,978.8M1168.5,978.8L1169.6,964.2M1206.9,700.5L1207.9,686.1"/>
<g fill="#0000ff" stroke="none"><circle cx="262.6" cy="177.5" r="5.6"/><circle cx="263.6" cy="178.5" r="5.6"/><circle cx="264.5" cy="180" r="5.6"/><circle cx="265.5" cy="182.6" r="5.6"/><circle cx="266.4" cy="186.3" r="5.6"/><circle cx="267.4" cy="190.5" r="5.6"/><circle cx="268.4" cy="194.5" r="5.6"/><circle cx="269.3" cy="198.3" r="5.6"/><circle cx="270.3" cy="202.1" r="5.6"/><circle cx="271.2" cy="204.4" r="5.6"/><circle cx="272.2" cy="205.7" r="5.6"/><circle cx="273.2" cy="206.7" r="5.6"/><circle cx="274.1" cy="207" r="5.6"/><circle cx="275.1" cy="207" r="5.6"/><circle cx="276" cy="207" r="5.6"/><circle cx="277" cy="207" r="5.6"/><circle cx="278" cy="207" r="5.6"/><circle cx="278.9" cy="207" r="5.6"/><circle cx="279.9" cy="207" r="5.6"/><circle cx="280.8" cy="207" r="5.6"/><circle cx="281.8" cy="207" r="5.6"/><circle cx="282.8" cy="207" r="5.6"/><circle cx="283.7" cy="207" r="5.6"/><circle cx="284.7" cy="207" r="5.6"/><circle cx="285.6" cy="207" r="5.6"/><circle cx="286.6" cy="207" r="5.6"/><circle cx="287.6" cy="207" r="5.6"/><circle cx="288.5" cy="207" r="5.6"/><circle cx="289.5" cy="207" r="5.6"/><circle cx="290.4" cy="207" r="5.6"/><circle cx="291.4" cy="207" r="5.6"/><circle cx="292.4" cy="207" r="5.6"/><circle cx="293.3" cy="207" r="5.6"/><circle cx="294.3" cy="207" r="5.6"/><circle cx="295.2" cy="207" r="5.6"/><circle cx="296.2" cy="207.1" r="5.6"/><circle cx="297.2" cy="207.2" r="5.6"/><circle cx="298.1" cy="207.5" r="5.6"/><circle cx="299.1" cy="207.8" r="5.6"/><circle cx="300" cy="208.1" r="5.6"/><circle cx="301" cy="208.5" r="5.6"/><circle cx="302" cy="208.9" r="5.6"/><circle cx="302.9" cy="209.2" r="5.6"/><circle cx="303.9" cy="209.6" r="5.6"/><circle cx="304.8" cy="209.9" r="5.6"/><circle cx="305.8" cy="210.3" r="5.6"/><circle cx="306.8" cy="210.7" r="5.6"/><circle cx="307.7" cy="211.2" r="5.6"/><circle cx="308.7" cy="211.7" r="5.6"/><circle cx="309.6" cy="212.2" r="5.6"/><circle cx="310.6" cy="212.6" r="5.6"/><circle cx="311.6" cy="213.1" r="5.6"/><circle cx="312.5" cy="213.5" r="5.6"/><circle cx="313.5" cy="213.8" r="5.6"/><circle cx="314.4" cy="214.1" r="5.6"/><circle cx="315.4" cy="214.4" r="5.6"/><circle cx="316.4" cy="214.5" r="5.6"/><circle cx="317.3" cy="214.5" r="5.6"/><circle cx="318.3" cy="214.4" r="5.6"/><circle cx="319.2" cy="214.3" r="5.6"/><circle cx="320.2" cy="214.1" r="5.6"/><circle cx="321.2" cy="213.9" r="5.6"/><circle cx="322.1" cy="213.7" r="5.6"/><circle cx="323.1" cy="213.5" r="5.6"/><circle cx="324" cy="213.4" r="5.6"/><circle cx="325" cy="213.2" r="5.6"/><circle cx="326" cy="213.2" r="5.6"/><circle cx="326.9" cy="213.2" r="5.6"/><circle cx="327.9" cy="213.2" r="5.6"/><circle cx="328.8" cy="213.3" r="5.6"/><circle cx="329.8" cy="213.4" r="5.6"/><circle cx="330.8" cy="213.5" r="5.6"/><circle cx="331.7" cy="213.6" r="5.6"/><circle cx="332.7" cy="213.7" r="5.6"/><circle cx="333.6" cy="213.8" r="5.6"/><circle cx="334.6" cy="213.9" r="5.6"/><circle cx="335.6" cy="214" r="5.6"/><circle cx="336.5" cy="214.1" r="5.6"/><circle cx="337.5" cy="214.2" r="5.6"/><circle cx="338.4" cy="214.3" r="5.6"/><circle cx="339.4" cy="214.4" r="5.6"/><circle cx="340.4" cy="214.5" r="5.6"/><circle cx="341.3" cy="214.6" r="5.6"/><circle cx="342.3" cy="214.7" r="5.6"/><circle cx="343.2" cy="214.8" r="5.6"/><circle cx="344.2" cy="214.8" r="5.6"/><circle cx="345.2" cy="214.9" r="5.6"/><circle cx="346.1" cy="215" r="5.6"/><circle cx="347.1" cy="215.1" r="5.6"/><circle cx="348" cy="215.1" r="5.6"/><circle cx="349" cy="215.2" r="5.6"/><circle cx="349.9" cy="215.3" r="5.6"/><circle cx="350.9" cy="215.4" r="5.6"/><circle cx="351.9" cy="215.5" r="5.6"/><circle cx="352.8" cy="215.5" r="5.6"/><circle cx="353.8" cy="215.6" r="5.6"/><circle cx="354.7" cy="215.7" r="5.6"/><circle cx="355.7" cy="215.8" r="5.6"/><circle cx="356.7" cy="215.9" r="5.6"/><circle cx="357.6" cy="216" r="5.6"/><circle cx="358.6" cy="216.1" r="5.6"/><circle cx="359.5" cy="216.2" r="5.6"/><circle cx="360.5" cy="216.3" r="5.6"/><circle cx="361.5" cy="216.4" r="5.6"/><circle cx="362.4" cy="216.6" r="5.6"/><circle cx="363.4" cy="216.7" r="5.6"/><circle cx="364.3" cy="216.9" r="5.6"/><circle cx="365.3" cy="217.1" r="5.6"/><circle cx="366.3" cy="217.2" r="5.6"/><circle cx="367.2" cy="217.3" r="5.6"/><circle cx="368.2" cy="217.5" r="5.6"/><circle cx="369.1" cy="217.6" r="5.6"/><circle cx="370.1" cy="217.7" r="5.6"/><circle cx="371.1" cy="217.7" r="5.6"/><circle cx="372" cy="217.8" r="5.6"/><circle cx="373" cy="217.8" r="5.6"/><circle cx="373.9" cy="217.8" r="5.6"/><circle cx="374.9" cy="217.7" r="5.6"/><circle cx="375.9" cy="217.7" r="5.6"/><circle cx="376.8" cy="217.6" r="5.6"/><circle cx="377.8" cy="217.5" r="5.6"/><circle cx="378.7" cy="217.4" r="5.6"/><circle cx="379.7" cy="217.2" r="5.6"/><circle cx="380.7" cy="217.1" r="5.6"/><circle cx="381.6" cy="217" r="5.6"/><circle cx="382.6" cy="216.9" r="5.6"/><circle cx="383.5" cy="216.9" r="5.6"/><circle cx="384.5" cy="216.8" r="5.6"/><circle cx="385.5" cy="216.8" r="5.6"/><circle cx="386.4" cy="216.8" r="5.6"/><circle cx="387.4" cy="217" r="5.6"/><circle cx="388.3" cy="217.2" r="5.6"/><circle cx="389.3" cy="217.5" r="5.6"/><circle cx="390.3" cy="217.8" r="5.6"/><circle cx="391.2" cy="218.1" r="5.6"/><circle cx="392.2" cy="218.5" r="5.6"/><circle cx="393.1" cy="218.8" r="5.6"/><circle cx="394.1" cy="219.2" r="5.6"/><circle cx="395.1" cy="219.5" r="5.6"/><circle cx="396" cy="219.7" r="5.6"/><circle cx="397" cy="219.9" r="5.6"/><circle cx="397.9" cy="220" r="5.6"/><circle cx="398.9" cy="220" r="5.6"/><circle cx="399.9" cy="220.1" r="5.6"/><circle cx="400.8" cy="220.1" r="5.6"/><circle cx="401.8" cy="220.2" r="5.6"/><circle cx="402.7" cy="220.2" r="5.6"/><circle cx="403.7" cy="220.2" r="5.6"/><circle cx="404.7" cy="220.2" r="5.6"/><circle cx="405.6" cy="220.2" r="5.6"/><circle cx="406.6" cy="220.3" r="5.6"/><circle cx="407.5" cy="220.3" r="5.6"/><circle cx="408.5" cy="220.3" r="5.6"/><circle cx="409.5" cy="220.3" r="5.6"/><circle cx="410.4" cy="220.3" r="5.6"/><circle cx="411.4" cy="220.3" r="5.6"/><circle cx="412.3" cy="220.4" r="5.6"/><circle cx="413.3" cy="220.4" r="5.6"/><circle cx="414.3" cy="220.4" r="5.6"/><circle cx="415.2" cy="220.5" r="5.6"/><circle cx="416.2" cy="220.5" r="5.6"/><circle cx="417.1" cy="220.6" r="5.6"/><circle cx="418.1" cy="220.6" r="5.6"/><circle cx="419.1" cy="220.7" r="5.6"/><circle cx="420" cy="220.9" r="5.6"/><circle cx="421" cy="221" r="5.6"/><circle cx="421.9" cy="221.1" r="5.6"/><circle cx="422.9" cy="221.2" r="5.6"/><circle cx="423.9" cy="221.4" r="5.6"/><circle cx="424.8" cy="221.5" r="5.6"/><circle cx="425.8" cy="221.7" r="5.6"/><circle cx="426.7" cy="221.8" r="5.6"/><circle cx="427.7" cy="222" r="5.6"/><circle cx="428.7" cy="222.1" r="5.6"/><circle cx="429.6" cy="222.3" r="5.6"/><circle cx="430.6" cy="222.4" r="5.6"/><circle cx="431.5" cy="222.5" r="5.6"/><circle cx="432.5" cy="222.6" r="5.6"/><circle cx="433.5" cy="222.7" r="5.6"/><circle cx="434.4" cy="222.8" r="5.6"/><circle cx="435.4" cy="222.9" r="5.6"/><circle cx="436.3" cy="223" r="5.6"/><circle cx="437.3" cy="223.1" r="5.6"/><circle cx="438.3" cy="223.1" r="5.6"/><circle cx="439.2" cy="223.2" r="5.6"/><circle cx="440.2" cy="223.3" r="5.6"/><circle cx="441.1" cy="223.4" r="5.6"/><circle cx="442.1" cy="223.6" r="5.6"/><circle cx="443.1" cy="223.7" r="5.6"/><circle cx="444" cy="223.8" r="5.6"/><circle cx="445" cy="224" r="5.6"/><circle cx="445.9" cy="224.2" r="5.6"/><circle cx="446.9" cy="224.5" r="5.6"/><circle cx="447.9" cy="224.9" r="5.6"/><circle cx="448.8" cy="225.4" r="5.6"/><circle cx="449.8" cy="225.8" r="5.6"/><circle cx="450.7" cy="226.2" r="5.6"/><circle cx="451.7" cy="226.6" r="5.6"/><circle cx="452.7" cy="226.8" r="5.6"/><circle cx="453.6" cy="227" r="5.6"/><circle cx="454.6" cy="227" r="5.6"/><circle cx="455.5" cy="226.9" r="5.6"/><circle cx="456.5" cy="226.8" r="5.6"/><circle cx="457.5" cy="226.7" r="5.6"/><circle cx="458.4" cy="226.6" r="5.6"/><circle cx="459.4" cy="226.5" r="5.6"/><circle cx="460.3" cy="226.4" r="5.6"/><circle cx="461.3" cy="226.4" r="5.6"/><circle cx="462.3" cy="226.5" r="5.6"/><circle cx="463.2" cy="226.6" r="5.6"/><circle cx="464.2" cy="226.8" r="5.6"/><circle cx="465.1" cy="227" r="5.6"/><circle cx="466.1" cy="227.3" r="5.6"/><circle cx="467.1" cy="227.6" r="5.6"/><circle cx="468" cy="227.8" r="5.6"/><circle cx="469" cy="228.1" r="5.6"/><circle cx="469.9" cy="228.4" r="5.6"/><circle cx="470.9" cy="228.6" r="5.6"/><circle cx="471.9" cy="228.8" r="5.6"/><circle cx="472.8" cy="228.9" r="5.6"/><circle cx="473.8" cy="229" r="5.6"/><circle cx="474.7" cy="229.1" r="5.6"/><circle cx="475.7" cy="229.2" r="5.6"/><circle cx="476.7" cy="229.3" r="5.6"/><circle cx="477.6" cy="229.4" r="5.6"/><circle cx="478.6" cy="229.5" r="5.6"/><circle cx="479.5" cy="229.5" r="5.6"/><circle cx="480.5" cy="229.6" r="5.6"/><circle cx="481.5" cy="229.7" r="5.6"/><circle cx="482.4" cy="229.8" r="5.6"/><circle cx="483.4" cy="229.8" r="5.6"/><circle cx="484.3" cy="229.9" r="5.6"/><circle cx="485.3" cy="230.1" r="5.6"/><circle cx="486.3" cy="230.2" r="5.6"/><circle cx="487.2" cy="230.4" r="5.6"/><circle cx="488.2" cy="230.5" r="5.6"/><circle cx="489.1" cy="230.8" r="5.6"/><circle cx="490.1" cy="231.1" r="5.6"/><circle cx="491.1" cy="231.6" r="5.6"/><circle cx="492" cy="232.2" r="5.6"/><circle cx="493" cy="233" r="5.6"/><circle cx="493.9" cy="235.2" r="5.6"/><circle cx="494.9" cy="239.3" r="5.6"/><circle cx="495.9" cy="243.8" r="5.6"/><circle cx="496.8" cy="247.1" r="5.6"/><circle cx="497.8" cy="247.9" r="5.6"/><circle cx="498.7" cy="246.5" r="5.6"/><circle cx="499.7" cy="243.7" r="5.6"/><circle cx="500.7" cy="239.9" r="5.6"/><circle cx="501.6" cy="235.5" r="5.6"/><circle cx="502.6" cy="231" r="5.6"/><circle cx="503.5" cy="226.7" r="5.6"/><circle cx="504.5" cy="223" r="5.6"/><circle cx="505.5" cy="220.5" r="5.6"/><circle cx="506.4" cy="219.4" r="5.6"/><circle cx="507.4" cy="219.8" r="5.6"/><circle cx="508.3" cy="221.2" r="5.6"/><circle cx="509.3" cy="223" r="5.6"/><circle cx="510.3" cy="225" r="5.6"/><circle cx="511.2" cy="226.9" r="5.6"/><circle cx="512.2" cy="228.2" r="5.6"/><circle cx="513.1" cy="229.3" r="5.6"/><circle cx="514.1" cy="230.5" r="5.6"/><circle cx="515.1" cy="231.6" r="5.6"/><circle cx="516" cy="232.5" r="5.6"/><circle cx="517" cy="233.3" r="5.6"/><circle cx="517.9" cy="233.9" r="5.6"/><circle cx="518.9" cy="234.2" r="5.6"/><circle cx="519.9" cy="234.3" r="5.6"/><circle cx="520.8" cy="234.3" r="5.6"/><circle cx="521.8" cy="234.4" r="5.6"/><circle cx="522.7" cy="234.4" r="5.6"/><circle cx="523.7" cy="234.4" r="5.6"/><circle cx="524.6" cy="234.5" r="5.6"/><circle cx="525.6" cy="234.5" r="5.6"/><circle cx="526.6" cy="234.5" r="5.6"/><circle cx="527.5" cy="234.5" r="5.6"/><circle cx="528.5" cy="234.5" r="5.6"/><circle cx="529.4" cy="234.6" r="5.6"/><circle cx="530.4" cy="234.6" r="5.6"/><circle cx="531.4" cy="234.7" r="5.6"/><circle cx="532.3" cy="234.7" r="5.6"/><circle cx="533.3" cy="234.8" r="5.6"/><circle cx="534.2" cy="234.9" r="5.6"/><circle cx="535.2" cy="235" r="5.6"/><circle cx="536.2" cy="235.2" r="5.6"/><circle cx="537.1" cy="235.3" r="5.6"/><circle cx="538.1" cy="235.5" r="5.6"/><circle cx="539" cy="235.7" r="5.6"/><circle cx="540" cy="235.9" r="5.6"/><circle cx="541" cy="236.1" r="5.6"/><circle cx="541.9" cy="236.3" r="5.6"/><circle cx="542.9" cy="236.5" r="5.6"/><circle cx="543.8" cy="236.8" r="5.6"/><circle cx="544.8" cy="237" r="5.6"/><circle cx="545.8" cy="237.2" r="5.6"/><circle cx="546.7" cy="237.5" r="5.6"/><circle cx="547.7" cy="237.7" r="5.6"/><circle cx="548.6" cy="238" r="5.6"/><circle cx="549.6" cy="238.3" r="5.6"/><circle cx="550.6" cy="238.6" r="5.6"/><circle cx="551.5" cy="239" r="5.6"/><circle cx="552.5" cy="239.4" r="5.6"/><circle cx="553.4" cy="239.8" r="5.6"/><circle cx="554.4" cy="240.3" r="5.6"/><circle cx="555.4" cy="240.7" r="5.6"/><circle cx="556.3" cy="241" r="5.6"/><circle cx="557.3" cy="241.4" r="5.6"/><circle cx="558.2" cy="241.6" r="5.6"/><circle cx="559.2" cy="241.8" r="5.6"/><circle cx="560.2" cy="242" r="5.6"/><circle cx="561.1" cy="242" r="5.6"/><circle cx="562.1" cy="242" r="5.6"/><circle cx="563" cy="242" r="5.6"/><circle cx="564" cy="241.9" r="5.6"/><circle cx="565" cy="241.9" r="5.6"/><circle cx="565.9" cy="241.8" r="5.6"/><circle cx="566.9" cy="241.8" r="5.6"/><circle cx="567.8" cy="241.7" r="5.6"/><circle cx="568.8" cy="241.7" r="5.6"/><circle cx="569.8" cy="241.6" r="5.6"/><circle cx="570.7" cy="241.6" r="5.6"/><circle cx="571.7" cy="241.6" r="5.6"/><circle cx="572.6" cy="241.7" r="5.6"/><circle cx="573.6" cy="241.9" r="5.6"/><circle cx="574.6" cy="242.2" r="5.6"/><circle cx="575.5" cy="242.6" r="5.6"/><circle cx="576.5" cy="243.1" r="5.6"/><circle cx="577.4" cy="243.5" r="5.6"/><circle cx="578.4" cy="243.9" r="5.6"/><circle cx="579.4" cy="244.3" r="5.6"/><circle cx="580.3" cy="244.7" r="5.6"/><circle cx="581.3" cy="244.9" r="5.6"/><circle cx="582.2" cy="245" r="5.6"/><circle cx="583.2" cy="245" r="5.6"/><circle cx="584.2" cy="245" r="5.6"/><circle cx="585.1" cy="244.9" r="5.6"/><circle cx="586.1" cy="244.9" r="5.6"/><circle cx="587" cy="244.8" r="5.6"/><circle cx="588" cy="244.7" r="5.6"/><circle cx="589" cy="244.7" r="5.6"/><circle cx="589.9" cy="244.6" r="5.6"/><circle cx="590.9" cy="244.6" r="5.6"/><circle cx="591.8" cy="244.5" r="5.6"/><circle cx="592.8" cy="244.5" r="5.6"/><circle cx="593.8" cy="244.5" r="5.6"/><circle cx="594.7" cy="244.7" r="5.6"/><circle cx="595.7" cy="244.9" r="5.6"/><circle cx="596.6" cy="245.2" r="5.6"/><circle cx="597.6" cy="245.5" r="5.6"/><circle cx="598.6" cy="245.9" r="5.6"/><circle cx="599.5" cy="246.3" r="5.6"/><circle cx="600.5" cy="246.6" r="5.6"/><circle cx="601.4" cy="247" r="5.6"/><circle cx="602.4" cy="247.3" r="5.6"/><circle cx="603.4" cy="247.6" r="5.6"/><circle cx="604.3" cy="247.8" r="5.6"/><circle cx="605.3" cy="248" r="5.6"/><circle cx="606.2" cy="248" r="5.6"/><circle cx="607.2" cy="248" r="5.6"/><circle cx="608.2" cy="248" r="5.6"/><circle cx="609.1" cy="247.9" r="5.6"/><circle cx="610.1" cy="247.9" r="5.6"/><circle cx="611" cy="247.8" r="5.6"/><circle cx="612" cy="247.8" r="5.6"/><circle cx="613" cy="247.7" r="5.6"/><circle cx="613.9" cy="247.7" r="5.6"/><circle cx="614.9" cy="247.6" r="5.6"/><circle cx="615.8" cy="247.6" r="5.6"/><circle cx="616.8" cy="247.5" r="5.6"/><circle cx="617.8" cy="247.5" r="5.6"/><circle cx="618.7" cy="247.5" r="5.6"/><circle cx="619.7" cy="247.6" r="5.6"/><circle cx="620.6" cy="247.8" r="5.6"/><circle cx="621.6" cy="248" r="5.6"/><circle cx="622.6" cy="248.4" r="5.6"/><circle cx="623.5" cy="248.7" r="5.6"/><circle cx="624.5" cy="249.1" r="5.6"/><circle cx="625.4" cy="249.5" r="5.6"/><circle cx="626.4" cy="249.9" r="5.6"/><circle cx="627.4" cy="250.3" r="5.6"/><circle cx="628.3" cy="250.6" r="5.6"/><circle cx="629.3" cy="250.8" r="5.6"/><circle cx="630.2" cy="251" r="5.6"/><circle cx="631.2" cy="251" r="5.6"/><circle cx="632.2" cy="251" r="5.6"/><circle cx="633.1" cy="250.9" r="5.6"/><circle cx="634.1" cy="250.8" r="5.6"/><circle cx="635" cy="250.7" r="5.6"/><circle cx="636" cy="250.6" r="5.6"/><circle cx="637" cy="250.4" r="5.6"/><circle cx="637.9" cy="250.3" r="5.6"/><circle cx="638.9" cy="250.1" r="5.6"/><circle cx="639.8" cy="250" r="5.6"/><circle cx="640.8" cy="249.9" r="5.6"/><circle cx="641.8" cy="249.8" r="5.6"/><circle cx="642.7" cy="249.7" r="5.6"/><circle cx="643.7" cy="249.7" r="5.6"/><circle cx="644.6" cy="249.7" r="5.6"/><circle cx="645.6" cy="249.9" r="5.6"/><circle cx="646.6" cy="250.2" r="5.6"/><circle cx="647.5" cy="250.5" r="5.6"/><circle cx="648.5" cy="250.9" r="5.6"/><circle cx="649.4" cy="251.3" r="5.6"/><circle cx="650.4" cy="251.7" r="5.6"/><circle cx="651.4" cy="252.1" r="5.6"/><circle cx="652.3" cy="252.5" r="5.6"/><circle cx="653.3" cy="252.7" r="5.6"/><circle cx="654.2" cy="252.8" r="5.6"/><circle cx="655.2" cy="252.8" r="5.6"/><circle cx="656.2" cy="252.7" r="5.6"/><circle cx="657.1" cy="252.4" r="5.6"/><circle cx="658.1" cy="252.2" r="5.6"/><circle cx="659" cy="251.9" r="5.6"/><circle cx="660" cy="251.5" r="5.6"/><circle cx="661" cy="251.2" r="5.6"/><circle cx="661.9" cy="250.8" r="5.6"/><circle cx="662.9" cy="250.5" r="5.6"/><circle cx="663.8" cy="250.2" r="5.6"/><circle cx="664.8" cy="250" r="5.6"/><circle cx="665.8" cy="249.8" r="5.6"/><circle cx="666.7" cy="249.7" r="5.6"/><circle cx="667.7" cy="249.7" r="5.6"/><circle cx="668.6" cy="249.8" r="5.6"/><circle cx="669.6" cy="250" r="5.6"/><circle cx="670.6" cy="250.2" r="5.6"/><circle cx="671.5" cy="250.4" r="5.6"/><circle cx="672.5" cy="250.7" r="5.6"/><circle cx="673.4" cy="251" r="5.6"/><circle cx="674.4" cy="251.2" r="5.6"/><circle cx="675.4" cy="251.5" r="5.6"/><circle cx="676.3" cy="251.7" r="5.6"/><circle cx="677.3" cy="251.9" r="5.6"/><circle cx="678.2" cy="252" r="5.6"/><circle cx="679.2" cy="252" r="5.6"/><circle cx="680.2" cy="251.9" r="5.6"/><circle cx="681.1" cy="251.8" r="5.6"/><circle cx="682.1" cy="251.7" r="5.6"/><circle cx="683" cy="251.5" r="5.6"/><circle cx="684" cy="251.2" r="5.6"/><circle cx="685" cy="251" r="5.6"/><circle cx="685.9" cy="250.7" r="5.6"/><circle cx="686.9" cy="250.5" r="5.6"/><circle cx="687.8" cy="250.2" r="5.6"/><circle cx="688.8" cy="250" r="5.6"/><circle cx="689.8" cy="249.8" r="5.6"/><circle cx="690.7" cy="249.7" r="5.6"/><circle cx="691.7" cy="249.6" r="5.6"/><circle cx="692.6" cy="249.6" r="5.6"/><circle cx="693.6" cy="249.7" r="5.6"/><circle cx="694.5" cy="249.8" r="5.6"/><circle cx="695.5" cy="250" r="5.6"/><circle cx="696.5" cy="250.2" r="5.6"/><circle cx="697.4" cy="250.4" r="5.6"/><circle cx="698.4" cy="250.7" r="5.6"/><circle cx="699.3" cy="250.9" r="5.6"/><circle cx="700.3" cy="251.1" r="5.6"/><circle cx="701.3" cy="251.3" r="5.6"/><circle cx="702.2" cy="251.4" r="5.6"/><circle cx="703.2" cy="251.4" r="5.6"/><circle cx="704.1" cy="251.3" r="5.6"/><circle cx="705.1" cy="251.1" r="5.6"/><circle cx="706.1" cy="250.9" r="5.6"/><circle cx="707" cy="250.6" r="5.6"/><circle cx="708" cy="250.2" r="5.6"/><circle cx="708.9" cy="249.8" r="5.6"/><circle cx="709.9" cy="249.3" r="5.6"/><circle cx="710.9" cy="248.9" r="5.6"/><circle cx="711.8" cy="248.4" r="5.6"/><circle cx="712.8" cy="248" r="5.6"/><circle cx="713.7" cy="247.6" r="5.6"/><circle cx="714.7" cy="247.3" r="5.6"/><circle cx="715.7" cy="247" r="5.6"/><circle cx="716.6" cy="246.9" r="5.6"/><circle cx="717.6" cy="246.8" r="5.6"/><circle cx="718.5" cy="246.8" r="5.6"/><circle cx="719.5" cy="246.9" r="5.6"/><circle cx="720.5" cy="247" r="5.6"/><circle cx="721.4" cy="247.1" r="5.6"/><circle cx="722.4" cy="247.2" r="5.6"/><circle cx="723.3" cy="247.3" r="5.6"/><circle cx="724.3" cy="247.5" r="5.6"/><circle cx="725.3" cy="247.6" r="5.6"/><circle cx="726.2" cy="247.7" r="5.6"/><circle cx="727.2" cy="247.8" r="5.6"/><circle cx="728.1" cy="247.9" r="5.6"/><circle cx="729.1" cy="248" r="5.6"/><circle cx="730.1" cy="248" r="5.6"/><circle cx="731" cy="248" r="5.6"/><circle cx="732" cy="247.8" r="5.6"/><circle cx="732.9" cy="247.7" r="5.6"/><circle cx="733.9" cy="247.4" r="5.6"/><circle cx="734.9" cy="247.1" r="5.6"/><circle cx="735.8" cy="246.8" r="5.6"/><circle cx="736.8" cy="246.5" r="5.6"/><circle cx="737.7" cy="246.1" r="5.6"/><circle cx="738.7" cy="245.7" r="5.6"/><circle cx="739.7" cy="245.4" r="5.6"/><circle cx="740.6" cy="245" r="5.6"/><circle cx="741.6" cy="244.7" r="5.6"/><circle cx="742.5" cy="244.4" r="5.6"/><circle cx="743.5" cy="244.2" r="5.6"/><circle cx="744.5" cy="244" r="5.6"/><circle cx="745.4" cy="243.9" r="5.6"/><circle cx="746.4" cy="243.8" r="5.6"/><circle cx="747.3" cy="243.8" r="5.6"/><circle cx="748.3" cy="243.9" r="5.6"/><circle cx="749.3" cy="244" r="5.6"/><circle cx="750.2" cy="244.1" r="5.6"/><circle cx="751.2" cy="244.3" r="5.6"/><circle cx="752.1" cy="244.4" r="5.6"/><circle cx="753.1" cy="244.6" r="5.6"/><circle cx="754.1" cy="244.7" r="5.6"/><circle cx="755" cy="244.8" r="5.6"/><circle cx="756" cy="244.9" r="5.6"/><circle cx="756.9" cy="244.9" r="5.6"/><circle cx="757.9" cy="244.9" r="5.6"/><circle cx="758.9" cy="244.8" r="5.6"/><circle cx="759.8" cy="244.7" r="5.6"/><circle cx="760.8" cy="244.6" r="5.6"/><circle cx="761.7" cy="244.4" r="5.6"/><circle cx="762.7" cy="244.2" r="5.6"/><circle cx="763.7" cy="244" r="5.6"/><circle cx="764.6" cy="243.8" r="5.6"/><circle cx="765.6" cy="243.5" r="5.6"/><circle cx="766.5" cy="243.3" r="5.6"/><circle cx="767.5" cy="243" r="5.6"/><circle cx="768.5" cy="242.8" r="5.6"/><circle cx="769.4" cy="242.5" r="5.6"/><circle cx="770.4" cy="242.3" r="5.6"/><circle cx="771.3" cy="242.1" r="5.6"/><circle cx="772.3" cy="241.9" r="5.6"/><circle cx="773.3" cy="241.7" r="5.6"/><circle cx="774.2" cy="241.6" r="5.6"/><circle cx="775.2" cy="241.5" r="5.6"/><circle cx="776.1" cy="241.4" r="5.6"/><circle cx="777.1" cy="241.4" r="5.6"/><circle cx="778.1" cy="241.4" r="5.6"/><circle cx="779" cy="241.5" r="5.6"/><circle cx="780" cy="241.6" r="5.6"/><circle cx="780.9" cy="241.8" r="5.6"/><circle cx="781.9" cy="242" r="5.6"/><circle cx="782.9" cy="242.2" r="5.6"/><circle cx="783.8" cy="242.4" r="5.6"/><circle cx="784.8" cy="242.6" r="5.6"/><circle cx="785.7" cy="242.7" r="5.6"/><circle cx="786.7" cy="242.9" r="5.6"/><circle cx="787.7" cy="243" r="5.6"/><circle cx="788.6" cy="243.1" r="5.6"/><circle cx="789.6" cy="243.2" r="5.6"/><circle cx="790.5" cy="243.2" r="5.6"/><circle cx="791.5" cy="243.1" r="5.6"/><circle cx="792.5" cy="243" r="5.6"/><circle cx="793.4" cy="242.7" r="5.6"/><circle cx="794.4" cy="242.5" r="5.6"/><circle cx="795.3" cy="242.2" r="5.6"/><circle cx="796.3" cy="242" r="5.6"/><circle cx="797.3" cy="241.7" r="5.6"/><circle cx="798.2" cy="241.4" r="5.6"/><circle cx="799.2" cy="241.2" r="5.6"/><circle cx="800.1" cy="240.9" r="5.6"/><circle cx="801.1" cy="240.8" r="5.6"/><circle cx="802.1" cy="240.7" r="5.6"/><circle cx="803" cy="240.7" r="5.6"/><circle cx="804" cy="240.8" r="5.6"/><circle cx="804.9" cy="240.9" r="5.6"/><circle cx="805.9" cy="241" r="5.6"/><circle cx="806.9" cy="241.2" r="5.6"/><circle cx="807.8" cy="241.5" r="5.6"/><circle cx="808.8" cy="241.8" r="5.6"/><circle cx="809.7" cy="242.1" r="5.6"/><circle cx="810.7" cy="242.4" r="5.6"/><circle cx="811.7" cy="242.7" r="5.6"/><circle cx="812.6" cy="243" r="5.6"/><circle cx="813.6" cy="243.3" r="5.6"/><circle cx="814.5" cy="243.6" r="5.6"/><circle cx="815.5" cy="243.9" r="5.6"/><circle cx="816.5" cy="244.2" r="5.6"/><circle cx="817.4" cy="244.5" r="5.6"/><circle cx="818.4" cy="244.7" r="5.6"/><circle cx="819.3" cy="244.8" r="5.6"/><circle cx="820.3" cy="245" r="5.6"/><circle cx="821.3" cy="245" r="5.6"/><circle cx="822.2" cy="245.1" r="5.6"/><circle cx="823.2" cy="245.2" r="5.6"/><circle cx="824.1" cy="245.2" r="5.6"/><circle cx="825.1" cy="245.2" r="5.6"/><circle cx="826.1" cy="245.3" r="5.6"/><circle cx="827" cy="245.3" r="5.6"/><circle cx="828" cy="245.3" r="5.6"/><circle cx="828.9" cy="245.4" r="5.6"/><circle cx="829.9" cy="245.4" r="5.6"/><circle cx="830.9" cy="245.4" r="5.6"/><circle cx="831.8" cy="245.4" r="5.6"/><circle cx="832.8" cy="245.5" r="5.6"/><circle cx="833.7" cy="245.5" r="5.6"/><circle cx="834.7" cy="245.6" r="5.6"/><circle cx="835.7" cy="245.6" r="5.6"/><circle cx="836.6" cy="245.7" r="5.6"/><circle cx="837.6" cy="245.7" r="5.6"/><circle cx="838.5" cy="245.8" r="5.6"/><circle cx="839.5" cy="245.9" r="5.6"/><circle cx="840.5" cy="246" r="5.6"/><circle cx="841.4" cy="246.2" r="5.6"/><circle cx="842.4" cy="246.4" r="5.6"/><circle cx="843.3" cy="246.6" r="5.6"/><circle cx="844.3" cy="246.9" r="5.6"/><circle cx="845.3" cy="247.2" r="5.6"/><circle cx="846.2" cy="247.5" r="5.6"/><circle cx="847.2" cy="247.9" r="5.6"/><circle cx="848.1" cy="248.2" r="5.6"/><circle cx="849.1" cy="248.6" r="5.6"/><circle cx="850.1" cy="249" r="5.6"/><circle cx="851" cy="249.5" r="5.6"/><circle cx="852" cy="250.2" r="5.6"/><circle cx="852.9" cy="251" r="5.6"/><circle cx="853.9" cy="251.8" r="5.6"/><circle cx="854.9" cy="252.7" r="5.6"/><circle cx="855.8" cy="253.5" r="5.6"/><circle cx="856.8" cy="254.3" r="5.6"/><circle cx="857.7" cy="255" r="5.6"/><circle cx="858.7" cy="255.5" r="5.6"/><circle cx="859.7" cy="255.9" r="5.6"/><circle cx="860.6" cy="256.1" r="5.6"/><circle cx="861.6" cy="256.3" r="5.6"/><circle cx="862.5" cy="256.4" r="5.6"/><circle cx="863.5" cy="256.5" r="5.6"/><circle cx="864.4" cy="256.6" r="5.6"/><circle cx="865.4" cy="256.7" r="5.6"/><circle cx="866.4" cy="256.7" r="5.6"/><circle cx="867.3" cy="256.8" r="5.6"/><circle cx="868.3" cy="256.9" r="5.6"/><circle cx="869.2" cy="257" r="5.6"/><circle cx="870.2" cy="257.2" r="5.6"/><circle cx="871.2" cy="257.3" r="5.6"/><circle cx="872.1" cy="257.6" r="5.6"/><circle cx="873.1" cy="258" r="5.6"/><circle cx="874" cy="258.4" r="5.6"/><circle cx="875" cy="258.9" r="5.6"/><circle cx="876" cy="259.5" r="5.6"/><circle cx="876.9" cy="260.2" r="5.6"/><circle cx="877.9" cy="260.9" r="5.6"/><circle cx="878.8" cy="261.6" r="5.6"/><circle cx="879.8" cy="262.4" r="5.6"/><circle cx="880.8" cy="263.1" r="5.6"/><circle cx="881.7" cy="263.9" r="5.6"/><circle cx="882.7" cy="264.7" r="5.6"/><circle cx="883.6" cy="265.5" r="5.6"/><circle cx="884.6" cy="266.3" r="5.6"/><circle cx="885.6" cy="267.1" r="5.6"/><circle cx="886.5" cy="268" r="5.6"/><circle cx="887.5" cy="269" r="5.6"/><circle cx="888.4" cy="269.9" r="5.6"/><circle cx="889.4" cy="270.9" r="5.6"/><circle cx="890.4" cy="271.9" r="5.6"/><circle cx="891.3" cy="273" r="5.6"/><circle cx="892.3" cy="274" r="5.6"/><circle cx="893.2" cy="275.1" r="5.6"/><circle cx="894.2" cy="276.1" r="5.6"/><circle cx="895.2" cy="277.1" r="5.6"/><circle cx="896.1" cy="278.1" r="5.6"/><circle cx="897.1" cy="279.1" r="5.6"/><circle cx="898" cy="280" r="5.6"/><circle cx="899" cy="280.9" r="5.6"/><circle cx="900" cy="281.8" r="5.6"/><circle cx="900.9" cy="282.7" r="5.6"/><circle cx="901.9" cy="283.6" r="5.6"/><circle cx="902.8" cy="284.5" r="5.6"/><circle cx="903.8" cy="285.4" r="5.6"/><circle cx="904.8" cy="286.3" r="5.6"/><circle cx="905.7" cy="287.2" r="5.6"/><circle cx="906.7" cy="288.2" r="5.6"/><circle cx="907.6" cy="289.2" r="5.6"/><circle cx="908.6" cy="290.2" r="5.6"/><circle cx="909.6" cy="291.3" r="5.6"/><circle cx="910.5" cy="292.4" r="5.6"/><circle cx="911.5" cy="293.6" r="5.6"/><circle cx="912.4" cy="294.9" r="5.6"/><circle cx="913.4" cy="296.3" r="5.6"/><circle cx="914.4" cy="297.8" r="5.6"/><circle cx="915.3" cy="299.3" r="5.6"/><circle cx="916.3" cy="300.9" r="5.6"/><circle cx="917.2" cy="302.5" r="5.6"/><circle cx="918.2" cy="304.1" r="5.6"/><circle cx="919.2" cy="305.7" r="5.6"/><circle cx="920.1" cy="307.3" r="5.6"/><circle cx="921.1" cy="308.9" r="5.6"/><circle cx="922" cy="310.4" r="5.6"/><circle cx="923" cy="311.9" r="5.6"/><circle cx="924" cy="313.3" r="5.6"/><circle cx="924.9" cy="314.8" r="5.6"/><circle cx="925.9" cy="316.2" r="5.6"/><circle cx="926.8" cy="317.7" r="5.6"/><circle cx="927.8" cy="319.1" r="5.6"/><circle cx="928.8" cy="320.7" r="5.6"/><circle cx="929.7" cy="322.3" r="5.6"/><circle cx="930.7" cy="323.9" r="5.6"/><circle cx="931.6" cy="325.7" r="5.6"/><circle cx="932.6" cy="327.6" r="5.6"/><circle cx="933.6" cy="329.6" r="5.6"/><circle cx="934.5" cy="331.7" r="5.6"/><circle cx="935.5" cy="333.7" r="5.6"/><circle cx="936.4" cy="335.8" r="5.6"/><circle cx="937.4" cy="337.8" r="5.6"/><circle cx="938.4" cy="339.9" r="5.6"/><circle cx="939.3" cy="342" r="5.6"/><circle cx="940.3" cy="344.1" r="5.6"/><circle cx="941.2" cy="346.2" r="5.6"/><circle cx="942.2" cy="348.3" r="5.6"/><circle cx="943.2" cy="350.4" r="5.6"/><circle cx="944.1" cy="352.6" r="5.6"/><circle cx="945.1" cy="354.7" r="5.6"/><circle cx="946" cy="356.9" r="5.6"/><circle cx="947" cy="359" r="5.6"/><circle cx="948" cy="361.2" r="5.6"/><circle cx="948.9" cy="363.3" r="5.6"/><circle cx="949.9" cy="365.5" r="5.6"/><circle cx="950.8" cy="367.7" r="5.6"/><circle cx="951.8" cy="369.8" r="5.6"/><circle cx="952.8" cy="372" r="5.6"/><circle cx="953.7" cy="374.1" r="5.6"/><circle cx="954.7" cy="376.2" r="5.6"/><circle cx="955.6" cy="378.3" r="5.6"/><circle cx="956.6" cy="380.4" r="5.6"/><circle cx="957.6" cy="382.5" r="5.6"/><circle cx="958.5" cy="384.6" r="5.6"/><circle cx="959.5" cy="386.8" r="5.6"/><circle cx="960.4" cy="389" r="5.6"/><circle cx="961.4" cy="391.1" r="5.6"/><circle cx="962.4" cy="393.4" r="5.6"/><circle cx="963.3" cy="395.6" r="5.6"/><circle cx="964.3" cy="398" r="5.6"/><circle cx="965.2" cy="400.3" r="5.6"/><circle cx="966.2" cy="402.7" r="5.6"/><circle cx="967.2" cy="405.2" r="5.6"/><circle cx="968.1" cy="407.8" r="5.6"/><circle cx="969.1" cy="410.4" r="5.6"/><circle cx="970" cy="413.1" r="5.6"/><circle cx="971" cy="415.8" r="5.6"/><circle cx="972" cy="418.5" r="5.6"/><circle cx="972.9" cy="421.3" r="5.6"/><circle cx="973.9" cy="424.2" r="5.6"/><circle cx="974.8" cy="427" r="5.6"/><circle cx="975.8" cy="429.9" r="5.6"/><circle cx="976.8" cy="432.8" r="5.6"/><circle cx="977.7" cy="435.7" r="5.6"/><circle cx="978.7" cy="438.6" r="5.6"/><circle cx="979.6" cy="441.6" r="5.6"/><circle cx="980.6" cy="444.5" r="5.6"/><circle cx="981.6" cy="447.4" r="5.6"/><circle cx="982.5" cy="450.4" r="5.6"/><circle cx="983.5" cy="453.4" r="5.6"/><circle cx="984.4" cy="456.5" r="5.6"/><circle cx="985.4" cy="459.6" r="5.6"/><circle cx="986.4" cy="462.7" r="5.6"/><circle cx="987.3" cy="466" r="5.6"/><circle cx="988.3" cy="469.3" r="5.6"/><circle cx="989.2" cy="472.6" r="5.6"/><circle cx="990.2" cy="476.1" r="5.6"/><circle cx="991.2" cy="479.8" r="5.6"/><circle cx="992.1" cy="483.5" r="5.6"/><circle cx="993.1" cy="487.3" r="5.6"/><circle cx="994" cy="491.2" r="5.6"/><circle cx="995" cy="495.1" r="5.6"/><circle cx="996" cy="499" r="5.6"/><circle cx="996.9" cy="502.9" r="5.6"/><circle cx="997.9" cy="506.7" r="5.6"/><circle cx="998.8" cy="510.5" r="5.6"/><circle cx="999.8" cy="514.4" r="5.6"/><circle cx="1000.8" cy="518.3" r="5.6"/><circle cx="1001.7" cy="522.2" r="5.6"/><circle cx="1002.7" cy="526.1" r="5.6"/><circle cx="1003.6" cy="530" r="5.6"/><circle cx="1004.6" cy="533.9" r="5.6"/><circle cx="1005.6" cy="537.6" r="5.6"/><circle cx="1006.5" cy="541.3" r="5.6"/><circle cx="1007.5" cy="544.9" r="5.6"/><circle cx="1008.4" cy="548.4" r="5.6"/><circle cx="1009.4" cy="551.9" r="5.6"/><circle cx="1010.4" cy="555.3" r="5.6"/><circle cx="1011.3" cy="558.8" r="5.6"/><circle cx="1012.3" cy="562.2" r="5.6"/><circle cx="1013.2" cy="565.6" r="5.6"/><circle cx="1014.2" cy="569.1" r="5.6"/><circle cx="1015.2" cy="572.7" r="5.6"/><circle cx="1016.1" cy="576.3" r="5.6"/><circle cx="1017.1" cy="580" r="5.6"/><circle cx="1018" cy="583.6" r="5.6"/><circle cx="1019" cy="587.3" r="5.6"/><circle cx="1020" cy="591" r="5.6"/><circle cx="1020.9" cy="594.8" r="5.6"/><circle cx="1021.9" cy="598.7" r="5.6"/><circle cx="1022.8" cy="602.7" r="5.6"/><circle cx="1023.8" cy="606.9" r="5.6"/><circle cx="1024.8" cy="611.2" r="5.6"/><circle cx="1025.7" cy="615.9" r="5.6"/><circle cx="1026.7" cy="620.7" r="5.6"/><circle cx="1027.6" cy="625.7" r="5.6"/><circle cx="1028.6" cy="630.7" r="5.6"/><circle cx="1029.6" cy="635.7" r="5.6"/><circle cx="1030.5" cy="640.6" r="5.6"/><circle cx="1031.5" cy="645.3" r="5.6"/><circle cx="1032.4" cy="649.9" r="5.6"/><circle cx="1033.4" cy="654.5" r="5.6"/><circle cx="1034.4" cy="659" r="5.6"/><circle cx="1035.3" cy="663.5" r="5.6"/><circle cx="1036.3" cy="667.9" r="5.6"/><circle cx="1037.2" cy="672.3" r="5.6"/><circle cx="1038.2" cy="676.6" r="5.6"/><circle cx="1039.1" cy="680.9" r="5.6"/><circle cx="1040.1" cy="685.2" r="5.6"/><circle cx="1041.1" cy="689.6" r="5.6"/><circle cx="1042" cy="693.9" r="5.6"/><circle cx="1043" cy="698.1" r="5.6"/><circle cx="1043.9" cy="702.1" r="5.6"/><circle cx="1044.9" cy="706" r="5.6"/><circle cx="1045.9" cy="709.6" r="5.6"/><circle cx="1046.8" cy="712.9" r="5.6"/><circle cx="1047.8" cy="716" r="5.6"/><circle cx="1048.7" cy="719.1" r="5.6"/><circle cx="1049.7" cy="722" r="5.6"/><circle cx="1050.7" cy="724.8" r="5.6"/><circle cx="1051.6" cy="727.5" r="5.6"/><circle cx="1052.6" cy="730.1" r="5.6"/><circle cx="1053.5" cy="732.7" r="5.6"/><circle cx="1054.5" cy="735.2" r="5.6"/><circle cx="1055.5" cy="737.6" r="5.6"/><circle cx="1056.4" cy="739.9" r="5.6"/><circle cx="1057.4" cy="742.2" r="5.6"/><circle cx="1058.3" cy="744.5" r="5.6"/><circle cx="1059.3" cy="746.7" r="5.6"/><circle cx="1060.3" cy="748.8" r="5.6"/><circle cx="1061.2" cy="750.8" r="5.6"/><circle cx="1062.2" cy="752.8" r="5.6"/><circle cx="1063.1" cy="754.7" r="5.6"/><circle cx="1064.1" cy="756.6" r="5.6"/><circle cx="1065.1" cy="758.4" r="5.6"/><circle cx="1066" cy="760.3" r="5.6"/><circle cx="1067" cy="762.2" r="5.6"/><circle cx="1067.9" cy="764.1" r="5.6"/><circle cx="1068.9" cy="766.3" r="5.6"/><circle cx="1069.9" cy="768.6" r="5.6"/><circle cx="1070.8" cy="770.8" r="5.6"/><circle cx="1071.8" cy="772.8" r="5.6"/><circle cx="1072.7" cy="774.4" r="5.6"/><circle cx="1073.7" cy="775.4" r="5.6"/><circle cx="1074.7" cy="776.3" r="5.6"/><circle cx="1075.6" cy="777.1" r="5.6"/><circle cx="1076.6" cy="777.9" r="5.6"/><circle cx="1077.5" cy="778.7" r="5.6"/><circle cx="1078.5" cy="779.4" r="5.6"/><circle cx="1079.5" cy="780" r="5.6"/><circle cx="1080.4" cy="780.6" r="5.6"/><circle cx="1081.4" cy="781.1" r="5.6"/><circle cx="1082.3" cy="781.5" r="5.6"/><circle cx="1083.3" cy="781.8" r="5.6"/><circle cx="1084.3" cy="782" r="5.6"/><circle cx="1085.2" cy="782.2" r="5.6"/><circle cx="1086.2" cy="782.2" r="5.6"/><circle cx="1087.1" cy="782.1" r="5.6"/><circle cx="1088.1" cy="781.9" r="5.6"/><circle cx="1089.1" cy="781.7" r="5.6"/><circle cx="1090" cy="781.4" r="5.6"/><circle cx="1091" cy="781.1" r="5.6"/><circle cx="1091.9" cy="780.9" r="5.6"/><circle cx="1092.9" cy="780.7" r="5.6"/><circle cx="1093.9" cy="780.6" r="5.6"/><circle cx="1094.8" cy="780.7" r="5.6"/><circle cx="1095.8" cy="781.1" r="5.6"/><circle cx="1096.7" cy="781.8" r="5.6"/><circle cx="1097.7" cy="782.7" r="5.6"/><circle cx="1098.7" cy="783.8" r="5.6"/><circle cx="1099.6" cy="785.1" r="5.6"/><circle cx="1100.6" cy="786.6" r="5.6"/><circle cx="1101.5" cy="788.2" r="5.6"/><circle cx="1102.5" cy="789.8" r="5.6"/><circle cx="1103.5" cy="791.9" r="5.6"/><circle cx="1104.4" cy="795" r="5.6"/><circle cx="1105.4" cy="798.7" r="5.6"/><circle cx="1106.3" cy="802.8" r="5.6"/><circle cx="1107.3" cy="807.2" r="5.6"/><circle cx="1108.3" cy="812" r="5.6"/><circle cx="1109.2" cy="817.7" r="5.6"/><circle cx="1110.2" cy="823.8" r="5.6"/><circle cx="1111.1" cy="829.8" r="5.6"/><circle cx="1112.1" cy="835.6" r="5.6"/><circle cx="1113.1" cy="841.4" r="5.6"/><circle cx="1114" cy="847.2" r="5.6"/><circle cx="1115" cy="853" r="5.6"/><circle cx="1115.9" cy="858.9" r="5.6"/><circle cx="1116.9" cy="864.7" r="5.6"/><circle cx="1117.9" cy="870.7" r="5.6"/><circle cx="1118.8" cy="877.1" r="5.6"/><circle cx="1119.8" cy="884.2" r="5.6"/><circle cx="1120.7" cy="892.3" r="5.6"/><circle cx="1121.7" cy="901" r="5.6"/><circle cx="1122.5" cy="911.6" r="5.6"/><circle cx="1123.5" cy="922.5" r="5.6"/><circle cx="1124.5" cy="934" r="5.6"/><circle cx="1125.2" cy="946.3" r="5.6"/><circle cx="1126.4" cy="959" r="5.6"/><circle cx="1127.4" cy="971.4" r="5.6"/><circle cx="1128.1" cy="984.9" r="5.6"/><circle cx="1129.1" cy="998.3" r="5.6"/><circle cx="1130.3" cy="1012.4" r="5.6"/><circle cx="1131.1" cy="1026.3" r="5.6"/><circle cx="1132" cy="1040.8" r="5.6"/><circle cx="1132.9" cy="1055.5" r="5.6"/><circle cx="1133.9" cy="1070.6" r="5.6"/><circle cx="1134.9" cy="1084.2" r="5.6"/><circle cx="1136" cy="1098.8" r="5.6"/><circle cx="1136.8" cy="1113.4" r="5.6"/><circle cx="1138" cy="1127.3" r="5.6"/><circle cx="1138.9" cy="1140.5" r="5.6"/><circle cx="1139.4" cy="1152.6" r="5.6"/><circle cx="1140.5" cy="1164.5" r="5.6"/><circle cx="1141.7" cy="1175.1" r="5.6"/><circle cx="1142.4" cy="1184.5" r="5.6"/><circle cx="1143.4" cy="1192.7" r="5.6"/><circle cx="1144.5" cy="1199.6" r="5.6"/><circle cx="1145.5" cy="1204.6" r="5.6"/><circle cx="1146.5" cy="1208.6" r="5.6"/><circle cx="1147.5" cy="1211.6" r="5.6"/><circle cx="1148.4" cy="1213.4" r="5.6"/><circle cx="1149.3" cy="1213.3" r="5.6"/><circle cx="1150.2" cy="1211.8" r="5.6"/><circle cx="1151.1" cy="1209.3" r="5.6"/><circle cx="1152" cy="1205.2" r="5.6"/><circle cx="1153" cy="1199.6" r="5.6"/><circle cx="1154" cy="1192.6" r="5.6"/><circle cx="1154.9" cy="1184.7" r="5.6"/><circle cx="1155.9" cy="1175.7" r="5.6"/><circle cx="1156.9" cy="1165.6" r="5.6"/><circle cx="1158" cy="1154.1" r="5.6"/><circle cx="1159" cy="1140.9" r="5.6"/><circle cx="1160.1" cy="1126.9" r="5.6"/><circle cx="1160.7" cy="1112.6" r="5.6"/><circle cx="1161.9" cy="1097.5" r="5.6"/><circle cx="1163" cy="1080.8" r="5.6"/><circle cx="1163.5" cy="1063.6" r="5.6"/><circle cx="1164.5" cy="1046" r="5.6"/><circle cx="1165.8" cy="1029.2" r="5.6"/><circle cx="1166.6" cy="1011.8" r="5.6"/><circle cx="1167.6" cy="994.9" r="5.6"/><circle cx="1168.5" cy="978.8" r="5.6"/><circle cx="1169.6" cy="964.2" r="5.6"/><circle cx="1170.5" cy="951.1" r="5.6"/><circle cx="1171.5" cy="937.8" r="5.6"/><circle cx="1172.1" cy="926.4" r="5.6"/><circle cx="1173" cy="915.9" r="5.6"/><circle cx="1174.4" cy="906.9" r="5.6"/><circle cx="1175.2" cy="898" r="5.6"/><circle cx="1176.2" cy="888.9" r="5.6"/><circle cx="1177.1" cy="882" r="5.6"/><circle cx="1178.1" cy="876.1" r="5.6"/><circle cx="1179" cy="870.8" r="5.6"/><circle cx="1180" cy="865.7" r="5.6"/><circle cx="1181" cy="860.8" r="5.6"/><circle cx="1181.9" cy="856.3" r="5.6"/><circle cx="1182.9" cy="851.7" r="5.6"/><circle cx="1183.8" cy="847.2" r="5.6"/><circle cx="1184.8" cy="842.7" r="5.6"/><circle cx="1185.8" cy="838.3" r="5.6"/><circle cx="1186.7" cy="833.8" r="5.6"/><circle cx="1187.7" cy="828.8" r="5.6"/><circle cx="1188.6" cy="823.3" r="5.6"/><circle cx="1189.6" cy="817.4" r="5.6"/><circle cx="1190.6" cy="811.5" r="5.6"/><circle cx="1191.5" cy="805.7" r="5.6"/><circle cx="1192.5" cy="799.7" r="5.6"/><circle cx="1193.4" cy="793.8" r="5.6"/><circle cx="1194.4" cy="788" r="5.6"/><circle cx="1195.4" cy="782.2" r="5.6"/><circle cx="1196.3" cy="776.5" r="5.6"/><circle cx="1197.3" cy="771.1" r="5.6"/><circle cx="1198.2" cy="766.1" r="5.6"/><circle cx="1199.2" cy="761.1" r="5.6"/><circle cx="1200.2" cy="755.9" r="5.6"/><circle cx="1201.1" cy="750.9" r="5.6"/><circle cx="1202.1" cy="745.7" r="5.6"/><circle cx="1203.1" cy="740.1" r="5.6"/><circle cx="1204" cy="733.6" r="5.6"/><circle cx="1205" cy="725.6" r="5.6"/><circle cx="1205.9" cy="714.3" r="5.6"/><circle cx="1206.9" cy="700.5" r="5.6"/><circle cx="1207.9" cy="686.1" r="5.6"/><circle cx="1208.8" cy="675.5" r="5.6"/><circle cx="1209.8" cy="666.8" r="5.6"/><circle cx="1210.7" cy="659.1" r="5.6"/><circle cx="1211.7" cy="651.8" r="5.6"/><circle cx="1212.7" cy="644.5" r="5.6"/><circle cx="1213.6" cy="637.8" r="5.6"/><circle cx="1214.6" cy="632.6" r="5.6"/><circle cx="1215.5" cy="628.3" r="5.6"/><circle cx="1216.5" cy="625.6" r="5.6"/><circle cx="1217.5" cy="623.6" r="5.6"/><circle cx="1218.4" cy="622.1" r="5.6"/><circle cx="1219.4" cy="621.4" r="5.6"/><circle cx="1220.3" cy="621.5" r="5.6"/><circle cx="1221.3" cy="621.6" r="5.6"/><circle cx="1222.3" cy="621.9" r="5.6"/><circle cx="1223.2" cy="622.1" r="5.6"/><circle cx="1224.2" cy="622.4" r="5.6"/><circle cx="1225.1" cy="622.6" r="5.6"/><circle cx="1226.1" cy="622.7" r="5.6"/><circle cx="1227.1" cy="622.4" r="5.6"/><circle cx="1228" cy="621.3" r="5.6"/><circle cx="1229" cy="619.4" r="5.6"/><circle cx="1229.9" cy="617" r="5.6"/><circle cx="1230.9" cy="614.3" r="5.6"/><circle cx="1231.9" cy="611.5" r="5.6"/><circle cx="1232.8" cy="608" r="5.6"/><circle cx="1233.8" cy="603.5" r="5.6"/><circle cx="1234.7" cy="598.2" r="5.6"/><circle cx="1235.7" cy="590.8" r="5.6"/><circle cx="1236.7" cy="582.2" r="5.6"/><circle cx="1237.6" cy="574.6" r="5.6"/><circle cx="1238.6" cy="567.5" r="5.6"/><circle cx="1239.5" cy="560.8" r="5.6"/><circle cx="1240.5" cy="554.7" r="5.6"/><circle cx="1241.5" cy="549.4" r="5.6"/><circle cx="1242.4" cy="544.6" r="5.6"/><circle cx="1243.4" cy="540.3" r="5.6"/><circle cx="1244.3" cy="536.8" r="5.6"/><circle cx="1245.3" cy="533.5" r="5.6"/><circle cx="1246.3" cy="530.6" r="5.6"/><circle cx="1247.2" cy="528" r="5.6"/><circle cx="1248.2" cy="525.5" r="5.6"/><circle cx="1249.1" cy="523" r="5.6"/><circle cx="1250.1" cy="520.5" r="5.6"/><circle cx="1251.1" cy="518.2" r="5.6"/><circle cx="1252" cy="516.6" r="5.6"/><circle cx="1253" cy="515.8" r="5.6"/><circle cx="1254" cy="515.6" r="5.6"/><circle cx="1254.9" cy="515.5" r="5.6"/><circle cx="1255.9" cy="515.4" r="5.6"/><circle cx="1256.8" cy="515.3" r="5.6"/><circle cx="1257.8" cy="515.3" r="5.6"/><circle cx="1258.8" cy="515.1" r="5.6"/><circle cx="1259.7" cy="515" r="5.6"/><circle cx="1260.7" cy="514.5" r="5.6"/><circle cx="1261.6" cy="513.6" r="5.6"/><circle cx="1262.6" cy="512.6" r="5.6"/><circle cx="1263.6" cy="511.6" r="5.6"/><circle cx="1264.5" cy="510.9" r="5.6"/><circle cx="1265.5" cy="510.7" r="5.6"/><circle cx="1266.4" cy="511.9" r="5.6"/><circle cx="1267.4" cy="514.7" r="5.6"/><circle cx="1268.4" cy="518" r="5.6"/><circle cx="1269.3" cy="521.3" r="5.6"/><circle cx="1270.3" cy="525.5" r="5.6"/><circle cx="1271.2" cy="529.6" r="5.6"/><circle cx="1272.2" cy="532.2" r="5.6"/><circle cx="1273.2" cy="533.8" r="5.6"/><circle cx="1274.1" cy="535" r="5.6"/><circle cx="1275.1" cy="535.4" r="5.6"/><circle cx="1276" cy="534.6" r="5.6"/><circle cx="1277" cy="532.9" r="5.6"/><circle cx="1278" cy="530.5" r="5.6"/><circle cx="1278.9" cy="527.2" r="5.6"/><circle cx="1279.9" cy="520.7" r="5.6"/><circle cx="1280.8" cy="513.2" r="5.6"/><circle cx="1281.8" cy="505" r="5.6"/><circle cx="1282.8" cy="496.5" r="5.6"/><circle cx="1283.7" cy="488.3" r="5.6"/><circle cx="1284.7" cy="480.1" r="5.6"/><circle cx="1285.6" cy="474.2" r="5.6"/><circle cx="1286.6" cy="471.1" r="5.6"/><circle cx="1287.6" cy="468.4" r="5.6"/><circle cx="1288.5" cy="466.2" r="5.6"/><circle cx="1289.5" cy="464.6" r="5.6"/><circle cx="1290.4" cy="463.8" r="5.6"/><circle cx="1291.4" cy="463.8" r="5.6"/><circle cx="1292.4" cy="464.4" r="5.6"/><circle cx="1293.3" cy="465.4" r="5.6"/><circle cx="1294.3" cy="466.8" r="5.6"/><circle cx="1295.2" cy="468.4" r="5.6"/><circle cx="1296.2" cy="470.1" r="5.6"/><circle cx="1297.2" cy="471.8" r="5.6"/><circle cx="1298.1" cy="473.5" r="5.6"/><circle cx="1299.1" cy="475.3" r="5.6"/><circle cx="1300" cy="477.3" r="5.6"/><circle cx="1301" cy="479.5" r="5.6"/><circle cx="1302" cy="481.9" r="5.6"/><circle cx="1302.9" cy="484.5" r="5.6"/><circle cx="1303.9" cy="487.5" r="5.6"/><circle cx="1304.8" cy="491.2" r="5.6"/><circle cx="1305.8" cy="495.3" r="5.6"/><circle cx="1306.8" cy="499.3" r="5.6"/><circle cx="1307.7" cy="503.7" r="5.6"/><circle cx="1308.7" cy="508.7" r="5.6"/><circle cx="1309.7" cy="512.8" r="5.6"/><circle cx="1310.6" cy="514.3" r="5.6"/><circle cx="1311.6" cy="514.5" r="5.6"/><circle cx="1312.5" cy="514.6" r="5.6"/><circle cx="1313.5" cy="514.6" r="5.6"/><circle cx="1314.5" cy="514.6" r="5.6"/><circle cx="1315.4" cy="514.7" r="5.6"/><circle cx="1316.4" cy="514.7" r="5.6"/><circle cx="1317.3" cy="514.8" r="5.6"/><circle cx="1318.3" cy="514.9" r="5.6"/><circle cx="1319.3" cy="515" r="5.6"/><circle cx="1320.2" cy="515.8" r="5.6"/><circle cx="1321.2" cy="517.7" r="5.6"/><circle cx="1322.1" cy="520.1" r="5.6"/><circle cx="1323.1" cy="523" r="5.6"/><circle cx="1324.1" cy="526.1" r="5.6"/><circle cx="1325" cy="530.5" r="5.6"/><circle cx="1326" cy="535.3" r="5.6"/><circle cx="1326.9" cy="539.4" r="5.6"/><circle cx="1327.9" cy="543.7" r="5.6"/><circle cx="1328.9" cy="547.5" r="5.6"/><circle cx="1329.8" cy="550.2" r="5.6"/><circle cx="1330.8" cy="551.6" r="5.6"/><circle cx="1331.7" cy="552.7" r="5.6"/><circle cx="1332.7" cy="553.6" r="5.6"/><circle cx="1333.7" cy="554.1" r="5.6"/><circle cx="1334.6" cy="554.3" r="5.6"/><circle cx="1335.6" cy="553.9" r="5.6"/><circle cx="1336.5" cy="552.9" r="5.6"/><circle cx="1337.5" cy="551.5" r="5.6"/><circle cx="1338.5" cy="549.9" r="5.6"/><circle cx="1339.4" cy="548.1" r="5.6"/><circle cx="1340.4" cy="546.1" r="5.6"/><circle cx="1341.3" cy="543.3" r="5.6"/><circle cx="1342.3" cy="540.1" r="5.6"/><circle cx="1343.3" cy="536.9" r="5.6"/><circle cx="1344.2" cy="534.1" r="5.6"/><circle cx="1345.2" cy="531.5" r="5.6"/><circle cx="1346.1" cy="529" r="5.6"/><circle cx="1347.1" cy="526.5" r="5.6"/><circle cx="1348.1" cy="524.1" r="5.6"/><circle cx="1349" cy="521.9" r="5.6"/><circle cx="1350" cy="519.8" r="5.6"/><circle cx="1350.9" cy="517.8" r="5.6"/><circle cx="1351.9" cy="516" r="5.6"/><circle cx="1352.9" cy="514.2" r="5.6"/><circle cx="1353.8" cy="512.5" r="5.6"/><circle cx="1354.8" cy="510.8" r="5.6"/><circle cx="1355.7" cy="509.1" r="5.6"/><circle cx="1356.7" cy="507.5" r="5.6"/><circle cx="1357.7" cy="505.9" r="5.6"/><circle cx="1358.6" cy="504.3" r="5.6"/><circle cx="1359.6" cy="502.8" r="5.6"/><circle cx="1360.6" cy="501.3" r="5.6"/><circle cx="1361.5" cy="499.8" r="5.6"/><circle cx="1362.5" cy="498.3" r="5.6"/><circle cx="1363.4" cy="496.8" r="5.6"/><circle cx="1364.4" cy="495.2" r="5.6"/><circle cx="1365.4" cy="493.5" r="5.6"/><circle cx="1366.3" cy="491.7" r="5.6"/><circle cx="1367.3" cy="489.8" r="5.6"/><circle cx="1368.2" cy="487.9" r="5.6"/><circle cx="1369.2" cy="486.4" r="5.6"/><circle cx="1370.2" cy="485.1" r="5.6"/><circle cx="1371.1" cy="484.4" r="5.6"/><circle cx="1372.1" cy="483.9" r="5.6"/><circle cx="1373" cy="483.4" r="5.6"/><circle cx="1374" cy="483.1" r="5.6"/><circle cx="1375" cy="482.8" r="5.6"/><circle cx="1375.9" cy="482.5" r="5.6"/><circle cx="1376.9" cy="482.2" r="5.6"/><circle cx="1377.8" cy="481.8" r="5.6"/><circle cx="1378.8" cy="481.5" r="5.6"/><circle cx="1379.8" cy="481.2" r="5.6"/><circle cx="1380.7" cy="480.9" r="5.6"/><circle cx="1381.7" cy="480.6" r="5.6"/><circle cx="1382.6" cy="480.3" r="5.6"/><circle cx="1383.6" cy="479.9" r="5.6"/><circle cx="1384.6" cy="479.5" r="5.6"/><circle cx="1385.5" cy="478.9" r="5.6"/><circle cx="1386.5" cy="478.2" r="5.6"/><circle cx="1387.4" cy="477.4" r="5.6"/><circle cx="1388.4" cy="476.5" r="5.6"/><circle cx="1389.4" cy="475.5" r="5.6"/><circle cx="1390.3" cy="474.4" r="5.6"/><circle cx="1391.3" cy="473.3" r="5.6"/><circle cx="1392.2" cy="472.1" r="5.6"/><circle cx="1393.2" cy="470.9" r="5.6"/><circle cx="1394.2" cy="469.7" r="5.6"/><circle cx="1395.1" cy="468.4" r="5.6"/><circle cx="1396.1" cy="466.9" r="5.6"/><circle cx="1397" cy="465.4" r="5.6"/><circle cx="1398" cy="463.8" r="5.6"/><circle cx="1399" cy="462.2" r="5.6"/><circle cx="1399.9" cy="460.7" r="5.6"/><circle cx="1400.9" cy="459.3" r="5.6"/><circle cx="1401.8" cy="457.8" r="5.6"/><circle cx="1402.8" cy="456.4" r="5.6"/><circle cx="1403.8" cy="455" r="5.6"/><circle cx="1404.7" cy="453.5" r="5.6"/><circle cx="1405.7" cy="452.1" r="5.6"/><circle cx="1406.6" cy="450.7" r="5.6"/><circle cx="1407.6" cy="449.3" r="5.6"/><circle cx="1408.6" cy="447.9" r="5.6"/><circle cx="1409.5" cy="446.4" r="5.6"/><circle cx="1410.5" cy="445" r="5.6"/><circle cx="1411.5" cy="443.6" r="5.6"/><circle cx="1412.4" cy="442.2" r="5.6"/><circle cx="1413.4" cy="440.8" r="5.6"/><circle cx="1414.3" cy="439.4" r="5.6"/><circle cx="1415.3" cy="437.9" r="5.6"/><circle cx="1416.3" cy="436.5" r="5.6"/><circle cx="1417.2" cy="435.1" r="5.6"/><circle cx="1418.2" cy="433.7" r="5.6"/><circle cx="1419.1" cy="432.2" r="5.6"/><circle cx="1420.1" cy="430.8" r="5.6"/><circle cx="1421.1" cy="429.4" r="5.6"/><circle cx="1422" cy="428" r="5.6"/><circle cx="1423" cy="426.6" r="5.6"/><circle cx="1423.9" cy="425.2" r="5.6"/><circle cx="1424.9" cy="423.8" r="5.6"/><circle cx="1425.9" cy="422.3" r="5.6"/><circle cx="1426.8" cy="420.9" r="5.6"/><circle cx="1427.8" cy="419.5" r="5.6"/><circle cx="1428.7" cy="418" r="5.6"/><circle cx="1429.7" cy="416.5" r="5.6"/><circle cx="1430.7" cy="415" r="5.6"/><circle cx="1431.6" cy="413.5" r="5.6"/><circle cx="1432.6" cy="411.9" r="5.6"/><circle cx="1433.5" cy="410.3" r="5.6"/><circle cx="1434.5" cy="408.7" r="5.6"/><circle cx="1435.5" cy="407" r="5.6"/><circle cx="1436.4" cy="405.3" r="5.6"/><circle cx="1437.4" cy="403.5" r="5.6"/><circle cx="1438.3" cy="401.8" r="5.6"/><circle cx="1439.3" cy="400.1" r="5.6"/><circle cx="1440.3" cy="398.4" r="5.6"/><circle cx="1441.2" cy="396.7" r="5.6"/><circle cx="1442.2" cy="395.1" r="5.6"/><circle cx="1443.1" cy="393.5" r="5.6"/><circle cx="1444.1" cy="392" r="5.6"/><circle cx="1445.1" cy="390.6" r="5.6"/><circle cx="1446" cy="389.3" r="5.6"/><circle cx="1447" cy="388" r="5.6"/><circle cx="1447.9" cy="386.7" r="5.6"/><circle cx="1448.9" cy="385.5" r="5.6"/><circle cx="1449.9" cy="384.4" r="5.6"/><circle cx="1450.8" cy="383.2" r="5.6"/><circle cx="1451.8" cy="382" r="5.6"/><circle cx="1452.7" cy="380.9" r="5.6"/><circle cx="1453.7" cy="379.7" r="5.6"/><circle cx="1454.7" cy="378.5" r="5.6"/><circle cx="1455.6" cy="377.3" r="5.6"/><circle cx="1456.6" cy="376" r="5.6"/><circle cx="1457.5" cy="374.6" r="5.6"/><circle cx="1458.5" cy="373.2" r="5.6"/><circle cx="1459.5" cy="371.7" r="5.6"/><circle cx="1460.4" cy="370.1" r="5.6"/><circle cx="1461.4" cy="368.5" r="5.6"/><circle cx="1462.3" cy="366.8" r="5.6"/><circle cx="1463.3" cy="365.1" r="5.6"/><circle cx="1464.3" cy="363.4" r="5.6"/><circle cx="1465.2" cy="361.7" r="5.6"/><circle cx="1466.2" cy="360.1" r="5.6"/><circle cx="1467.2" cy="358.4" r="5.6"/><circle cx="1468.1" cy="356.9" r="5.6"/><circle cx="1469.1" cy="355.4" r="5.6"/><circle cx="1470" cy="353.9" r="5.6"/><circle cx="1471" cy="352.4" r="5.6"/><circle cx="1472" cy="351" r="5.6"/><circle cx="1472.9" cy="349.6" r="5.6"/><circle cx="1473.9" cy="348.2" r="5.6"/><circle cx="1474.8" cy="346.8" r="5.6"/><circle cx="1475.8" cy="345.4" r="5.6"/><circle cx="1476.8" cy="344" r="5.6"/><circle cx="1477.7" cy="342.7" r="5.6"/><circle cx="1478.7" cy="341.4" r="5.6"/><circle cx="1479.6" cy="340.1" r="5.6"/><circle cx="1480.6" cy="338.8" r="5.6"/><circle cx="1481.6" cy="337.6" r="5.6"/><circle cx="1482.5" cy="336.4" r="5.6"/><circle cx="1483.5" cy="335.2" r="5.6"/><circle cx="1484.4" cy="334.1" r="5.6"/><circle cx="1485.4" cy="332.9" r="5.6"/><circle cx="1486.4" cy="331.8" r="5.6"/><circle cx="1487.3" cy="330.7" r="5.6"/><circle cx="1488.3" cy="329.6" r="5.6"/><circle cx="1489.2" cy="328.5" r="5.6"/><circle cx="1490.2" cy="327.5" r="5.6"/><circle cx="1491.2" cy="326.4" r="5.6"/><circle cx="1492.1" cy="325.4" r="5.6"/><circle cx="1493.1" cy="324.3" r="5.6"/><circle cx="1494" cy="323.3" r="5.6"/><circle cx="1495" cy="322.3" r="5.6"/><circle cx="1496" cy="321.2" r="5.6"/><circle cx="1496.9" cy="320.2" r="5.6"/><circle cx="1497.9" cy="319.1" r="5.6"/><circle cx="1498.8" cy="318" r="5.6"/><circle cx="1499.8" cy="317" r="5.6"/><circle cx="1500.8" cy="315.9" r="5.6"/><circle cx="1501.7" cy="314.9" r="5.6"/><circle cx="1502.7" cy="313.8" r="5.6"/><circle cx="1503.6" cy="312.9" r="5.6"/><circle cx="1504.6" cy="311.9" r="5.6"/><circle cx="1505.6" cy="311" r="5.6"/><circle cx="1506.5" cy="310.1" r="5.6"/><circle cx="1507.5" cy="309.3" r="5.6"/><circle cx="1508.4" cy="308.5" r="5.6"/><circle cx="1509.4" cy="307.8" r="5.6"/><circle cx="1510.4" cy="307.2" r="5.6"/><circle cx="1511.3" cy="306.6" r="5.6"/><circle cx="1512.3" cy="306.1" r="5.6"/><circle cx="1513.2" cy="305.6" r="5.6"/><circle cx="1514.2" cy="305.2" r="5.6"/><circle cx="1515.2" cy="304.8" r="5.6"/><circle cx="1516.1" cy="304.3" r="5.6"/><circle cx="1517.1" cy="303.9" r="5.6"/><circle cx="1518.1" cy="303.5" r="5.6"/><circle cx="1519" cy="303.1" r="5.6"/><circle cx="1520" cy="302.7" r="5.6"/><circle cx="1520.9" cy="302.2" r="5.6"/><circle cx="1521.9" cy="301.8" r="5.6"/><circle cx="1522.9" cy="301.2" r="5.6"/><circle cx="1523.8" cy="300.7" r="5.6"/><circle cx="1524.8" cy="300" r="5.6"/><circle cx="1525.7" cy="299.3" r="5.6"/><circle cx="1526.7" cy="298.5" r="5.6"/><circle cx="1527.7" cy="297.6" r="5.6"/><circle cx="1528.6" cy="296.7" r="5.6"/><circle cx="1529.6" cy="295.7" r="5.6"/><circle cx="1530.5" cy="294.7" r="5.6"/><circle cx="1531.5" cy="293.7" r="5.6"/><circle cx="1532.5" cy="292.8" r="5.6"/><circle cx="1533.4" cy="291.8" r="5.6"/><circle cx="1534.4" cy="291" r="5.6"/><circle cx="1535.3" cy="290.2" r="5.6"/><circle cx="1536.3" cy="289.5" r="5.6"/><circle cx="1537.3" cy="288.8" r="5.6"/><circle cx="1538.2" cy="288.2" r="5.6"/><circle cx="1539.2" cy="287.5" r="5.6"/><circle cx="1540.1" cy="286.9" r="5.6"/><circle cx="1541.1" cy="286.3" r="5.6"/><circle cx="1542.1" cy="285.7" r="5.6"/><circle cx="1543" cy="285.1" r="5.6"/><circle cx="1544" cy="284.6" r="5.6"/><circle cx="1544.9" cy="284" r="5.6"/><circle cx="1545.9" cy="283.5" r="5.6"/><circle cx="1546.9" cy="282.9" r="5.6"/><circle cx="1547.8" cy="282.4" r="5.6"/><circle cx="1548.8" cy="281.9" r="5.6"/><circle cx="1549.7" cy="281.3" r="5.6"/><circle cx="1550.7" cy="280.8" r="5.6"/><circle cx="1551.7" cy="280.3" r="5.6"/><circle cx="1552.6" cy="279.8" r="5.6"/><circle cx="1553.6" cy="279.3" r="5.6"/><circle cx="1554.5" cy="278.8" r="5.6"/><circle cx="1555.5" cy="278.3" r="5.6"/><circle cx="1556.5" cy="277.7" r="5.6"/><circle cx="1557.4" cy="277.2" r="5.6"/><circle cx="1558.4" cy="276.7" r="5.6"/><circle cx="1559.3" cy="276.2" r="5.6"/><circle cx="1560.3" cy="275.7" r="5.6"/><circle cx="1561.3" cy="275.2" r="5.6"/><circle cx="1562.2" cy="274.7" r="5.6"/><circle cx="1563.2" cy="274.2" r="5.6"/><circle cx="1564.1" cy="273.7" r="5.6"/><circle cx="1565.1" cy="273.2" r="5.6"/><circle cx="1566.1" cy="272.7" r="5.6"/><circle cx="1567" cy="272.2" r="5.6"/><circle cx="1568" cy="271.7" r="5.6"/><circle cx="1569" cy="271.3" r="5.6"/><circle cx="1569.9" cy="270.8" r="5.6"/><circle cx="1570.9" cy="270.4" r="5.6"/><circle cx="1571.8" cy="269.9" r="5.6"/><circle cx="1572.8" cy="269.5" r="5.6"/><circle cx="1573.8" cy="269.1" r="5.6"/><circle cx="1574.7" cy="268.7" r="5.6"/><circle cx="1575.7" cy="268.3" r="5.6"/><circle cx="1576.6" cy="267.9" r="5.6"/><circle cx="1577.6" cy="267.5" r="5.6"/><circle cx="1578.6" cy="267.2" r="5.6"/><circle cx="1579.5" cy="266.9" r="5.6"/><circle cx="1580.5" cy="266.5" r="5.6"/><circle cx="1581.4" cy="266.2" r="5.6"/><circle cx="1582.4" cy="265.9" r="5.6"/><circle cx="1583.4" cy="265.5" r="5.6"/><circle cx="1584.3" cy="265.2" r="5.6"/><circle cx="1585.3" cy="264.8" r="5.6"/><circle cx="1586.2" cy="264.5" r="5.6"/><circle cx="1587.2" cy="264.1" r="5.6"/><circle cx="1588.2" cy="263.7" r="5.6"/><circle cx="1589.1" cy="263.3" r="5.6"/><circle cx="1590.1" cy="262.9" r="5.6"/><circle cx="1591" cy="262.5" r="5.6"/><circle cx="1592" cy="262" r="5.6"/><circle cx="1593" cy="261.5" r="5.6"/><circle cx="1593.9" cy="261" r="5.6"/><circle cx="1594.9" cy="260.5" r="5.6"/><circle cx="1595.8" cy="260" r="5.6"/><circle cx="1596.8" cy="259.5" r="5.6"/><circle cx="1597.8" cy="259" r="5.6"/><circle cx="1598.7" cy="258.4" r="5.6"/><circle cx="1599.7" cy="258" r="5.6"/><circle cx="1600.6" cy="257.5" r="5.6"/><circle cx="1601.6" cy="257" r="5.6"/><circle cx="1602.6" cy="256.6" r="5.6"/><circle cx="1603.5" cy="256.2" r="5.6"/><circle cx="1604.5" cy="255.7" r="5.6"/><circle cx="1605.4" cy="255.3" r="5.6"/><circle cx="1606.4" cy="254.9" r="5.6"/><circle cx="1607.4" cy="254.5" r="5.6"/><circle cx="1608.3" cy="254.1" r="5.6"/><circle cx="1609.3" cy="253.7" r="5.6"/><circle cx="1610.2" cy="253.3" r="5.6"/><circle cx="1611.2" cy="252.9" r="5.6"/><circle cx="1612.2" cy="252.5" r="5.6"/><circle cx="1613.1" cy="252.1" r="5.6"/><circle cx="1614.1" cy="251.7" r="5.6"/><circle cx="1615" cy="251.4" r="5.6"/><circle cx="1616" cy="251" r="5.6"/><circle cx="1617" cy="250.6" r="5.6"/><circle cx="1617.9" cy="250.3" r="5.6"/><circle cx="1618.9" cy="250" r="5.6"/><circle cx="1619.9" cy="249.6" r="5.6"/><circle cx="1620.8" cy="249.3" r="5.6"/><circle cx="1621.8" cy="249" r="5.6"/><circle cx="1622.7" cy="248.7" r="5.6"/><circle cx="1623.7" cy="248.4" r="5.6"/><circle cx="1624.7" cy="248.2" r="5.6"/><circle cx="1625.6" cy="247.9" r="5.6"/><circle cx="1626.6" cy="247.6" r="5.6"/><circle cx="1627.5" cy="247.3" r="5.6"/><circle cx="1628.5" cy="247.1" r="5.6"/><circle cx="1629.5" cy="246.8" r="5.6"/><circle cx="1630.4" cy="246.6" r="5.6"/><circle cx="1631.4" cy="246.3" r="5.6"/><circle cx="1632.3" cy="246.1" r="5.6"/><circle cx="1633.3" cy="245.8" r="5.6"/><circle cx="1634.3" cy="245.6" r="5.6"/><circle cx="1635.2" cy="245.4" r="5.6"/><circle cx="1636.2" cy="245.1" r="5.6"/><circle cx="1637.1" cy="244.9" r="5.6"/><circle cx="1638.1" cy="244.6" r="5.6"/><circle cx="1639.1" cy="244.4" r="5.6"/><circle cx="1640" cy="244.2" r="5.6"/><circle cx="1641" cy="243.9" r="5.6"/><circle cx="1641.9" cy="243.7" r="5.6"/><circle cx="1642.9" cy="243.5" r="5.6"/><circle cx="1643.9" cy="243.3" r="5.6"/><circle cx="1644.8" cy="243" r="5.6"/><circle cx="1645.8" cy="242.8" r="5.6"/><circle cx="1646.7" cy="242.6" r="5.6"/><circle cx="1647.7" cy="242.4" r="5.6"/><circle cx="1648.7" cy="242.2" r="5.6"/><circle cx="1649.6" cy="241.9" r="5.6"/><circle cx="1650.6" cy="241.7" r="5.6"/><circle cx="1651.5" cy="241.5" r="5.6"/><circle cx="1652.5" cy="241.3" r="5.6"/><circle cx="1653.5" cy="241.1" r="5.6"/><circle cx="1654.4" cy="240.9" r="5.6"/><circle cx="1655.4" cy="240.7" r="5.6"/><circle cx="1656.3" cy="240.5" r="5.6"/><circle cx="1657.3" cy="240.3" r="5.6"/><circle cx="1658.3" cy="240.1" r="5.6"/><circle cx="1659.2" cy="239.9" r="5.6"/><circle cx="1660.2" cy="239.7" r="5.6"/><circle cx="1661.1" cy="239.5" r="5.6"/><circle cx="1662.1" cy="239.3" r="5.6"/><circle cx="1663.1" cy="239.1" r="5.6"/><circle cx="1664" cy="238.9" r="5.6"/><circle cx="1665" cy="238.7" r="5.6"/><circle cx="1665.9" cy="238.5" r="5.6"/><circle cx="1666.9" cy="238.3" r="5.6"/><circle cx="1667.9" cy="238.2" r="5.6"/><circle cx="1668.8" cy="238" r="5.6"/><circle cx="1669.8" cy="237.8" r="5.6"/><circle cx="1670.7" cy="237.6" r="5.6"/><circle cx="1671.7" cy="237.4" r="5.6"/><circle cx="1672.7" cy="237.2" r="5.6"/><circle cx="1673.6" cy="237" r="5.6"/><circle cx="1674.6" cy="236.8" r="5.6"/><circle cx="1675.6" cy="236.6" r="5.6"/><circle cx="1676.5" cy="236.4" r="5.6"/><circle cx="1677.5" cy="236.2" r="5.6"/><circle cx="1678.4" cy="236" r="5.6"/><circle cx="1679.4" cy="235.7" r="5.6"/><circle cx="1680.4" cy="235.4" r="5.6"/><circle cx="1681.3" cy="235.2" r="5.6"/><circle cx="1682.3" cy="235" r="5.6"/><circle cx="1683.2" cy="234.8" r="5.6"/><circle cx="1684.2" cy="234.7" r="5.6"/><circle cx="1685.2" cy="234.6" r="5.6"/><circle cx="1686.1" cy="234.6" r="5.6"/><circle cx="1687.1" cy="234.7" r="5.6"/><circle cx="1688" cy="234.8" r="5.6"/><circle cx="1689" cy="235" r="5.6"/><circle cx="1690" cy="235.1" r="5.6"/><circle cx="1690.9" cy="235.3" r="5.6"/><circle cx="1691.9" cy="235.4" r="5.6"/><circle cx="1692.8" cy="235.5" r="5.6"/><circle cx="1693.8" cy="235.5" r="5.6"/><circle cx="1694.8" cy="235.4" r="5.6"/><circle cx="1695.7" cy="235.1" r="5.6"/><circle cx="1696.7" cy="234.7" r="5.6"/><circle cx="1697.6" cy="234.2" r="5.6"/><circle cx="1698.6" cy="233.6" r="5.6"/><circle cx="1699.6" cy="233" r="5.6"/><circle cx="1700.5" cy="232.4" r="5.6"/><circle cx="1701.5" cy="231.9" r="5.6"/><circle cx="1702.4" cy="231.4" r="5.6"/><circle cx="1703.4" cy="231" r="5.6"/><circle cx="1704.4" cy="230.8" r="5.6"/><circle cx="1705.3" cy="230.6" r="5.6"/><circle cx="1706.3" cy="230.4" r="5.6"/><circle cx="1707.2" cy="230.3" r="5.6"/><circle cx="1708.2" cy="230.1" r="5.6"/><circle cx="1709.2" cy="230" r="5.6"/><circle cx="1710.1" cy="229.9" r="5.6"/><circle cx="1711.1" cy="229.7" r="5.6"/><circle cx="1712" cy="229.6" r="5.6"/><circle cx="1713" cy="229.5" r="5.6"/><circle cx="1714" cy="229.4" r="5.6"/><circle cx="1714.9" cy="229.3" r="5.6"/><circle cx="1715.9" cy="229.2" r="5.6"/><circle cx="1716.8" cy="229.1" r="5.6"/><circle cx="1717.8" cy="229" r="5.6"/><circle cx="1718.8" cy="228.9" r="5.6"/><circle cx="1719.7" cy="228.8" r="5.6"/><circle cx="1720.7" cy="228.7" r="5.6"/><circle cx="1721.6" cy="228.6" r="5.6"/><circle cx="1722.6" cy="228.5" r="5.6"/><circle cx="1723.6" cy="228.3" r="5.6"/><circle cx="1724.5" cy="228.2" r="5.6"/><circle cx="1725.5" cy="228" r="5.6"/><circle cx="1726.5" cy="227.9" r="5.6"/><circle cx="1727.4" cy="227.7" r="5.6"/><circle cx="1728.4" cy="227.5" r="5.6"/><circle cx="1729.3" cy="227.3" r="5.6"/><circle cx="1730.3" cy="227.2" r="5.6"/><circle cx="1731.3" cy="227" r="5.6"/><circle cx="1732.2" cy="226.9" r="5.6"/><circle cx="1733.2" cy="226.7" r="5.6"/><circle cx="1734.1" cy="226.6" r="5.6"/><circle cx="1735.1" cy="226.5" r="5.6"/><circle cx="1736.1" cy="226.5" r="5.6"/><circle cx="1737" cy="226.4" r="5.6"/><circle cx="1738" cy="226.4" r="5.6"/><circle cx="1738.9" cy="226.4" r="5.6"/><circle cx="1739.9" cy="226.5" r="5.6"/><circle cx="1740.9" cy="226.6" r="5.6"/><circle cx="1741.8" cy="226.7" r="5.6"/><circle cx="1742.8" cy="226.8" r="5.6"/><circle cx="1743.7" cy="226.9" r="5.6"/><circle cx="1744.7" cy="227" r="5.6"/><circle cx="1745.7" cy="227.2" r="5.6"/><circle cx="1746.6" cy="227.3" r="5.6"/><circle cx="1747.6" cy="227.4" r="5.6"/><circle cx="1748.5" cy="227.5" r="5.6"/><circle cx="1749.5" cy="227.5" r="5.6"/><circle cx="1750.5" cy="227.5" r="5.6"/><circle cx="1751.4" cy="227.4" r="5.6"/><circle cx="1752.4" cy="227.3" r="5.6"/><circle cx="1753.3" cy="227.1" r="5.6"/><circle cx="1754.3" cy="226.9" r="5.6"/><circle cx="1755.3" cy="226.6" r="5.6"/><circle cx="1756.2" cy="226.3" r="5.6"/><circle cx="1757.2" cy="226" r="5.6"/><circle cx="1758.1" cy="225.6" r="5.6"/><circle cx="1759.1" cy="225.3" r="5.6"/><circle cx="1760.1" cy="225" r="5.6"/><circle cx="1761" cy="224.6" r="5.6"/><circle cx="1762" cy="224.3" r="5.6"/><circle cx="1762.9" cy="224.1" r="5.6"/><circle cx="1763.9" cy="223.9" r="5.6"/><circle cx="1764.9" cy="223.7" r="5.6"/><circle cx="1765.8" cy="223.6" r="5.6"/><circle cx="1766.8" cy="223.5" r="5.6"/><circle cx="1767.7" cy="223.3" r="5.6"/><circle cx="1768.7" cy="223.2" r="5.6"/><circle cx="1769.7" cy="223.1" r="5.6"/><circle cx="1770.6" cy="223" r="5.6"/><circle cx="1771.6" cy="222.9" r="5.6"/><circle cx="1772.5" cy="222.8" r="5.6"/><circle cx="1773.5" cy="222.7" r="5.6"/><circle cx="1774.5" cy="222.6" r="5.6"/><circle cx="1775.4" cy="222.5" r="5.6"/><circle cx="1776.4" cy="222.4" r="5.6"/><circle cx="1777.4" cy="222.3" r="5.6"/><circle cx="1778.3" cy="222.2" r="5.6"/><circle cx="1779.3" cy="222.1" r="5.6"/><circle cx="1780.2" cy="222" r="5.6"/><circle cx="1781.2" cy="221.9" r="5.6"/><circle cx="1782.2" cy="221.9" r="5.6"/><circle cx="1783.1" cy="221.8" r="5.6"/><circle cx="1784.1" cy="221.7" r="5.6"/><circle cx="1785" cy="221.7" r="5.6"/><circle cx="1786" cy="221.6" r="5.6"/><circle cx="1787" cy="221.6" r="5.6"/><circle cx="1787.9" cy="221.6" r="5.6"/><circle cx="1788.9" cy="221.5" r="5.6"/><circle cx="1789.8" cy="221.5" r="5.6"/><circle cx="1790.8" cy="221.5" r="5.6"/><circle cx="1791.8" cy="221.5" r="5.6"/><circle cx="1792.7" cy="221.5" r="5.6"/><circle cx="1793.7" cy="221.6" r="5.6"/><circle cx="1794.6" cy="221.8" r="5.6"/><circle cx="1795.6" cy="222" r="5.6"/><circle cx="1796.6" cy="222.2" r="5.6"/><circle cx="1797.5" cy="222.4" r="5.6"/><circle cx="1798.5" cy="222.5" r="5.6"/><circle cx="1799.4" cy="222.6" r="5.6"/><circle cx="1800.4" cy="222.6" r="5.6"/><circle cx="1801.4" cy="222.5" r="5.6"/><circle cx="1802.3" cy="222.4" r="5.6"/><circle cx="1803.3" cy="222.3" r="5.6"/><circle cx="1804.2" cy="222.1" r="5.6"/><circle cx="1805.2" cy="221.9" r="5.6"/><circle cx="1806.2" cy="221.7" r="5.6"/><circle cx="1807.1" cy="221.5" r="5.6"/><circle cx="1808.1" cy="221.3" r="5.6"/><circle cx="1809" cy="221.1" r="5.6"/><circle cx="1810" cy="220.9" r="5.6"/><circle cx="1811" cy="220.7" r="5.6"/><circle cx="1811.9" cy="220.6" r="5.6"/><circle cx="1812.9" cy="220.5" r="5.6"/><circle cx="1813.8" cy="220.4" r="5.6"/><circle cx="1814.8" cy="220.3" r="5.6"/><circle cx="1815.8" cy="220.3" r="5.6"/><circle cx="1816.7" cy="220.2" r="5.6"/><circle cx="1817.7" cy="220.2" r="5.6"/><circle cx="1818.6" cy="220.1" r="5.6"/><circle cx="1819.6" cy="220.1" r="5.6"/><circle cx="1820.6" cy="220" r="5.6"/><circle cx="1821.5" cy="220" r="5.6"/><circle cx="1822.5" cy="219.9" r="5.6"/><circle cx="1823.4" cy="219.9" r="5.6"/><circle cx="1824.4" cy="219.8" r="5.6"/><circle cx="1825.4" cy="219.8" r="5.6"/><circle cx="1826.3" cy="219.8" r="5.6"/><circle cx="1827.3" cy="219.7" r="5.6"/><circle cx="1828.2" cy="219.7" r="5.6"/><circle cx="1829.2" cy="219.7" r="5.6"/><circle cx="1830.2" cy="219.7" r="5.6"/><circle cx="1831.1" cy="219.6" r="5.6"/><circle cx="1832.1" cy="219.6" r="5.6"/><circle cx="1833.1" cy="219.6" r="5.6"/><circle cx="1834" cy="219.6" r="5.6"/><circle cx="1835" cy="219.6" r="5.6"/><circle cx="1835.9" cy="219.6" r="5.6"/><circle cx="1836.9" cy="219.7" r="5.6"/><circle cx="1837.9" cy="219.7" r="5.6"/><circle cx="1838.8" cy="219.9" r="5.6"/><circle cx="1839.8" cy="220" r="5.6"/><circle cx="1840.7" cy="220.1" r="5.6"/><circle cx="1841.7" cy="220.2" r="5.6"/><circle cx="1842.7" cy="220.3" r="5.6"/><circle cx="1843.6" cy="220.4" r="5.6"/><circle cx="1844.6" cy="220.4" r="5.6"/><circle cx="1845.5" cy="220.3" r="5.6"/><circle cx="1846.5" cy="220.2" r="5.6"/><circle cx="1847.5" cy="220" r="5.6"/><circle cx="1848.4" cy="219.7" r="5.6"/><circle cx="1849.4" cy="219.5" r="5.6"/><circle cx="1850.3" cy="219.1" r="5.6"/><circle cx="1851.3" cy="218.8" r="5.6"/><circle cx="1852.3" cy="218.5" r="5.6"/><circle cx="1853.2" cy="218.2" r="5.6"/><circle cx="1854.2" cy="218" r="5.6"/><circle cx="1855.1" cy="217.7" r="5.6"/><circle cx="1856.1" cy="217.5" r="5.6"/><circle cx="1857.1" cy="217.4" r="5.6"/><circle cx="1858" cy="217.3" r="5.6"/><circle cx="1859" cy="217.3" r="5.6"/><circle cx="1859.9" cy="217.2" r="5.6"/><circle cx="1860.9" cy="217.1" r="5.6"/><circle cx="1861.9" cy="217" r="5.6"/><circle cx="1862.8" cy="217" r="5.6"/><circle cx="1863.8" cy="216.9" r="5.6"/><circle cx="1864.7" cy="216.9" r="5.6"/><circle cx="1865.7" cy="216.8" r="5.6"/><circle cx="1866.7" cy="216.8" r="5.6"/><circle cx="1867.6" cy="216.7" r="5.6"/><circle cx="1868.6" cy="216.7" r="5.6"/><circle cx="1869.5" cy="216.6" r="5.6"/><circle cx="1870.5" cy="216.6" r="5.6"/><circle cx="1871.5" cy="216.5" r="5.6"/><circle cx="1872.4" cy="216.5" r="5.6"/><circle cx="1873.4" cy="216.5" r="5.6"/><circle cx="1874.3" cy="216.5" r="5.6"/><circle cx="1875.3" cy="216.4" r="5.6"/><circle cx="1876.3" cy="216.4" r="5.6"/><circle cx="1877.2" cy="216.4" r="5.6"/><circle cx="1878.2" cy="216.4" r="5.6"/><circle cx="1879.1" cy="216.4" r="5.6"/><circle cx="1880.1" cy="216.4" r="5.6"/><circle cx="1881.1" cy="216.5" r="5.6"/><circle cx="1882" cy="216.7" r="5.6"/><circle cx="1883" cy="216.9" r="5.6"/><circle cx="1884" cy="217.1" r="5.6"/><circle cx="1884.9" cy="217.3" r="5.6"/><circle cx="1885.9" cy="217.6" r="5.6"/><circle cx="1886.8" cy="217.8" r="5.6"/><circle cx="1887.8" cy="218.1" r="5.6"/><circle cx="1888.8" cy="218.3" r="5.6"/><circle cx="1889.7" cy="218.6" r="5.6"/><circle cx="1890.7" cy="218.8" r="5.6"/><circle cx="1891.6" cy="219" r="5.6"/><circle cx="1892.6" cy="219.1" r="5.6"/><circle cx="1893.6" cy="219.2" r="5.6"/><circle cx="1894.5" cy="219.3" r="5.6"/><circle cx="1895.5" cy="219.3" r="5.6"/><circle cx="1896.4" cy="219.1" r="5.6"/><circle cx="1897.4" cy="218.9" r="5.6"/><circle cx="1898.4" cy="218.5" r="5.6"/><circle cx="1899.3" cy="218.1" r="5.6"/><circle cx="1900.3" cy="217.7" r="5.6"/><circle cx="1901.2" cy="217.3" r="5.6"/><circle cx="1902.2" cy="216.9" r="5.6"/><circle cx="1903.2" cy="216.7" r="5.6"/><circle cx="1904.1" cy="216.6" r="5.6"/><circle cx="1905.1" cy="216.5" r="5.6"/><circle cx="1906" cy="216.4" r="5.6"/><circle cx="1907" cy="216.4" r="5.6"/></g>
</g>
<g stroke-linecap="round" fill="none" shape-rendering="crispEdges">
<line x1="996.8" y1="272" x2="999" y2="1268" stroke="#ff0000" stroke-width="4"/>
<path d="M992,1265H1006L999,1290.6Z" fill="#ff0000" stroke="none"/>
<line x1="706.5" y1="238.6" x2="1054" y2="276.6" stroke="#00ff00" stroke-width="4.8"/>
<line x1="975.4" y1="234.6" x2="1092.6" y2="472.4" stroke="#00ff00" stroke-width="4.8"/>
</g>
<g stroke="#000000" stroke-width="5.8" stroke-linecap="round" fill="none" shape-rendering="crispEdges">
<path d="M255.1,72.0V1296.9M255.1,72h-24.1M255.1,140.1h-12.1M255.1,208.1h-24.1M255.1,276.1h-12.1M255.1,344.2h-24.1M255.1,412.3h-12.1M255.1,480.3h-24.1M255.1,548.4h-12.1M255.1,616.4h-24.1M255.1,684.5h-12.1M255.1,752.5h-24.1M255.1,820.5h-12.1M255.1,888.6h-24.1M255.1,956.6h-12.1M255.1,1024.7h-24.1M255.1,1092.8h-12.1M255.1,1160.8h-24.1M255.1,1228.9h-12.1M255.1,1296.9h-24.1M255.1,72.0H1910.1M327.1,72.0v24.1M399,72.0v12.1M471,72.0v24.1M542.9,72.0v12.1M614.9,72.0v24.1M686.8,72.0v12.1M758.8,72.0v24.1M830.8,72.0v12.1M902.7,72.0v24.1M974.7,72.0v12.1M1046.6,72.0v24.1M1118.6,72.0v12.1M1190.5,72.0v24.1M1262.5,72.0v12.1M1334.4,72.0v24.1M1406.4,72.0v12.1M1478.4,72.0v24.1M1550.3,72.0v12.1M1622.3,72.0v24.1M1694.2,72.0v12.1M1766.2,72.0v24.1M1838.1,72.0v12.1M255.1,1296.9H1910.1M255.1,1296.9v12.1M327.1,1296.9v25.0M399,1296.9v12.1M471,1296.9v25.0M542.9,1296.9v12.1M614.9,1296.9v25.0M686.8,1296.9v12.1M758.8,1296.9v25.0M830.8,1296.9v12.1M902.7,1296.9v25.0M974.7,1296.9v12.1M1046.6,1296.9v25.0M1118.6,1296.9v12.1M1190.5,1296.9v25.0M1262.5,1296.9v12.1M1334.4,1296.9v25.0M1406.4,1296.9v12.1M1478.4,1296.9v25.0M1550.3,1296.9v12.1M1622.3,1296.9v25.0M1694.2,1296.9v12.1M1766.2,1296.9v25.0M1838.1,1296.9v12.1M1910.1,1296.9v25.0"/>
</g>
<g stroke="#0000ff" stroke-width="5.8" stroke-linecap="round" fill="none" shape-rendering="crispEdges">
<path d="M1910.1,72.0V1296.9M1910.1,72h24.900000000000002M1910.1,140.1h12.9M1910.1,208.1h24.900000000000002M1910.1,276.1h12.9M1910.1,344.2h24.900000000000002M1910.1,412.2h12.9M1910.1,480.3h24.900000000000002M1910.1,548.4h12.9M1910.1,616.4h24.900000000000002M1910.1,684.5h12.9M1910.1,752.5h24.900000000000002M1910.1,820.6h12.9M1910.1,888.6h24.900000000000002M1910.1,956.7h12.9M1910.1,1024.7h24.900000000000002M1910.1,1092.8h12.9M1910.1,1160.8h24.900000000000002M1910.1,1228.9h12.9M1910.1,1296.9h24.900000000000002"/>
</g>
<g class="b" font-size="49.3" letter-spacing="-1.5" fill="#000000">
<text x="212.3" y="84.0" text-anchor="end">110</text>
<text x="212.3" y="221.1" text-anchor="end">100</text>
<text x="212.3" y="357.2" text-anchor="end">90</text>
<text x="212.3" y="493.3" text-anchor="end">80</text>
<text x="212.3" y="629.4" text-anchor="end">70</text>
<text x="212.3" y="765.5" text-anchor="end">60</text>
<text x="212.3" y="901.6" text-anchor="end">50</text>
<text x="212.3" y="1037.7" text-anchor="end">40</text>
<text x="212.3" y="1173.8" text-anchor="end">30</text>
<text x="212.3" y="1309.9" text-anchor="end">20</text>
<text x="327.4" y="1376.2" text-anchor="middle" letter-spacing="-0.9">50</text>
<text x="471.3" y="1376.2" text-anchor="middle" letter-spacing="-0.9">100</text>
<text x="615.2" y="1376.2" text-anchor="middle" letter-spacing="-0.9">150</text>
<text x="759.1" y="1376.2" text-anchor="middle" letter-spacing="-0.9">200</text>
<text x="903.0" y="1376.2" text-anchor="middle" letter-spacing="-0.9">250</text>
<text x="1046.9" y="1376.2" text-anchor="middle" letter-spacing="-0.9">300</text>
<text x="1190.8" y="1376.2" text-anchor="middle" letter-spacing="-0.9">350</text>
<text x="1334.7" y="1376.2" text-anchor="middle" letter-spacing="-0.9">400</text>
<text x="1478.7" y="1376.2" text-anchor="middle" letter-spacing="-0.9">450</text>
<text x="1622.6" y="1376.2" text-anchor="middle" letter-spacing="-0.9">500</text>
<text x="1766.5" y="1376.2" text-anchor="middle" letter-spacing="-0.9">550</text>
<text x="1910.4" y="1376.2" text-anchor="middle" letter-spacing="-0.9">600</text>
</g>
<g class="b" font-size="57.8" letter-spacing="-3.1" fill="#0000ff">
<text x="1950.6" y="95.1">0.001</text>
<text x="1950.6" y="229.4">0</text>
<text x="1950.6" y="363.8"><tspan dx="-1.2" dy="2.3">–</tspan><tspan dx="1.2" dy="-2.3">0.001</tspan></text>
<text x="1950.6" y="498.1"><tspan dx="-1.2" dy="2.3">–</tspan><tspan dx="1.2" dy="-2.3">0.002</tspan></text>
<text x="1950.6" y="632.4"><tspan dx="-1.2" dy="2.3">–</tspan><tspan dx="1.2" dy="-2.3">0.003</tspan></text>
<text x="1950.6" y="766.8"><tspan dx="-1.2" dy="2.3">–</tspan><tspan dx="1.2" dy="-2.3">0.004</tspan></text>
<text x="1950.6" y="901.1"><tspan dx="-1.2" dy="2.3">–</tspan><tspan dx="1.2" dy="-2.3">0.005</tspan></text>
<text x="1950.6" y="1035.4"><tspan dx="-1.2" dy="2.3">–</tspan><tspan dx="1.2" dy="-2.3">0.006</tspan></text>
<text x="1950.6" y="1169.7"><tspan dx="-1.2" dy="2.3">–</tspan><tspan dx="1.2" dy="-2.3">0.007</tspan></text>
<text x="1950.6" y="1304.1"><tspan dx="-1.2" dy="2.3">–</tspan><tspan dx="1.2" dy="-2.3">0.008</tspan></text>
</g>
<text class="b" font-size="63.3" letter-spacing="1.3" fill="#000000" transform="translate(78.3,853.6) rotate(-90) scale(0.9,1)">mass (%)</text>
<text class="b" font-size="64.5" letter-spacing="-1.5" fill="#000000" transform="translate(1050.6,1478.5) scale(0.93,1)">ºC</text>
<text class="b" font-size="63.3" letter-spacing="0" fill="#0000ff" transform="translate(2131.5,668.5) rotate(90) scale(0.92,1)">1/ºC</text>
<text class="b" font-size="64.2" letter-spacing="-0.3" fill="#ff0000" transform="translate(687.3,910.3) scale(0.933,1)">287,60ºC</text>
<g stroke-linecap="round" shape-rendering="crispEdges">
<line x1="1364.3" y1="608.1" x2="1519" y2="608.1" stroke="#000000" stroke-width="4"/>
<rect x="1436" y="603.1" width="10.2" height="10.2" fill="#fff" stroke="#000000" stroke-width="2"/>
<line x1="1364.3" y1="682.1" x2="1519" y2="682.1" stroke="#0000ff" stroke-width="4"/>
<circle cx="1441" cy="682.1" r="6.7" fill="#0000ff"/>
</g>
<g font-size="62.6" letter-spacing="-0.75" fill="#000000">
<text x="1536.2" y="629.4">Gel-coat</text>
<text x="1536" y="704">Flow Curve</text>
</g>
</svg></body></html>
